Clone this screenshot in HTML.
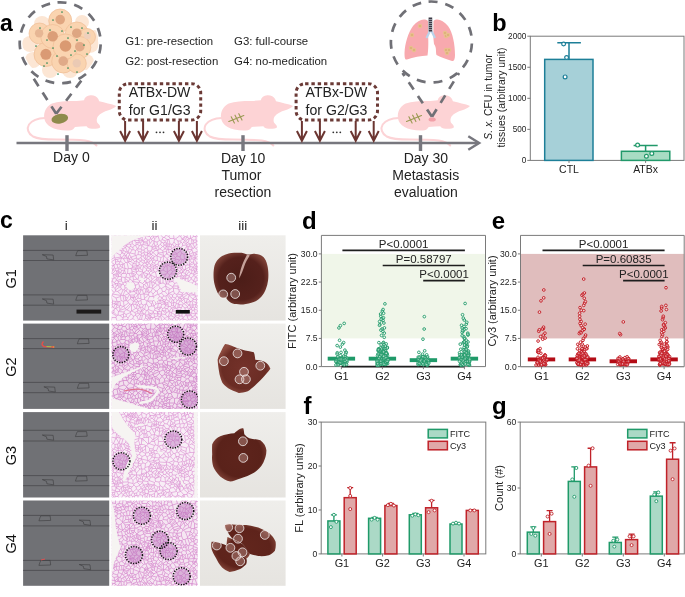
<!DOCTYPE html>
<html><head><meta charset="utf-8"><title>Figure</title>
<style>html,body{margin:0;padding:0;background:#fff;}svg{display:block;font-family:"Liberation Sans",sans-serif;opacity:0.999;}</style>
</head><body>
<svg width="685" height="597" viewBox="0 0 685 597">
<rect width="685" height="597" fill="#fff"/>
<defs><clipPath id="clipA1"><circle cx="60.3" cy="43" r="38"/></clipPath><clipPath id="clipH0"><rect x="111.5" y="235.3" width="86.19999999999999" height="85.30000000000001"/></clipPath><clipPath id="clipH1"><rect x="111.5" y="323.6" width="86.19999999999999" height="85.29999999999995"/></clipPath><clipPath id="clipH2"><rect x="111.5" y="412.1" width="86.19999999999999" height="85.39999999999998"/></clipPath><clipPath id="clipH3"><rect x="111.5" y="500.5" width="86.19999999999999" height="85.29999999999995"/></clipPath><radialGradient id="lg0" cx="0.5" cy="0.5" r="0.55"><stop offset="0" stop-color="#4c1d18"/><stop offset="0.75" stop-color="#55211c"/><stop offset="1" stop-color="#7c4036"/></radialGradient><radialGradient id="lg1" cx="0.5" cy="0.5" r="0.55"><stop offset="0" stop-color="#74322a"/><stop offset="0.75" stop-color="#6a2c24"/><stop offset="1" stop-color="#8e4c40"/></radialGradient><radialGradient id="lg2" cx="0.5" cy="0.5" r="0.55"><stop offset="0" stop-color="#5e241c"/><stop offset="0.75" stop-color="#5a221a"/><stop offset="1" stop-color="#7e4036"/></radialGradient><radialGradient id="lg3" cx="0.5" cy="0.5" r="0.55"><stop offset="0" stop-color="#62261d"/><stop offset="0.75" stop-color="#5e231b"/><stop offset="1" stop-color="#824438"/></radialGradient><linearGradient id="photoBg" x1="0" y1="0" x2="0" y2="1"><stop offset="0" stop-color="#efeeeb"/><stop offset="1" stop-color="#e6e4e0"/></linearGradient><filter id="blurH" x="0" y="0" width="100%" height="100%"><feGaussianBlur stdDeviation="0.3"/></filter></defs><text x="0" y="30.5" font-size="23" text-anchor="start" font-weight="bold" fill="#000" >a</text><g clip-path="url(#clipA1)"><circle cx="42" cy="24" r="8" fill="#fce6d4"/><circle cx="82" cy="22" r="7" fill="#fce6d4"/><circle cx="90" cy="44" r="9" fill="#fce6d4"/><circle cx="86" cy="62" r="8" fill="#fce6d4"/><circle cx="70" cy="70" r="8" fill="#fce6d4"/><circle cx="50" cy="70" r="8" fill="#fce6d4"/><circle cx="33" cy="60" r="8" fill="#fce6d4"/><circle cx="30" cy="44" r="8" fill="#fce6d4"/><circle cx="38" cy="34" r="8" fill="#fce6d4"/><circle cx="94" cy="36" r="6" fill="#fce6d4"/><circle cx="60.2" cy="20.5" r="11.5" fill="#fad4b0" stroke="#efbd95" stroke-width="0.7"/><circle cx="76.8" cy="33.5" r="11.5" fill="#fad4b0" stroke="#efbd95" stroke-width="0.7"/><circle cx="39.5" cy="33.5" r="10.5" fill="#fad4b0" stroke="#efbd95" stroke-width="0.7"/><circle cx="87" cy="37" r="8.5" fill="#fad4b0" stroke="#efbd95" stroke-width="0.7"/><circle cx="79.8" cy="47.5" r="11" fill="#fad4b0" stroke="#efbd95" stroke-width="0.7"/><circle cx="46" cy="54.5" r="12" fill="#fad4b0" stroke="#efbd95" stroke-width="0.7"/><circle cx="63.2" cy="61.5" r="11.5" fill="#fad4b0" stroke="#efbd95" stroke-width="0.7"/><circle cx="76.8" cy="63.5" r="9.5" fill="#fad4b0" stroke="#efbd95" stroke-width="0.7"/><circle cx="52.7" cy="36.5" r="12" fill="#fad4b0" stroke="#efbd95" stroke-width="0.7"/><circle cx="65.5" cy="46.5" r="12.5" fill="#fad4b0" stroke="#efbd95" stroke-width="0.7"/><circle cx="60.2" cy="19.6" r="4.8" fill="#e0a680"/><circle cx="76.8" cy="33.2" r="4.8" fill="#dea682"/><circle cx="52.7" cy="36.2" r="5.2" fill="#db9e78"/><circle cx="39.1" cy="33.2" r="4.2" fill="#e6b694"/><circle cx="65.5" cy="46" r="5.8" fill="#da9a72"/><circle cx="79.8" cy="46.7" r="4.8" fill="#e2aa88"/><circle cx="45.9" cy="54.3" r="5.5" fill="#da9a74"/><circle cx="63.2" cy="61.1" r="4.8" fill="#e0aa88"/><circle cx="76.8" cy="63.3" r="4.2" fill="#ebcab4"/><circle cx="87.4" cy="35.4" r="3.5" fill="#efd0bc"/><circle cx="62" cy="12" r="0.85" fill="#2f8a57"/><circle cx="53" cy="20" r="0.85" fill="#2f8a57"/><circle cx="50" cy="30" r="0.85" fill="#2f8a57"/><circle cx="40" cy="28" r="0.85" fill="#2f8a57"/><circle cx="47" cy="40" r="0.85" fill="#2f8a57"/><circle cx="36" cy="46" r="0.85" fill="#2f8a57"/><circle cx="53" cy="48" r="0.85" fill="#2f8a57"/><circle cx="57" cy="56" r="0.85" fill="#2f8a57"/><circle cx="47" cy="63" r="0.85" fill="#2f8a57"/><circle cx="71" cy="55" r="0.85" fill="#2f8a57"/><circle cx="68" cy="38" r="0.85" fill="#2f8a57"/><circle cx="71" cy="27" r="0.85" fill="#2f8a57"/><circle cx="77" cy="40" r="0.85" fill="#2f8a57"/><circle cx="84" cy="45" r="0.85" fill="#2f8a57"/><circle cx="88" cy="33" r="0.85" fill="#2f8a57"/><circle cx="75" cy="51" r="0.85" fill="#2f8a57"/><circle cx="68" cy="68" r="0.85" fill="#2f8a57"/><circle cx="58" cy="74" r="0.85" fill="#2f8a57"/><circle cx="77" cy="72" r="0.85" fill="#2f8a57"/><circle cx="87" cy="54" r="0.85" fill="#2f8a57"/><circle cx="62" cy="31" r="0.85" fill="#2f8a57"/><circle cx="82" cy="28" r="0.85" fill="#2f8a57"/><circle cx="44" cy="66" r="0.85" fill="#2f8a57"/></g><circle cx="60.2" cy="42.8" r="40.5" fill="none" stroke="#707076" stroke-width="2.7" stroke-dasharray="9 7.965" transform="rotate(-93.8 60.2 42.8)"/><path d="M428,21 C424,18 418,20 413,26 C408,33 405,43 404.5,53 C404.5,58 405,60 407,59.5 C413,57 421,56 427.5,55.5 C428.5,50 428.5,40 428,33 Z" fill="#f8a9ae"/><path d="M433.5,21 C437,18 443,20 448,26 C453,33 455,45 455,55 C455,59 454,61.5 452,61 C446,59 440,57 436.5,55 C435.5,52 437,48 434,44 C433,38 433.5,30 433.5,21 Z" fill="#f8a9ae"/><path d="M430,31 L426.5,38 M431.5,31 L435,38" stroke="#b9d3ea" stroke-width="2.2" fill="none"/><rect x="428.6" y="17.5" width="3.6" height="14" fill="#3a3a44"/><rect x="428.6" y="19" width="3.6" height="0.6" fill="#d0d0dc"/><rect x="428.6" y="21" width="3.6" height="0.6" fill="#d0d0dc"/><rect x="428.6" y="23" width="3.6" height="0.6" fill="#d0d0dc"/><rect x="428.6" y="25" width="3.6" height="0.6" fill="#d0d0dc"/><rect x="428.6" y="27" width="3.6" height="0.6" fill="#d0d0dc"/><rect x="428.6" y="29" width="3.6" height="0.6" fill="#d0d0dc"/><circle cx="420" cy="26" r="2.2" fill="#e9c08d"/><circle cx="420" cy="26" r="0.7" fill="#c9955d"/><circle cx="412" cy="35" r="2.2" fill="#e9c08d"/><circle cx="412" cy="35" r="0.7" fill="#c9955d"/><circle cx="411" cy="48" r="2.2" fill="#e9c08d"/><circle cx="411" cy="48" r="0.7" fill="#c9955d"/><circle cx="414" cy="50" r="2.2" fill="#e9c08d"/><circle cx="414" cy="50" r="0.7" fill="#c9955d"/><circle cx="445" cy="33" r="2.2" fill="#e9c08d"/><circle cx="445" cy="33" r="0.7" fill="#c9955d"/><circle cx="446" cy="36" r="2.2" fill="#e9c08d"/><circle cx="446" cy="36" r="0.7" fill="#c9955d"/><circle cx="448" cy="35" r="2.2" fill="#e9c08d"/><circle cx="448" cy="35" r="0.7" fill="#c9955d"/><circle cx="446" cy="50" r="2.2" fill="#e9c08d"/><circle cx="446" cy="50" r="0.7" fill="#c9955d"/><circle cx="449" cy="50" r="2.2" fill="#e9c08d"/><circle cx="449" cy="50" r="0.7" fill="#c9955d"/><circle cx="447" cy="53" r="2.2" fill="#e9c08d"/><circle cx="447" cy="53" r="0.7" fill="#c9955d"/><circle cx="431.4" cy="42" r="40.5" fill="none" stroke="#707076" stroke-width="2.7" stroke-dasharray="9 7.965" transform="rotate(-94 431.4 42)"/><text x="125.2" y="45.0" font-size="11.4" text-anchor="start" font-weight="normal" fill="#222" >G1: pre-resection</text><text x="125.2" y="65.3" font-size="11.4" text-anchor="start" font-weight="normal" fill="#222" >G2: post-resection</text><text x="234.1" y="45.0" font-size="11.4" text-anchor="start" font-weight="normal" fill="#222" >G3: full-course</text><text x="234.1" y="65.3" font-size="11.4" text-anchor="start" font-weight="normal" fill="#222" >G4: no-medication</text><g transform="translate(0,0)"><path d="M45,118 C38,118.3 32,120.5 29,124.5 C26.5,128.5 28,133.5 33,136.5 C38,139 46,139.6 56,139.6 C66,139.6 76,139.6 85,140.6 C90,141.3 94,142.8 96.5,145.5" fill="none" stroke="#fcd3d6" stroke-width="2" stroke-linecap="round"/><path d="M44.1,115.5 C44.5,110 47,106 52,103.5 C58,101.2 66,101 74,101 C78,100.8 81,100.6 84,100.2 C84.5,97.5 87,95.6 90.5,95.3 C94,95.1 97,96.5 98.3,99 C98.7,100 99,100.8 99.2,101.2 C102,101.8 105,102.6 108,103.6 C111,104.4 114,105 116.3,105.9 C114,108 111.5,109.3 108.5,110.3 C104,111.6 100.5,113.3 97.8,116.5 C96.6,118.5 96.5,120.7 97.2,122.5 C98.6,124.2 100.4,125.3 100.2,127.2 C99.5,128.6 96,128.9 92,128.8 C89,128.6 87.3,127.6 86.6,126.3 C83,126.6 79,126.7 75,127 C74,128.5 73,129.7 71,130.2 C67,130.8 62,130.4 57.5,129.4 C52.5,128.3 48.5,126.3 46.2,123 C44.6,120.7 44,118 44.1,115.5 Z" fill="#fdd3d5"/><ellipse cx="59.8" cy="118.7" rx="8.4" ry="4.8" transform="rotate(-10 59.8 118.7)" fill="#8e8a4b"/></g><g transform="translate(176.8,0)"><path d="M45,118 C38,118.3 32,120.5 29,124.5 C26.5,128.5 28,133.5 33,136.5 C38,139 46,139.6 56,139.6 C66,139.6 76,139.6 85,140.6 C90,141.3 94,142.8 96.5,145.5" fill="none" stroke="#fcd3d6" stroke-width="2" stroke-linecap="round"/><path d="M44.1,115.5 C44.5,110 47,106 52,103.5 C58,101.2 66,101 74,101 C78,100.8 81,100.6 84,100.2 C84.5,97.5 87,95.6 90.5,95.3 C94,95.1 97,96.5 98.3,99 C98.7,100 99,100.8 99.2,101.2 C102,101.8 105,102.6 108,103.6 C111,104.4 114,105 116.3,105.9 C114,108 111.5,109.3 108.5,110.3 C104,111.6 100.5,113.3 97.8,116.5 C96.6,118.5 96.5,120.7 97.2,122.5 C98.6,124.2 100.4,125.3 100.2,127.2 C99.5,128.6 96,128.9 92,128.8 C89,128.6 87.3,127.6 86.6,126.3 C83,126.6 79,126.7 75,127 C74,128.5 73,129.7 71,130.2 C67,130.8 62,130.4 57.5,129.4 C52.5,128.3 48.5,126.3 46.2,123 C44.6,120.7 44,118 44.1,115.5 Z" fill="#fdd3d5"/><g stroke="#9a9a52" stroke-width="1.1" fill="none" stroke-linecap="round"><path d="M52,121.5 L67,115.5"/><path d="M54.4,116.7 L57.6,123.10000000000001"/><path d="M58.199999999999996,115.17999999999999 L61.4,121.58"/><path d="M62.0,113.66 L65.2,120.06"/></g></g><g transform="translate(353.7,0)"><path d="M45,118 C38,118.3 32,120.5 29,124.5 C26.5,128.5 28,133.5 33,136.5 C38,139 46,139.6 56,139.6 C66,139.6 76,139.6 85,140.6 C90,141.3 94,142.8 96.5,145.5" fill="none" stroke="#fcd3d6" stroke-width="2" stroke-linecap="round"/><path d="M44.1,115.5 C44.5,110 47,106 52,103.5 C58,101.2 66,101 74,101 C78,100.8 81,100.6 84,100.2 C84.5,97.5 87,95.6 90.5,95.3 C94,95.1 97,96.5 98.3,99 C98.7,100 99,100.8 99.2,101.2 C102,101.8 105,102.6 108,103.6 C111,104.4 114,105 116.3,105.9 C114,108 111.5,109.3 108.5,110.3 C104,111.6 100.5,113.3 97.8,116.5 C96.6,118.5 96.5,120.7 97.2,122.5 C98.6,124.2 100.4,125.3 100.2,127.2 C99.5,128.6 96,128.9 92,128.8 C89,128.6 87.3,127.6 86.6,126.3 C83,126.6 79,126.7 75,127 C74,128.5 73,129.7 71,130.2 C67,130.8 62,130.4 57.5,129.4 C52.5,128.3 48.5,126.3 46.2,123 C44.6,120.7 44,118 44.1,115.5 Z" fill="#fdd3d5"/><g stroke="#9a9a52" stroke-width="1.1" fill="none" stroke-linecap="round"><path d="M52.8,121.5 L67.8,115.5"/><path d="M55.199999999999996,116.7 L58.4,123.10000000000001"/><path d="M58.99999999999999,115.17999999999999 L62.199999999999996,121.58"/><path d="M62.79999999999999,113.66 L65.99999999999999,120.06"/></g><ellipse cx="78.5" cy="119.5" rx="3.6" ry="2" fill="#f2a0a8"/></g><path d="M56.2,113.8 L33,77.5 M56.2,113.8 L82.5,79" fill="none" stroke="#707076" stroke-width="2.7" stroke-dasharray="8.8 7.6"/><path d="M432,116.8 L402.5,73 M432,116.8 L459,73" fill="none" stroke="#707076" stroke-width="2.7" stroke-dasharray="8.8 7.6"/><line x1="16.5" y1="143" x2="478" y2="143" stroke="#77777e" stroke-width="2.6"/><path d="M468.3,136.2 L479.2,143 L468.3,149.8" fill="none" stroke="#77777e" stroke-width="2.4"/><rect x="65.3" y="135.2" width="3.4" height="15.8" fill="#77777e"/><rect x="241.3" y="135.2" width="3.4" height="15.8" fill="#77777e"/><rect x="418.8" y="135.2" width="3.4" height="15.8" fill="#77777e"/><text x="71.4" y="162.4" font-size="14" text-anchor="middle" font-weight="normal" fill="#222" >Day 0</text><text x="243.1" y="162.6" font-size="14" text-anchor="middle" font-weight="normal" fill="#222" >Day 10</text><text x="241.5" y="179.7" font-size="14" text-anchor="middle" font-weight="normal" fill="#222" >Tumor</text><text x="243.0" y="196.9" font-size="14" text-anchor="middle" font-weight="normal" fill="#222" >resection</text><text x="425.9" y="162.6" font-size="14" text-anchor="middle" font-weight="normal" fill="#222" >Day 30</text><text x="425.7" y="179.7" font-size="14" text-anchor="middle" font-weight="normal" fill="#222" >Metastasis</text><text x="425.9" y="196.9" font-size="14" text-anchor="middle" font-weight="normal" fill="#222" >evaluation</text><g transform="translate(0,0)"><rect x="119.3" y="83.7" width="81.4" height="36.4" rx="9" fill="none" stroke="#6b3a36" stroke-width="3" stroke-dasharray="3.4 2.9"/><text x="159.6" y="97.1" font-size="14.1" text-anchor="middle" font-weight="normal" fill="#222" >ATBx-DW</text><text x="159.7" y="115.0" font-size="14.1" text-anchor="middle" font-weight="normal" fill="#222" >for G1/G3</text><path d="M125.1,121 L125.1,140.5 M120.1,131 L125.1,140.8 L130.1,131" fill="none" stroke="#6b3531" stroke-width="2"/><path d="M143.1,121 L143.1,140.5 M138.1,131 L143.1,140.8 L148.1,131" fill="none" stroke="#6b3531" stroke-width="2"/><path d="M178.9,121 L178.9,140.5 M173.9,131 L178.9,140.8 L183.9,131" fill="none" stroke="#6b3531" stroke-width="2"/><path d="M196.9,121 L196.9,140.5 M191.9,131 L196.9,140.8 L201.9,131" fill="none" stroke="#6b3531" stroke-width="2"/><circle cx="156.5" cy="132.3" r="0.9" fill="#333"/><circle cx="160" cy="132.3" r="0.9" fill="#333"/><circle cx="163.5" cy="132.3" r="0.9" fill="#333"/></g><g transform="translate(176.8,0)"><rect x="119.3" y="83.7" width="81.4" height="36.4" rx="9" fill="none" stroke="#6b3a36" stroke-width="3" stroke-dasharray="3.4 2.9"/><text x="159.6" y="97.1" font-size="14.1" text-anchor="middle" font-weight="normal" fill="#222" >ATBx-DW</text><text x="159.7" y="115.0" font-size="14.1" text-anchor="middle" font-weight="normal" fill="#222" >for G2/G3</text><path d="M125.1,121 L125.1,140.5 M120.1,131 L125.1,140.8 L130.1,131" fill="none" stroke="#6b3531" stroke-width="2"/><path d="M143.1,121 L143.1,140.5 M138.1,131 L143.1,140.8 L148.1,131" fill="none" stroke="#6b3531" stroke-width="2"/><path d="M178.9,121 L178.9,140.5 M173.9,131 L178.9,140.8 L183.9,131" fill="none" stroke="#6b3531" stroke-width="2"/><path d="M196.9,121 L196.9,140.5 M191.9,131 L196.9,140.8 L201.9,131" fill="none" stroke="#6b3531" stroke-width="2"/><circle cx="156.5" cy="132.3" r="0.9" fill="#333"/><circle cx="160" cy="132.3" r="0.9" fill="#333"/><circle cx="163.5" cy="132.3" r="0.9" fill="#333"/></g><text x="492.3" y="31" font-size="23.5" text-anchor="start" font-weight="bold" fill="#000" >b</text><rect x="530.3" y="36.2" width="153.70000000000005" height="124.2" fill="none" stroke="#7a7a7a" stroke-width="1"/><line x1="527.3" y1="160.40" x2="530.3" y2="160.40" stroke="#7a7a7a" stroke-width="1"/><text x="526.3" y="163.3" font-size="8.2" text-anchor="end" font-weight="normal" fill="#222" >0</text><line x1="527.3" y1="129.35" x2="530.3" y2="129.35" stroke="#7a7a7a" stroke-width="1"/><text x="526.3" y="132.25" font-size="8.2" text-anchor="end" font-weight="normal" fill="#222" >500</text><line x1="527.3" y1="98.30" x2="530.3" y2="98.30" stroke="#7a7a7a" stroke-width="1"/><text x="526.3" y="101.20000000000002" font-size="8.2" text-anchor="end" font-weight="normal" fill="#222" >1000</text><line x1="527.3" y1="67.25" x2="530.3" y2="67.25" stroke="#7a7a7a" stroke-width="1"/><text x="526.3" y="70.15" font-size="8.2" text-anchor="end" font-weight="normal" fill="#222" >1500</text><line x1="527.3" y1="36.20" x2="530.3" y2="36.20" stroke="#7a7a7a" stroke-width="1"/><text x="526.3" y="39.1" font-size="8.2" text-anchor="end" font-weight="normal" fill="#222" >2000</text><rect x="544.7" y="59.4" width="48.3" height="101.0" fill="#a6d0d8" stroke="#1d7f98" stroke-width="1.5"/><path d="M569,59.4 L569,42.8 M557.3,42.8 L580.9,42.8" stroke="#1d7f98" stroke-width="1.5" fill="none"/><circle cx="563.6" cy="44" r="1.9" fill="#fff" stroke="#1d7f98" stroke-width="1.2"/><circle cx="566.6" cy="57.5" r="1.9" fill="#fff" stroke="#1d7f98" stroke-width="1.2"/><circle cx="565.1" cy="76.9" r="1.9" fill="#fff" stroke="#1d7f98" stroke-width="1.2"/><rect x="621.4" y="151.3" width="48.4" height="9.099999999999994" fill="#a8dcc3" stroke="#21996a" stroke-width="1.5"/><path d="M645.6,151.3 L645.6,145.4 M633.6,145.4 L657.7,145.4" stroke="#21996a" stroke-width="1.5" fill="none"/><circle cx="637.6" cy="145.1" r="1.9" fill="#fff" stroke="#21996a" stroke-width="1.2"/><circle cx="651.8" cy="153.5" r="1.9" fill="#fff" stroke="#21996a" stroke-width="1.2"/><circle cx="646.4" cy="156.2" r="1.9" fill="#fff" stroke="#21996a" stroke-width="1.2"/><line x1="569" y1="160.4" x2="569" y2="162.9" stroke="#7a7a7a" stroke-width="1"/><line x1="645.6" y1="160.4" x2="645.6" y2="162.9" stroke="#7a7a7a" stroke-width="1"/><text x="569" y="172.6" font-size="10.5" text-anchor="middle" font-weight="normal" fill="#222" >CTL</text><text x="645.6" y="172.6" font-size="10.5" text-anchor="middle" font-weight="normal" fill="#222" >ATBx</text><text transform="translate(491.8,97) rotate(-90)" font-size="10.4" text-anchor="middle" fill="#222"><tspan font-style="italic">S. x.</tspan> CFU in tumor</text><text transform="translate(504.6,97.5) rotate(-90)" font-size="10.4" text-anchor="middle" fill="#222">tissues (arbitrary unit)</text><text x="0" y="228.2" font-size="23" text-anchor="start" font-weight="bold" fill="#000" >c</text><text x="66.15" y="229.8" font-size="13.5" text-anchor="middle" font-weight="normal" fill="#222" >i</text><text x="154.6" y="229.8" font-size="13.5" text-anchor="middle" font-weight="normal" fill="#222" >ii</text><text x="242.8" y="229.8" font-size="13.5" text-anchor="middle" font-weight="normal" fill="#222" >iii</text><rect x="23.1" y="235.3" width="86.1" height="85.30000000000001" fill="#707175"/><line x1="23.1" y1="250.4" x2="109.2" y2="250.4" stroke="#4e4e51" stroke-width="0.9"/><line x1="23.1" y1="260.5" x2="109.2" y2="260.5" stroke="#4e4e51" stroke-width="0.9"/><line x1="23.1" y1="294.9" x2="109.2" y2="294.9" stroke="#4e4e51" stroke-width="0.9"/><line x1="23.1" y1="305.2" x2="109.2" y2="305.2" stroke="#4e4e51" stroke-width="0.9"/><path d="M42.3,254.7 L53.099999999999994,255.0 L53.699999999999996,259.9 L46.9,258.9 L46.5,256.5 Z" fill="none" stroke="#3c3c3e" stroke-width="0.6"/><path d="M77.7,250.7 L86.9,250.7 L87.5,255.29999999999998 L75.7,255.7 L76.9,252.29999999999998 Z" fill="none" stroke="#3c3c3e" stroke-width="0.6"/><path d="M42.3,298.9 L53.099999999999994,299.2 L53.699999999999996,304.09999999999997 L46.9,303.09999999999997 L46.5,300.7 Z" fill="none" stroke="#3c3c3e" stroke-width="0.6"/><path d="M77.7,295.3 L86.9,295.3 L87.5,299.90000000000003 L75.7,300.3 L76.9,296.90000000000003 Z" fill="none" stroke="#3c3c3e" stroke-width="0.6"/><rect x="76.5" y="309.6" width="24.7" height="4" fill="#1c1a1a"/><g clip-path="url(#clipH0)"><g filter="url(#blurH)"><rect x="111.5" y="235.3" width="86.19999999999999" height="85.30000000000001" fill="#f8eef6"/><path transform="scale(0.5)" d="M222 645l1 0M223 645l3 1M218 641l4 4M218 641l5 -3M223 638l0 7M227 666l3 -21M230 645l-4 1M223 638l1 -3M215 635l6 -2M224 635l-3 -2M220 465l-14 11M221 633l-1 -6M197 624l23 3M230 645l4 -3M224 635l8 0M232 635l2 7M234 642l0 0M234 642l7 14M365 458l1 9M365 458l-8 10M357 468l2 4M365 469l1 -2M365 469l-4 3M361 472l-2 0M408 603l-9 -5M404 593l-5 1M399 598l0 -4M396 612l-2 3M396 612l-4 -3M394 615l-3 -1M391 614l1 -5M400 582l-1 -1M399 594l-3 -2M396 592l3 -11M250 557l0 -2M250 557l7 5M257 562l3 -4M259 556l1 2M259 556l-7 -2M252 554l-2 1M250 557l0 7M257 562l0 1M250 564l0 0M257 563l-7 1M239 574l-4 -3M239 574l2 0M235 570l0 1M235 570l8 0M243 570l-2 4M217 494l4 -6M221 488l0 -2M217 483l4 3M230 609l-1 -2M230 609l3 0M229 607l4 1M233 609l0 -1M225 608l-1 2M225 608l0 -3M225 605l-7 -1M224 610l-4 -2M220 608l-2 -3M218 610l2 -2M365 645l2 1M365 645l-5 5M383 617l-2 -3M383 617l1 3M384 620l-5 -2M379 618l2 -4M386 614l-3 3M386 614l-5 0M381 614l0 0M391 614l-2 2M392 609l0 0M392 609l-6 1M386 614l3 2M386 614l0 -4M386 610l0 0M391 649l2 -5M391 649l-3 -5M393 644l-4 -2M388 644l1 -2M396 643l-3 1M384 645l4 -1M284 547l-2 2M284 547l1 12M282 549l1 11M285 559l-2 1M234 642l12 -3M246 639l1 1M248 648l-1 -8M239 574l-8 6M235 571l-2 1M231 580l-1 -3M233 572l-3 5M235 583l7 6M235 583l8 -5M242 589l4 -9M243 578l3 2M231 582l0 -2M231 582l4 1M241 574l2 4M244 569l2 -1M244 569l-1 1M246 568l3 3M249 571l1 5M246 580l3 -1M249 579l1 -3M318 498l2 0M318 498l-1 -5M320 498l5 -5M325 493l-4 -4M317 493l0 -2M321 489l-4 2M210 547l13 0M219 536l3 1M222 537l4 1M226 538l-3 9M211 521l8 -5M219 516l2 1M221 517l1 2M222 519l-1 4M212 522l9 1M282 549l-4 2M283 560l-4 2M279 562l-3 -3M278 551l-2 8M238 528l2 2M238 528l2 -4M240 524l1 -2M247 528l-6 -6M247 528l-1 0M246 528l-6 2M219 516l0 -3M369 474l-2 5M369 474l-5 4M367 479l-3 0M364 478l0 1M365 469l5 4M370 473l-1 1M361 472l3 6M370 473l4 1M367 479l2 2M369 481l5 -7M367 485l6 2M367 485l2 -4M371 482l-2 -1M371 482l3 3M374 485l-1 2M365 487l2 -2M365 487l-3 -3M364 479l-3 3M369 481l0 0M362 484l-1 -2M365 491l7 -1M365 491l-3 5M369 499l5 -7M369 499l-7 0M372 490l1 1M362 496l0 3M374 492l-1 -1M365 487l0 4M373 487l-1 3M358 493l4 3M358 493l-1 -2M362 484l-5 7M376 485l2 2M376 485l-2 0M378 487l-5 4M407 502l-11 -1M407 502l-10 8M397 510l-4 -1M393 509l2 -7M396 501l-1 1M357 468l-6 -7M384 487l2 1M384 487l-1 -9M388 486l-2 2M388 486l-2 -6M383 478l3 2M388 486l4 -2M386 480l6 0M392 480l2 2M394 482l-2 2M399 598l-1 0M400 605l-2 0M398 598l0 7M397 612l5 3M397 612l1 -7M398 605l0 0M396 612l1 0M392 609l1 -3M398 605l-5 1M344 563l-5 -4M344 563l-5 1M339 564l0 0M339 559l0 5M346 563l0 -6M346 563l-2 0M346 557l-7 -5M339 559l-1 -6M339 552l-1 1M335 559l4 5M335 559l0 -3M338 553l-3 3M357 562l5 -6M357 562l0 1M362 563l-2 1M362 563l3 -6M357 563l3 1M365 557l-3 -1M381 511l0 1M381 511l-1 0M380 511l-1 8M381 512l3 6M384 518l-5 1M390 563l2 5M390 563l-2 -1M388 562l-3 4M385 572l0 -6M385 572l6 -3M391 569l1 -1M394 556l5 -1M394 556l1 5M399 555l4 5M395 561l6 1M390 563l5 -2M392 568l2 0M401 562l-7 6M399 581l-1 0M398 581l7 -8M385 572l-1 2M391 569l2 7M393 576l-6 0M384 574l3 2M389 585l-2 -2M389 585l8 -5M393 576l1 0M394 576l3 3M397 579l0 1M387 576l0 7M250 564l-4 2M246 566l-3 -4M243 554l7 1M243 554l0 4M243 562l0 -4M246 566l0 2M250 564l6 5M249 571l7 -2M256 569l0 0M257 563l2 3M256 569l3 -3M271 570l-7 1M271 570l-5 -7M266 563l-1 0M265 563l-3 4M264 571l-2 -4M260 558l5 4M265 562l0 1M262 567l-3 -1M210 547l10 8M226 558l-6 -3M226 558l2 -2M228 556l-1 -7M223 547l2 0M225 547l2 2M227 549l0 0M229 556l-1 0M229 556l5 -4M227 549l7 3M237 553l-4 6M237 553l0 0M233 559l-4 -3M237 553l-3 -1M236 466l2 7M238 463l3 7M238 473l3 -3M229 607l0 0M229 607l-4 1M230 609l-3 6M224 610l1 4M225 614l2 1M218 614l4 1M225 614l-3 1M213 619l7 3M222 615l-2 7M220 627l1 -2M220 622l1 3M232 635l1 -3M234 631l2 -1M234 631l-1 1M246 639l0 -3M236 630l4 1M246 636l-6 -5M233 609l1 2M227 615l3 2M230 617l1 0M231 617l3 -6M237 603l-2 0M237 603l-2 7M235 603l-2 5M235 610l-1 1M229 607l3 -4M225 605l0 -3M225 602l7 1M241 593l-9 3M241 593l1 8M237 603l3 0M235 603l-1 -1M242 601l-2 2M232 596l2 6M232 603l2 -1M220 555l3 8M219 563l3 0M222 563l1 0M226 558l-2 5M224 563l-1 0M223 563l0 0M222 563l-1 6M218 570l3 -1M225 602l-3 -10M216 592l6 0M232 596l-8 -5M222 592l2 -1M242 591l-17 -3M242 591l-1 2M224 591l1 -3M231 582l-3 3M242 590l0 -1M242 590l0 1M228 585l-3 3M384 645l-5 -5M379 640l2 -2M389 642l1 -1M381 638l9 3M360 650l-4 -6M356 644l-2 0M352 646l2 -2M382 586l3 -2M382 586l6 4M389 585l1 5M385 584l2 -1M388 590l2 0M396 592l-5 0M398 581l-1 -1M391 592l-1 -2M395 642l-4 -2M395 642l1 -1M396 641l-2 -7M391 640l-1 -2M394 634l-4 4M396 643l-1 -1M390 641l1 -1M381 638l3 -4M384 634l0 0M384 634l6 4M390 631l-6 3M390 631l4 3M394 634l0 0M405 639l-7 1M405 639l-7 -7M398 640l-3 -6M398 632l-3 2M396 641l2 -1M394 634l1 0M399 629l0 0M399 629l-1 3M400 629l-1 0M394 615l3 4M400 618l-3 1M399 629l-6 -2M399 629l-4 -7M393 627l2 -5M389 616l0 3M397 619l-2 1M389 619l6 1M395 620l0 2M379 640l-2 0M383 631l1 3M383 631l-9 1M377 640l-3 -8M374 661l1 -20M377 640l-2 1M367 646l8 -5M375 641l0 0M317 541l-1 0M317 541l-3 -7M316 541l-5 -5M314 534l-2 -2M311 536l1 -4M250 581l2 1M250 581l-4 10M252 582l6 5M258 587l-9 4M249 591l-3 0M242 590l4 1M250 581l-1 -2M246 591l0 0M247 603l-5 -2M247 603l1 -1M246 591l2 11M339 464l-5 3M332 466l2 1M319 462l9 5M328 467l4 -1M347 469l-7 -2M347 469l4 -8M320 498l5 3M325 493l2 0M327 493l3 5M325 501l5 -3M319 481l-5 3M319 481l-3 -9M310 477l-2 5M310 477l4 -4M314 484l-6 -1M314 473l2 -1M308 483l0 -1M321 489l2 -5M317 491l-2 -2M315 489l-1 -5M323 484l-2 -2M321 482l-2 -1M315 489l-5 3M308 485l2 7M308 485l0 -2M298 456l-6 16M292 472l7 1M299 473l2 -10M318 466l-1 2M317 468l-12 0M305 468l-4 -5M304 495l0 -1M304 495l9 3M304 494l6 -2M310 492l1 2M313 498l-2 -4M308 485l-5 8M303 493l1 1M310 492l0 0M317 493l-6 1M318 498l-2 2M316 500l-3 -2M229 515l1 1M229 515l-7 4M221 523l1 1M222 524l8 -5M230 516l0 3M229 529l-1 1M229 529l-7 -5M222 524l-3 5M228 530l0 0M228 530l-8 2M220 532l-1 -3M218 529l1 0M222 524l0 0M219 536l1 -4M222 537l6 -7M226 538l0 0M225 547l4 -4M226 538l3 5M228 530l1 6M226 538l3 -2M278 551l-5 -4M276 559l-2 -1M273 547l-2 2M271 549l-2 3M269 552l5 6M259 556l2 -2M265 562l2 -2M261 554l4 -1M267 560l-1 -7M265 553l1 0M269 552l-1 0M267 560l7 -2M266 553l2 -1M271 549l-6 -3M268 552l-3 -6M247 528l1 0M241 522l2 -6M247 518l0 -1M247 518l4 7M243 516l4 1M251 525l-3 3M222 509l1 0M222 509l-2 -5M221 502l-1 2M221 502l9 6M223 509l3 1M226 510l2 0M230 508l-2 2M219 513l4 -4M217 494l6 4M223 498l-2 4M221 517l5 -7M229 515l-1 -5M240 510l-8 -5M240 510l2 4M232 505l-2 3M230 516l12 -2M361 482l-5 0M357 491l0 -1M356 482l1 8M359 472l-8 6M356 482l-5 -4M347 469l1 8M348 477l1 1M351 478l-2 0M375 500l-1 -8M375 500l1 -1M374 492l4 1M378 493l-2 6M390 517l0 -1M390 517l8 2M390 516l7 -4M397 512l8 7M405 519l-7 0M397 510l0 2M384 500l2 5M384 500l-5 4M386 505l-7 4M379 509l0 -5M375 500l0 0M384 500l0 -1M376 499l8 0M379 504l-4 -4M374 492l0 0M369 499l4 2M375 500l-2 1M389 494l4 -4M389 494l0 1M389 495l3 2M392 497l11 -10M403 487l-10 3M386 488l3 6M392 484l1 6M396 501l-4 -4M409 485l-15 -3M386 506l4 -1M386 506l2 4M390 505l2 5M388 510l2 3M390 513l2 -3M381 511l7 -1M380 511l-1 -2M386 505l0 1M379 509l0 0M393 509l-1 1M395 502l-5 3M381 512l9 4M390 516l0 -3M390 516l0 0M387 473l5 0M387 473l-1 -5M386 467l0 1M386 467l6 -1M392 466l2 1M394 467l-1 5M393 472l-1 1M383 478l-1 -1M382 477l5 -4M392 480l0 -7M384 464l2 3M400 465l-6 2M402 475l-9 -3M316 555l4 -1M316 555l4 12M320 554l1 13M320 567l1 0M316 555l-2 0M314 555l-1 -1M317 541l2 0M320 554l1 0M321 554l1 -4M316 541l-5 3M322 550l-1 -8M311 544l2 10M319 541l2 1M319 532l-2 -1M319 532l1 3M317 531l-3 3M319 541l1 -6M342 548l3 -5M342 548l-3 2M339 550l-4 -4M342 539l3 4M342 539l-7 5M335 546l0 -1M335 544l0 1M348 548l-6 0M348 548l4 -4M352 544l0 -3M352 541l-2 0M350 541l-5 2M346 557l7 -3M353 554l-5 -6M339 552l0 -2M322 550l10 -2M332 548l3 -2M321 542l5 -2M326 540l9 5M350 541l-2 -3M342 539l1 -3M348 538l-5 -2M363 570l-1 1M363 570l4 0M367 570l-1 4M366 574l-3 1M363 575l-1 -4M369 563l-1 7M369 563l-7 0M360 564l3 6M368 570l-1 0M399 555l0 -5M399 550l2 -1M384 518l4 0M390 517l-1 1M389 518l-1 0M402 529l-4 1M398 519l-3 8M395 527l3 3M389 518l5 9M395 527l-1 0M396 572l0 -2M396 572l4 0M396 570l5 -2M394 568l2 2M394 576l2 -4M397 579l3 -7M380 575l0 0M380 575l-2 6M380 575l4 8M378 581l6 2M385 566l-4 0M384 574l-4 1M381 566l-4 7M377 573l3 2M385 584l-1 -1M233 560l1 1M233 560l-4 5M234 561l2 2M229 565l1 2M236 563l1 3M230 567l0 0M230 567l6 0M237 566l-1 1M237 553l5 0M233 559l0 1M243 554l-1 -1M243 558l-9 3M224 563l5 2M243 562l-7 1M244 569l-7 -3M235 570l1 -3M233 572l-3 -5M252 582l2 -3M250 576l5 -1M254 579l1 -4M260 585l-3 -9M260 585l0 -1M260 584l4 -8M257 576l0 -2M264 576l-1 -3M263 573l-6 1M257 574l0 0M258 587l0 0M258 587l2 -2M254 579l3 -3M255 575l2 -1M256 569l1 5M264 571l-1 2M234 546l-3 2M234 546l2 1M231 548l6 2M236 547l1 3M227 549l4 -1M237 553l0 -3M237 546l6 3M237 546l-1 1M242 553l1 -4M228 625l0 -5M228 625l-4 1M228 620l-7 5M224 626l-3 -1M234 631l-6 -6M236 630l1 -7M237 623l0 0M237 623l-5 -6M230 617l-2 3M231 617l1 0M233 632l-9 -6M221 625l0 0M247 634l0 -6M247 634l6 -1M252 629l1 4M252 629l-4 -3M248 626l-1 2M246 636l1 -2M240 631l7 -3M237 623l11 1M248 624l0 2M232 617l7 -4M235 610l6 1M239 613l2 -2M240 603l1 8M241 611l0 0M239 613l1 6M241 611l5 2M246 613l-6 6M237 623l2 -2M239 621l1 -2M220 576l-1 0M220 576l7 -2M219 576l4 -5M223 571l2 0M227 574l-1 -3M226 571l-1 0M228 585l-8 -9M230 577l-3 -3M221 569l2 2M223 563l2 8M230 567l-4 4M359 642l2 -3M359 642l6 2M361 639l5 -2M365 644l2 -6M367 638l-1 -1M356 644l3 -2M357 636l4 3M357 636l-3 7M354 643l0 1M365 645l0 -1M375 641l-8 -3M390 631l1 -3M393 627l-2 0M391 628l0 -1M389 619l-1 1M391 627l-3 -7M386 614l0 0M384 620l1 1M385 621l3 -1M383 631l-1 -2M374 632l-1 -2M373 630l9 -1M391 628l-9 -2M382 629l0 -3M385 621l-3 5M382 626l0 0M314 644l4 1M314 644l3 -5M318 645l6 -2M324 643l0 0M317 639l7 4M289 521l-1 5M289 521l-5 -1M284 520l-3 2M281 522l0 0M281 522l6 5M287 527l1 -1M286 545l-1 -1M286 545l-2 2M273 547l0 -2M273 544l0 1M273 544l4 -2M285 544l-8 -2M286 545l0 0M285 559l1 -1M286 558l5 -3M286 545l4 8M291 555l-1 -2M286 545l1 0M287 545l9 3M290 553l6 -5M284 520l-2 -5M281 522l-5 -4M276 518l6 -3M268 590l1 4M268 590l-8 0M269 594l-7 0M260 590l1 3M261 593l1 1M266 637l-8 4M266 637l1 -5M267 632l-5 -4M262 628l-6 8M256 636l0 3M256 639l2 2M271 642l-5 -5M271 642l-8 6M263 648l-4 -4M259 644l-1 -3M252 629l9 -4M253 633l3 3M261 625l1 3M247 640l9 -1M254 647l5 -3M296 602l9 0M296 602l7 6M303 608l2 -3M305 602l0 3M279 639l4 0M279 639l2 -9M283 639l2 -9M285 630l-4 0M255 596l-5 -3M255 596l-3 5M252 601l-2 -8M259 589l-4 7M259 589l-1 -2M249 591l1 2M255 602l-3 -1M255 602l6 -4M259 589l1 1M261 598l0 -5M252 601l0 0M248 602l4 -1M318 466l8 9M317 468l-1 4M321 482l3 -3M326 475l-2 4M327 493l1 -3M323 484l4 2M328 490l-1 -4M297 449l-10 21M287 470l-3 -3M292 472l-1 1M291 473l-3 -1M287 470l1 2M301 475l4 -4M301 475l0 3M301 478l1 1M302 479l5 -4M307 475l-1 -3M306 472l-1 -1M299 473l2 2M305 468l0 3M305 481l-3 -2M305 481l3 1M310 477l-3 -2M314 473l-8 -1M316 500l0 1M304 498l0 -3M304 498l7 3M316 501l-5 0M305 522l3 -2M305 522l-2 -2M303 520l0 -1M303 519l4 -3M308 520l-1 -4M307 516l0 0M304 498l-1 3M306 505l5 -4M306 505l-1 0M303 501l2 4M313 511l-7 -6M313 511l-4 2M305 511l4 2M305 511l-2 -2M305 505l-2 4M226 490l-3 8M226 490l5 0M231 490l-2 9M223 498l6 1M221 488l5 2M223 498l0 0M221 486l5 -4M226 482l7 5M233 487l-2 3M232 505l0 -2M232 503l-3 -4M231 519l3 0M231 519l0 5M234 519l3 4M231 524l6 -1M242 514l1 2M230 519l1 0M243 516l0 0M243 516l-9 3M231 528l-2 1M231 528l0 -4M240 524l-3 -1M243 516l0 0M238 528l-4 1M231 528l3 1M229 536l1 1M229 543l2 -2M230 537l1 4M234 529l2 7M230 537l6 -1M240 530l1 2M241 532l-4 4M236 536l1 0M273 544l-1 -4M273 545l-9 -3M272 540l0 0M272 540l-10 -3M264 542l-2 -5M265 546l-1 -1M264 542l0 3M264 535l-2 2M264 535l6 1M270 536l2 4M262 537l0 0M261 554l-3 -7M265 553l-2 -7M258 547l5 -1M264 545l-1 1M243 516l5 -6M247 517l5 -6M252 511l-4 -1M258 506l-2 0M258 506l2 0M259 496l-3 9M259 496l5 4M264 500l-4 6M256 505l0 1M264 535l1 -2M265 533l0 -1M254 525l3 12M254 525l2 -1M262 537l-5 0M256 524l9 8M247 518l6 -2M252 510l0 1M252 510l1 6M253 516l0 0M281 522l-3 4M276 518l-2 0M278 526l-5 -4M274 518l-1 4M246 528l-2 7M241 532l3 3M244 535l0 0M248 528l2 9M244 535l6 2M345 488l3 -4M345 488l4 6M348 484l4 5M349 494l3 -5M349 478l-1 6M357 490l-5 -1M358 493l-9 1M349 494l0 0M379 492l6 6M379 492l1 -4M380 488l0 0M380 488l6 9M386 497l-1 1M378 493l1 -1M384 499l1 -1M378 487l2 1M384 487l-4 1M389 495l-3 2M374 507l2 2M374 507l-6 2M376 509l-4 9M368 509l1 9M369 518l2 0M372 518l-1 0M379 509l-3 0M373 501l1 6M363 506l-2 -4M363 506l5 3M362 499l0 0M362 499l-1 3M379 519l0 0M378 519l1 0M378 519l-6 -1M363 506l-3 8M364 519l3 0M364 519l-2 -1M367 519l2 -1M362 518l-2 -4M367 519l2 11M375 530l-4 -12M375 530l-4 1M371 531l-2 -1M380 467l1 2M380 467l-4 -1M375 468l-1 6M375 468l1 -2M381 469l0 8M374 474l4 3M381 477l-2 0M379 477l-1 0M384 464l-4 3M386 468l-5 1M366 467l9 1M374 474l0 0M382 477l-1 0M371 482l7 -5M376 485l3 -8M398 598l-3 1M393 606l-1 0M392 606l1 -6M395 599l-2 1M375 587l3 -6M375 587l-1 -1M377 573l-1 0M374 586l-4 -3M370 583l6 -10M381 566l-4 -3M375 564l1 -1M375 564l0 8M377 563l-1 0M376 573l-1 -1M374 586l-10 5M365 586l4 -3M365 586l-1 4M370 583l-1 0M364 590l0 1M358 583l7 3M358 583l-3 5M364 590l-9 -2M356 578l-9 -2M356 578l2 2M347 576l0 6M358 580l0 3M349 587l-2 -5M349 587l5 2M354 589l1 -1M356 576l0 -1M356 576l6 -4M356 575l4 -4M362 572l-2 -1M356 578l0 -2M362 578l-4 2M362 578l1 -3M362 571l0 1M356 572l1 -2M356 572l-9 0M357 570l-2 -5M355 565l-6 2M349 567l-2 5M356 575l0 -3M360 571l-3 -1M357 563l-2 2M346 563l3 4M353 554l0 0M357 562l-4 -8M321 554l5 3M321 567l5 -1M326 566l0 -9M335 556l-5 1M332 548l-5 9M330 557l-3 0M335 559l-2 9M330 557l3 11M326 557l1 0M320 576l-3 -6M320 576l3 1M323 577l8 -5M320 567l-1 1M319 568l-2 2M326 566l6 3M331 572l1 -3M339 564l-3 4M333 568l0 0M336 568l-3 0M347 572l-1 2M336 568l10 6M333 568l-1 1M347 576l-1 -1M346 574l0 1M332 532l-3 2M332 532l-7 -9M329 534l-4 -2M325 532l-2 -4M323 528l0 -4M323 524l2 -1M334 532l-2 0M334 532l1 12M326 540l3 -6M320 535l5 -3M319 532l4 -4M318 523l-2 5M318 523l2 0M317 531l-1 -3M320 523l3 1M352 541l3 -2M353 531l-4 0M353 531l2 4M349 531l0 1M349 532l-1 6M355 539l0 -3M355 535l0 1M361 527l3 4M361 527l-7 1M353 531l1 -3M355 535l9 -4M364 519l-3 8M369 530l-4 2M364 531l1 1M378 543l3 4M378 543l-5 7M381 547l-3 5M373 550l5 2M371 547l2 -6M371 547l1 2M377 541l-4 0M377 541l1 2M372 550l0 -1M372 550l1 0M368 539l3 0M368 539l-3 4M371 539l-6 6M365 543l-1 3M365 545l-1 1M371 547l-6 -2M373 541l-2 -2M371 539l0 0M388 527l-1 -3M388 527l-9 4M387 524l-4 1M383 525l-4 5M379 531l0 -1M379 530l0 0M389 529l3 -1M389 529l-1 -2M388 518l-1 6M394 527l-2 1M379 519l4 6M378 519l1 11M375 530l4 0M389 529l0 2M392 528l1 4M389 531l3 2M393 532l-1 1M240 510l4 -4M232 503l5 -4M244 506l-2 -5M237 499l5 2M226 482l-4 -4M226 482l-7 -3M222 478l-3 1M226 482l0 0M226 482l0 0M220 466l7 3M227 469l3 -6M217 473l2 -1M222 478l0 -2M222 476l-3 -4M220 466l0 4M219 472l1 -2M244 468l5 3M249 471l3 -1M252 470l10 -7M241 470l3 -2M278 464l-11 3M267 467l-3 -1M325 646l10 -3M338 667l-1 -22M335 643l2 2M368 607l2 -2M368 607l-1 1M367 608l-4 -5M363 603l5 -5M370 605l-2 -7M386 610l-2 -8M392 606l-7 -5M384 602l1 -1M357 600l3 2M357 600l-3 1M360 602l-4 6M353 607l3 1M353 607l-1 -1M352 606l2 -5M366 637l0 -2M373 630l-1 0M372 630l-6 5M285 544l0 -3M277 542l0 -4M277 538l2 -2M279 536l1 1M285 541l-5 -4M279 536l-2 -6M279 529l-2 1M279 529l4 2M280 537l3 -6M287 527l-2 3M279 529l-1 -3M283 531l2 -1M285 541l2 -8M285 530l2 2M287 533l0 -1M287 545l6 -4M293 541l0 -3M287 533l6 5M293 541l3 1M296 542l5 -3M301 538l0 1M301 538l-6 -2M293 538l2 -2M274 531l-2 5M274 531l0 0M274 531l1 0M275 531l1 6M272 536l1 2M273 538l3 -1M265 533l9 -2M270 536l2 0M277 530l-2 1M272 528l1 -6M272 528l2 3M273 522l0 0M277 538l-1 -1M272 540l1 -2M291 562l-2 -1M291 562l4 -6M286 558l3 3M291 555l1 0M295 556l-3 -1M296 548l0 0M292 555l4 -7M299 545l-3 -3M299 545l0 3M299 548l-3 0M282 515l1 -3M283 512l-1 -2M282 510l-6 -1M273 516l1 2M273 516l-1 -5M272 511l4 -2M263 465l-2 9M252 470l3 7M261 474l-6 3M287 569l0 5M287 569l-2 -2M287 574l-5 0M285 567l-6 -3M282 574l-3 -2M279 572l-2 -5M277 567l1 -2M278 565l1 -1M288 577l-1 -3M288 577l-3 3M285 580l-3 0M282 580l0 -6M289 563l0 -2M289 563l-4 4M279 562l0 2M271 570l0 1M266 563l12 2M271 571l6 -4M314 555l0 2M319 568l-5 -9M314 557l0 2M264 577l4 6M264 577l5 0M269 577l-1 6M268 583l0 0M260 584l8 -1M264 576l0 1M271 571l0 5M271 576l-2 1M268 590l4 -3M268 583l1 0M272 587l-3 -4M307 540l-5 0M307 540l2 4M306 545l3 -1M306 545l-4 -3M302 542l0 -2M311 544l-2 0M311 536l-4 1M307 537l0 3M299 545l3 -3M301 539l1 1M305 525l4 1M305 525l-2 3M303 528l6 3M309 526l2 4M309 531l2 0M311 530l0 1M313 521l-4 5M313 521l-5 -1M305 522l0 3M298 527l0 -2M298 527l3 2M301 529l2 -1M303 520l-4 3M298 525l1 -2M315 521l3 2M315 521l-2 0M316 528l-5 2M312 532l-1 -1M307 537l-5 -2M307 537l1 -4M308 533l-7 -2M302 535l-1 -3M301 532l0 -1M307 537l0 0M301 538l1 -3M309 531l-1 2M301 529l0 2M295 535l0 1M295 535l6 -3M279 639l-2 1M277 640l-3 -7M281 630l-2 -1M279 629l-5 4M261 623l2 -1M261 623l-7 -3M254 620l9 -11M263 622l0 -13M263 609l0 0M248 624l4 -5M261 625l0 -2M252 619l2 1M251 617l-3 -4M251 617l0 0M251 617l9 -9M248 612l0 1M248 612l9 -6M257 606l3 2M246 613l2 0M239 621l12 -4M252 619l-1 -2M263 609l-3 -1M247 603l1 9M255 602l2 4M264 595l3 3M264 595l4 0M268 595l-1 3M269 594l0 0M262 594l2 1M269 594l-1 1M271 595l-2 -1M271 595l1 4M267 598l1 3M268 601l4 -2M261 598l6 5M268 601l-1 2M265 608l2 -5M265 608l-2 1M267 603l0 0M320 576l-6 6M323 577l2 6M325 583l-2 3M317 589l6 -3M317 589l-1 -1M316 588l-2 -6M297 590l2 3M297 590l-8 7M299 593l-4 9M289 599l0 -2M289 599l5 3M294 602l1 0M309 599l0 1M309 599l-2 -6M296 602l-1 0M309 600l-4 2M307 593l-1 0M306 593l-7 0M303 612l0 -4M303 612l-6 2M297 614l-4 -6M293 608l1 -6M288 588l1 9M288 588l0 0M297 590l0 -1M288 588l9 1M309 645l2 12M309 645l1 -1M313 644l1 3M313 644l-3 0M314 644l-1 0M311 637l-1 7M311 637l6 1M317 639l0 -1M274 642l2 -1M276 641l7 8M271 642l3 0M267 632l4 -1M277 640l-1 1M274 633l-3 -2M283 639l4 2M291 631l0 5M291 631l0 -1M291 630l-1 -2M290 628l-1 0M285 630l4 -2M291 636l-4 5M283 649l4 -8M287 641l0 0M300 639l2 -4M300 639l-2 -3M298 636l0 0M298 636l3 -1M301 635l1 0M297 635l-6 -4M297 635l1 1M295 638l-4 -2M295 638l3 -2M299 631l1 0M299 631l-2 4M300 631l1 4M304 645l5 0M304 645l-2 1M304 645l-2 -4M302 641l-2 -1M300 640l-2 1M298 641l1 6M324 643l1 3M299 631l-1 -1M291 630l5 0M298 630l-2 0M328 467l3 4M326 475l3 0M329 475l2 -4M334 467l-1 4M331 471l2 0M340 467l-2 6M333 471l5 2M348 477l-8 0M338 473l2 4M340 488l4 1M340 488l-2 -9M344 489l1 -1M340 477l-2 2M324 479l7 3M327 486l2 -1M329 485l2 -3M329 475l5 4M331 482l3 -3M338 479l-2 0M336 479l-2 0M315 521l-1 -9M320 523l2 -8M322 515l-8 -3M313 511l1 0M309 513l-2 3M314 512l0 -1M326 522l2 -10M326 522l3 1M329 523l6 -4M328 512l6 5M334 517l1 2M335 519l0 0M328 512l0 0M328 512l0 0M325 523l1 -1M328 512l-6 3M335 531l-1 -3M335 531l-1 1M334 528l-5 -5M334 528l1 -2M335 526l0 -7M335 526l4 -4M339 521l0 1M339 521l-4 -2M340 527l4 -3M340 527l-3 4M337 531l5 3M345 526l-1 -2M345 526l-2 7M342 534l1 -1M335 531l2 0M339 522l1 5M343 536l-1 -2M349 531l-4 -5M349 532l-6 1M351 519l2 8M351 519l-6 5M345 524l0 0M345 524l8 3M353 527l0 0M359 520l-8 -2M359 520l-6 7M351 518l0 1M342 520l3 4M342 520l-3 1M344 524l1 0M354 528l-1 -1M362 518l-3 2M362 499l-7 0M361 502l-7 5M355 499l-6 3M349 502l0 2M349 504l5 3M340 488l-1 0M344 489l-2 5M339 488l-1 4M342 494l-4 -2M294 484l1 -4M294 484l1 3M295 487l1 4M298 480l2 7M298 480l-3 0M300 487l-3 4M296 491l1 0M297 491l0 0M305 481l-5 6M301 478l-3 2M291 473l0 3M291 476l4 4M303 493l-6 -2M294 496l2 6M294 496l3 -5M296 502l5 0M303 501l-2 1M278 464l0 4M284 467l-5 1M278 468l1 0M267 467l8 3M278 468l-3 2M303 519l-2 -2M299 523l-2 -4M301 517l-4 2M307 516l-6 0M301 517l0 -1M305 511l-4 4M301 516l0 -1M293 525l3 -1M293 525l1 -4M294 521l2 3M289 521l2 -2M290 526l-2 0M290 526l3 -1M294 521l-2 -2M291 519l1 0M298 525l-2 -1M297 519l-4 -1M292 519l1 -1M301 515l-3 -2M298 513l-2 -1M293 518l3 -6M302 509l-6 -2M302 509l0 0M302 509l-2 -4M296 507l4 -2M295 507l1 0M295 507l0 3M298 513l4 -4M295 510l1 2M303 509l-1 0M301 502l-1 3M296 502l-1 3M295 505l0 2M237 536l1 2M244 535l-3 3M238 538l3 0M255 547l1 -9M255 547l-2 1M253 548l-2 -1M251 547l-2 -7M256 538l-5 -1M251 537l-2 3M249 540l0 0M258 547l-3 0M257 537l-1 1M252 554l1 -6M243 549l1 -2M246 547l5 0M246 547l-2 0M246 547l3 -7M251 525l3 0M250 537l1 0M241 538l2 3M243 541l6 -1M244 547l-2 -2M242 545l1 -4M249 507l4 -3M249 507l-5 -1M253 504l-6 -3M244 506l3 -5M252 510l4 -4M255 504l1 1M255 504l-2 0M248 510l1 -3M244 506l0 0M246 500l-4 1M246 500l1 1M256 524l0 0M253 516l1 1M256 524l-2 -7M258 506l1 3M253 516l4 -3M259 509l-2 4M254 517l3 0M257 513l0 4M262 523l4 4M262 523l3 -4M265 519l0 0M265 519l4 4M269 523l-2 4M267 527l-1 0M265 532l1 -5M256 524l2 -1M258 523l4 0M273 516l-8 3M273 522l-4 1M272 528l-5 -1M339 488l-2 0M336 479l-2 7M337 488l-3 -2M329 485l4 1M334 486l-1 0M391 592l-5 6M391 592l2 6M393 598l-2 1M391 599l-5 0M386 598l0 1M391 592l0 0M395 599l-2 -1M393 600l-2 -1M385 601l1 -2M366 580l3 2M366 580l1 -4M369 582l3 -10M367 576l4 -4M371 572l1 0M362 578l4 2M369 583l0 -1M366 574l1 2M375 572l-3 0M368 570l3 2M369 563l1 -1M370 562l5 2M357 600l1 -4M360 602l2 0M362 602l1 -4M358 596l5 2M351 596l0 1M351 596l3 -4M354 592l3 2M354 601l-3 -4M358 596l-1 -2M333 578l5 2M333 578l-2 -6M331 572l10 6M338 580l3 -2M325 583l5 0M330 583l3 -5M331 572l0 0M346 575l-5 3M347 582l-10 5M337 587l1 -7M330 583l5 6M335 589l-1 1M328 592l-5 -6M328 592l4 0M332 592l2 -2M337 587l-1 1M337 587l8 3M336 588l6 8M345 590l0 4M345 594l-3 2M337 587l0 0M335 589l1 -1M349 587l-4 3M351 596l-6 -2M354 592l0 -3M311 599l3 3M311 599l5 -2M314 602l6 -1M320 601l-4 -4M309 599l2 0M317 589l2 4M307 593l9 -5M316 597l3 -4M372 549l-5 3M367 552l-4 -2M364 546l-1 0M363 546l0 4M353 554l2 -1M362 556l-1 -4M355 553l6 -1M365 557l2 0M367 557l-5 -6M361 552l1 -1M359 536l6 -1M359 536l4 3M363 538l0 1M363 538l2 -1M365 537l0 -2M355 536l4 0M365 532l0 3M355 539l4 3M359 542l4 -3M368 539l-3 -2M365 543l-2 -5M371 531l0 8M371 539l0 0M371 558l-1 0M371 558l1 -7M372 551l-4 4M370 558l-2 -1M368 557l0 -2M370 562l0 -4M376 556l0 7M376 556l-5 2M376 556l3 -2M379 554l-1 -2M372 550l0 1M367 552l1 3M367 557l1 0M363 550l-1 1M391 554l0 0M391 554l-4 8M391 554l-3 -3M388 551l-6 5M387 562l-4 -4M383 558l-1 -2M394 556l-3 -2M399 550l-1 -1M398 549l-1 0M397 549l-6 5M388 562l-1 0M377 563l6 -5M379 554l3 2M387 548l1 2M387 548l2 -4M388 550l5 -3M393 547l-4 -3M389 544l0 0M383 547l-2 0M383 547l4 1M388 551l0 -1M395 547l2 2M395 547l-2 0M393 542l1 1M393 542l-4 2M394 543l1 4M393 532l3 1M392 533l0 1M392 534l4 -1M398 530l-1 3M399 538l0 0M399 538l-2 -4M397 534l0 -1M397 533l-1 0M245 492l-5 0M245 492l6 3M246 498l-6 -5M246 498l5 -3M240 492l0 1M251 495l0 0M253 492l-2 3M253 492l-6 -2M247 490l-1 0M246 490l-1 2M246 500l0 -2M237 499l3 -6M255 504l-4 -9M233 487l3 0M236 487l4 4M240 491l0 1M227 469l2 2M231 465l1 6M229 471l3 0M220 470l6 3M229 471l-3 2M238 473l-1 2M237 475l-1 0M236 475l-4 -4M371 605l1 0M371 605l7 5M372 605l9 -2M381 603l-2 7M378 610l1 0M379 610l0 0M375 613l3 -3M375 613l-7 -6M370 605l1 0M386 610l-7 0M381 603l3 -1M381 603l0 0M379 618l-2 1M375 613l0 1M381 614l-2 -4M375 614l2 5M375 598l-7 -2M375 598l1 0M376 598l2 -7M367 595l1 1M367 595l9 -7M377 589l-1 -1M377 589l1 1M378 590l0 1M368 598l0 -2M372 605l3 -7M381 603l-5 -5M386 598l-8 -7M375 587l1 1M382 586l-5 3M388 590l-10 0M343 625l7 5M343 625l0 0M343 625l-1 6M350 630l0 2M349 635l-7 -4M349 635l1 -2M350 633l0 -1M357 608l-2 8M357 608l2 1M359 609l-1 6M355 616l3 -1M367 608l-2 2M356 608l1 0M363 603l-1 -1M365 610l-6 -1M338 613l-3 4M338 613l3 0M338 623l0 0M338 623l5 -7M335 617l3 6M341 613l2 3M353 618l-1 -2M353 618l1 1M352 616l-7 3M354 619l-1 3M353 622l-8 0M345 622l0 -3M353 607l-3 6M355 616l-2 2M350 613l1 1M351 614l1 2M351 614l-8 2M343 616l2 3M343 625l2 -3M353 624l-3 6M353 624l0 -2M343 625l-3 -1M338 623l2 1M343 616l0 0M350 613l-3 -1M341 613l2 -2M347 612l-4 -1M358 615l5 0M354 619l7 1M361 620l2 -5M375 614l-5 2M365 610l0 2M370 616l-5 -4M365 612l-2 3M372 629l-5 -5M372 629l5 -5M376 621l-6 -1M376 621l1 3M370 620l-3 4M382 626l-5 -2M372 630l0 -1M377 619l-1 2M370 616l0 4M364 624l3 0M364 624l-3 -4M364 632l0 -7M364 632l-5 0M359 632l-1 -2M358 630l0 -4M358 626l6 -1M366 635l-2 -3M364 624l0 1M357 636l0 0M357 636l2 -4M350 633l7 3M350 632l8 -2M353 624l5 2M335 643l-5 -6M335 643l3 -7M330 637l4 -4M334 633l2 1M336 634l1 0M338 636l-1 -2M340 624l-4 10M342 631l-5 3M321 632l1 -2M321 632l3 10M322 630l8 7M324 642l6 -5M317 638l2 -5M324 643l0 -1M319 633l2 -1M335 643l0 0M330 637l0 0M323 628l-1 2M323 628l0 0M334 633l-3 -4M331 629l-8 -1M309 600l3 8M305 605l3 7M312 608l-4 4M314 602l3 5M317 607l0 0M312 608l5 -1M303 612l5 0M308 612l0 0M294 534l-3 -2M294 534l1 -5M291 532l3 -4M295 529l-1 -1M295 535l-1 -1M287 532l4 0M298 527l-3 2M290 526l4 2M301 550l-4 7M301 550l0 0M301 550l0 0M301 550l3 9M297 557l4 5M304 559l-2 4M302 563l-1 -1M295 556l2 1M299 548l2 2M306 545l-5 5M313 554l-3 0M310 554l-9 -4M310 554l-6 5M264 500l2 -1M260 506l10 2M270 508l1 -7M271 501l-5 -2M271 501l3 -2M271 491l4 7M271 491l-2 0M269 491l-3 4M266 495l0 4M275 498l-1 1M271 511l-1 -3M271 511l1 0M276 509l1 -6M274 499l3 4M282 510l1 -3M283 507l-1 -3M277 503l5 1M284 491l-2 7M284 491l6 6M290 497l-2 3M288 500l-4 0M282 498l2 2M294 496l-4 1M295 505l-6 -1M289 504l-1 -4M283 507l5 -2M289 504l-1 1M282 504l2 -4M275 498l7 0M275 498l0 0M264 487l-2 2M264 487l5 4M266 495l-5 -2M261 493l1 -4M259 496l-1 -1M261 493l-3 2M253 492l0 0M258 495l-5 -3M247 490l3 -3M253 492l0 -1M250 487l3 4M310 566l-5 -2M310 566l0 0M310 566l-5 7M305 573l-2 -9M303 564l2 0M314 557l-9 7M314 559l-4 7M317 570l-2 0M315 570l-5 -4M302 563l1 1M315 570l-9 7M314 582l-2 0M306 577l6 5M306 593l0 -5M312 582l-6 6M270 625l5 -3M270 625l1 4M271 629l5 -3M275 622l1 4M263 622l7 3M263 622l0 0M271 631l0 -2M279 628l0 1M279 628l-3 -2M277 603l-4 -4M277 603l5 -2M282 601l1 -2M276 596l6 2M276 596l-3 3M283 599l-1 -1M267 603l6 1M272 599l1 0M273 604l3 -1M276 603l1 0M288 588l-1 0M287 588l-6 1M281 589l1 9M289 599l-6 0M288 577l4 1M285 580l2 8M288 588l3 -4M292 578l-1 6M327 603l1 0M327 603l-6 4M321 607l2 2M328 603l0 5M323 609l5 -1M338 613l-1 0M335 617l-3 0M332 617l-3 -1M337 613l-6 -2M329 616l2 -5M336 608l1 5M336 608l-6 2M330 610l1 1M301 631l3 4M301 631l6 -5M307 626l1 1M308 627l1 7M304 635l3 0M307 635l2 0M309 635l0 -1M300 631l1 0M302 635l2 0M302 641l5 -6M300 640l0 -1M311 637l-2 -2M319 633l-4 -1M315 632l-6 2M317 628l-1 0M317 628l-2 -5M316 628l-1 0M315 628l0 -5M315 623l0 0M323 628l-6 0M315 632l1 -4M323 628l0 -4M319 623l4 1M319 623l-4 0M308 627l7 1M298 641l-2 0M295 638l1 2M296 641l0 -1M282 622l2 1M282 622l-1 1M281 623l-1 3M280 626l7 1M287 627l-3 -4M276 620l-1 2M276 620l5 3M279 628l1 -2M289 628l-2 -1M293 608l-1 0M283 608l4 2M283 608l-1 -7M292 608l-5 2M290 628l3 -7M293 621l-4 -2M284 623l5 -4M289 619l0 0M298 626l4 1M298 626l-3 -6M297 619l-2 1M297 619l10 4M302 627l5 -2M307 623l0 2M298 630l4 -3M296 630l2 -4M293 621l2 -1M297 614l0 5M292 608l-3 11M309 620l1 -3M309 620l-2 3M308 612l2 5M307 626l0 -1M309 620l6 3M326 505l1 6M326 505l-10 1M327 511l-11 -4M316 506l0 1M325 501l1 3M326 504l0 1M316 501l0 5M328 512l-1 -1M314 511l2 -4M333 503l0 5M333 503l1 -3M333 508l5 -4M338 504l-1 -5M334 500l1 -1M335 499l2 0M328 512l5 -4M326 504l7 -1M333 508l0 0M330 498l1 0M331 498l3 2M333 508l7 3M338 504l5 5M343 509l-3 2M334 517l6 -5M340 512l0 -1M342 520l1 -3M340 512l3 5M351 518l-1 -1M343 517l7 0M343 497l-1 2M343 497l5 -2M348 495l1 2M343 501l-1 -2M343 501l6 -2M349 497l0 2M342 494l1 3M337 499l5 0M337 499l1 -6M338 493l0 -1M349 494l-1 1M355 499l-6 -2M345 505l-2 4M345 505l-2 -4M337 499l0 0M343 509l0 0M349 502l0 -3M349 504l-4 1M295 487l-8 -2M296 491l-10 -2M287 485l-1 4M294 484l-7 -1M287 485l0 -2M291 476l-5 6M287 483l-1 -1M284 491l0 -1M286 489l-2 1M272 490l-1 1M272 490l0 -5M265 481l0 2M265 481l4 -1M272 485l-3 -4M264 487l1 -4M269 480l0 1M286 512l3 -2M286 512l4 6M290 518l2 -8M289 510l3 0M283 512l3 0M288 505l1 5M291 519l-1 -1M295 510l-3 0M236 487l2 -7M240 491l7 -6M238 480l9 5M246 490l1 -5M250 487l-2 -2M248 485l-1 0M247 485l0 0M237 540l1 4M237 540l-5 2M233 543l-1 -1M233 543l5 1M238 544l0 0M238 538l-1 2M242 545l-4 -1M231 541l1 1M234 546l-1 -3M237 546l1 -2M258 519l0 -1M258 519l6 -1M258 518l4 -4M264 518l-1 -4M263 514l-1 0M258 523l0 -4M257 517l1 1M265 519l-1 -1M259 509l3 5M271 511l-8 3M334 490l-2 0M334 490l0 2M334 493l-2 0M334 493l0 -1M332 493l-3 -3M329 490l3 0M337 488l-3 2M333 486l-1 4M338 493l-4 -1M331 498l1 -5M335 499l-1 -6M328 490l1 0M365 592l-5 2M365 592l2 3M360 594l3 4M367 595l-4 3M364 591l1 1M357 594l3 0M367 595l0 0M363 598l0 0M334 590l6 9M342 596l0 1M342 597l-2 2M332 592l1 7M333 599l4 3M340 599l-3 3M320 602l6 -1M320 602l0 0M320 602l4 -7M326 599l0 2M326 599l-2 -4M324 595l0 0M320 607l1 0M320 607l0 -5M327 603l-1 -2M317 607l3 0M320 601l0 1M319 593l5 2M328 592l-4 3M332 600l-6 -1M332 600l1 -1M360 543l2 3M360 543l-6 4M362 546l-7 3M354 547l1 2M359 542l1 1M363 546l-1 0M352 544l2 3M355 553l0 -4M402 542l-3 0M402 544l-3 0M399 544l0 -2M398 542l1 0M398 542l1 -4M399 538l0 0M398 549l1 -5M394 543l4 -1M388 536l-1 4M388 536l4 1M392 537l1 0M388 541l5 -2M388 541l-1 -1M393 537l0 2M393 539l0 0M389 531l-2 3M387 534l1 2M392 534l0 3M397 534l-4 3M393 542l0 -3M389 544l-1 -3M383 547l1 -6M384 541l3 -1M399 538l-6 1M386 534l-4 6M386 534l-6 -1M380 533l0 0M380 533l-1 6M379 539l3 1M387 534l-1 0M384 541l-2 -1M379 531l1 2M371 539l9 -6M377 541l2 -2M225 476l1 0M225 476l1 5M226 476l7 0M226 481l7 -5M222 476l3 0M226 473l0 3M226 482l0 -1M236 475l-3 1M354 643l-1 -1M349 635l0 0M353 642l-4 -7M333 625l-2 -3M333 625l-1 2M332 627l-7 -6M331 622l-6 -1M332 617l-1 5M338 623l-5 2M331 629l1 -2M324 621l-1 3M324 621l1 0M324 621l1 -4M329 616l-4 1M317 607l-2 8M310 617l3 -1M313 616l2 -1M258 488l-4 2M258 488l0 -3M254 490l0 -8M258 485l-2 -2M256 483l-2 -1M262 489l-4 -1M253 491l1 -1M265 483l-7 2M265 481l0 0M265 481l-9 2M261 474l4 7M255 477l-3 3M252 480l2 2M271 595l5 -6M272 587l1 0M273 587l3 2M276 596l0 -7M276 589l0 0M272 581l2 0M272 581l1 -3M273 578l2 0M275 578l0 2M274 581l1 -1M269 583l3 -2M273 587l1 -6M271 576l2 2M279 572l-1 5M278 577l-3 1M263 622l8 -5M276 620l-1 -2M275 618l-2 -1M271 617l2 0M265 608l0 0M271 617l-6 -9M273 604l-2 5M271 609l-6 -1M279 609l1 5M279 609l-2 -2M280 614l-6 -4M277 607l-3 3M274 610l0 0M283 608l-4 1M276 603l1 4M280 615l0 -1M280 615l-5 3M273 617l1 -7M271 609l3 1M289 563l4 3M287 569l2 0M289 569l4 -3M291 562l3 4M293 566l1 0M300 563l-6 3M300 563l1 -1M294 566l0 0M306 577l-1 0M306 588l-4 -5M302 583l3 -6M305 573l-1 3M304 576l1 1M300 563l-1 12M304 576l-5 -1M294 566l3 9M299 575l-2 0M289 569l6 7M297 575l-2 1M332 606l-2 2M332 606l-2 -3M330 608l-1 -5M330 603l-1 0M336 605l0 3M336 605l-4 1M330 609l0 1M330 609l0 -1M336 605l2 -2M332 600l-2 3M338 603l-1 -1M328 603l1 0M328 608l2 1M287 641l1 1M293 653l-5 -11M281 615l4 -1M281 615l2 7M285 614l1 3M283 622l3 -5M280 615l1 0M287 610l-2 4M282 622l1 0M289 619l-3 -2M351 515l-7 -6M351 515l3 -3M344 509l10 -1M354 512l0 -4M343 509l1 0M350 517l1 -2M360 514l-6 -2M354 507l0 1M279 491l3 -1M279 491l-4 -2M282 490l-2 -4M275 489l2 -4M280 486l-2 -2M277 485l1 -1M275 498l4 -7M284 490l-2 0M272 490l3 -1M286 482l0 0M286 482l-6 4M272 485l5 0M274 471l2 3M274 471l-2 5M272 476l0 0M272 476l4 0M276 474l0 2M279 468l1 3M275 470l-1 1M280 471l-4 3M264 466l8 10M269 480l3 -4M269 481l9 0M276 476l2 2M278 478l0 3M286 482l-1 -1M278 484l0 -2M278 482l7 -1M278 482l0 -1M238 477l0 1M238 477l11 -3M238 478l13 2M249 474l3 6M252 480l-1 0M237 475l1 2M238 480l0 -2M249 471l0 3M248 485l3 -5M252 480l0 0M347 600l1 5M347 600l-2 -1M345 599l-3 7M348 605l-1 0M347 605l-4 2M343 607l-1 -1M352 606l-4 -1M351 597l-4 3M342 597l3 2M338 603l4 3M347 612l0 -7M343 611l0 -4M353 642l-7 0M346 647l0 -5M318 619l5 -4M318 619l-1 0M317 619l4 -5M323 615l-1 -1M322 614l-1 0M319 623l-1 -4M325 617l-2 -2M313 616l4 3M315 615l6 -1M323 609l-1 5M277 582l1 6M277 582l3 -3M282 580l-3 8M282 580l-2 -1M279 588l-1 0M276 589l2 -1M275 580l2 2M278 577l2 2M282 580l0 0M281 589l-2 -1M298 585l-3 -1M298 585l1 0M299 585l-4 -9M295 584l-2 -7M293 577l2 -1M297 589l1 -4M291 584l4 0M302 583l-3 2M295 576l0 0M292 578l1 -1M296 643l-5 -2M296 643l0 2M296 645l-8 -3M291 641l-3 1M296 641l0 2M296 640l-5 1M297 647l-1 -2M288 642l0 0M285 481l-5 -4M285 481l-1 -7M280 477l2 -3M284 474l-2 0M278 478l2 -1M285 481l0 0M288 472l-4 2M280 471l2 3M345 638l0 1M345 638l-4 0M345 639l-3 5M341 638l-2 5M339 643l3 1M349 635l-4 3M346 642l-1 -3M338 636l3 2M346 647l-4 -3M337 645l2 -2" stroke="#da8ed0" stroke-width="1.24" fill="none"/><circle cx="179.2" cy="256.8" r="7.6000000000000005" fill="#b46cb8" opacity="0.42"/><circle cx="168" cy="270.7" r="7.8" fill="#b46cb8" opacity="0.42"/><path d="M111.5,235.3 L156,235.3 C148,236 142,237 137.9,238.3 C132,240.5 127,243 123.7,246 C119,250 115,254 111.2,258 Z" fill="#f6f4f2"/><path d="M174,276.9 C180,279 185,281 189.9,282.4 C193,283.5 195.5,285 197.7,286.3 L197.7,292.6 C193,292.5 186,292.3 182,291.8 C179,287 177,283 175.7,279.3 Z" fill="#f6f4f2"/><path d="M127,283 C131,281 135,283 134.5,287 C134,290 131,291 128,289 C126,287.5 126,285 127,283 Z" fill="#f6f4f2"/><path d="M140,278 C143,277 145,279 144,281 C143,283 140,282 140,278 Z" fill="#f6f4f2"/><path d="M154,298 C157,297 159,299 157.5,301 C156,303 153.5,301 154,298 Z" fill="#f6f4f2"/></g><circle cx="179.2" cy="256.8" r="8.4" fill="none" stroke="#111" stroke-width="1.5" stroke-dasharray="1.3 1.3"/><circle cx="168" cy="270.7" r="8.6" fill="none" stroke="#111" stroke-width="1.5" stroke-dasharray="1.3 1.3"/><rect x="175.8" y="310" width="14" height="3.6" fill="#111"/></g><rect x="200.0" y="235.3" width="85.60000000000002" height="85.30000000000001" fill="url(#photoBg)"/><path d="M213.8,269.7 C214.2,266.7 214.7,264.4 216.1,262.1 C217.5,259.8 219.6,257.6 222.1,256.1 C224.6,254.6 227.9,253.7 231.2,253.1 C234.5,252.5 238.9,252.6 241.7,252.8 C244.5,253.1 245.8,254.4 247.8,254.6 C249.8,254.8 251.6,253.7 253.8,253.8 C256.1,253.9 259.3,254.3 261.3,255.4 C263.3,256.5 264.7,258.2 265.8,260.6 C266.9,263.0 267.7,266.4 268.1,269.7 C268.5,273.0 268.5,276.9 268.1,280.2 C267.7,283.5 266.9,286.5 265.8,289.3 C264.7,292.1 263.3,294.7 261.3,296.8 C259.3,298.9 256.8,300.8 253.8,302.1 C250.8,303.4 246.7,304.1 243.2,304.4 C239.7,304.6 235.3,304.4 232.7,303.6 C230.1,302.8 228.5,300.8 227.4,299.8 C226.3,298.8 226.8,298.0 225.9,297.6 C225.0,297.2 223.2,298.0 222.1,297.6 C221.0,297.2 220.1,296.7 219.1,295.3 C218.1,293.9 217.0,291.8 216.1,289.3 C215.2,286.8 214.2,283.5 213.8,280.2 C213.4,276.9 213.4,272.7 213.8,269.7 Z" fill="url(#lg0)"/><path d="M247,254.8 C248.2,254.6 249.2,254.9 249.8,255.5 C247.5,259 245.5,262.5 244.2,266.5 C243,270 241.5,274 239.2,278.5 C239.2,274.5 240.5,270 242,265.5 C243.5,261.5 245.3,258 247,254.8 Z" fill="#d9b8b0" opacity="0.85"/><circle cx="231.2" cy="277.7" r="4.4" fill="#e8c8c0" fill-opacity="0.3" stroke="#f2eeee" stroke-width="0.8"/><circle cx="223.2" cy="294.4" r="4.4" fill="#e8c8c0" fill-opacity="0.3" stroke="#f2eeee" stroke-width="0.8"/><circle cx="235.2" cy="294" r="4.4" fill="#e8c8c0" fill-opacity="0.3" stroke="#f2eeee" stroke-width="0.8"/><text transform="translate(16.4,278.8) rotate(-90)" font-size="14.5" text-anchor="middle" fill="#111">G1</text><rect x="23.1" y="323.6" width="86.1" height="85.29999999999995" fill="#707175"/><line x1="23.1" y1="338.6" x2="109.2" y2="338.6" stroke="#4e4e51" stroke-width="0.9"/><line x1="23.1" y1="348.6" x2="109.2" y2="348.6" stroke="#4e4e51" stroke-width="0.9"/><line x1="23.1" y1="382.4" x2="109.2" y2="382.4" stroke="#4e4e51" stroke-width="0.9"/><line x1="23.1" y1="392.7" x2="109.2" y2="392.7" stroke="#4e4e51" stroke-width="0.9"/><path d="M79.3,338.8 L88.5,338.8 L89.1,343.40000000000003 L77.3,343.8 L78.5,340.40000000000003 Z" fill="none" stroke="#3c3c3e" stroke-width="0.6"/><path d="M43.9,386.8 L54.7,387.1 L55.3,392.0 L48.5,391.0 L48.1,388.6 Z" fill="none" stroke="#3c3c3e" stroke-width="0.6"/><path d="M79.3,383.3 L88.5,383.3 L89.1,387.90000000000003 L77.3,388.3 L78.5,384.90000000000003 Z" fill="none" stroke="#3c3c3e" stroke-width="0.6"/><path d="M43.5,341.5 C41.5,343.5 41.5,345.5 44.0,346.5 L53.5,346.9" fill="none" stroke="#e0504a" stroke-width="1.5"/><path d="M46.5,346.5 L51.5,346.7" stroke="#9ac24a" stroke-width="1"/><circle cx="53.5" cy="346.9" r="1" fill="#e88040"/><g clip-path="url(#clipH1)"><g filter="url(#blurH)"><rect x="111.5" y="323.6" width="86.19999999999999" height="85.29999999999995" fill="#f2e0ee"/><path transform="scale(0.5)" d="M399 811l8 7M399 811l-3 3M396 814l4 7M399 811l0 -3M398 647l1 -3M398 647l-2 0M396 647l-2 -3M399 644l-2 -3M397 641l-3 3M400 651l-2 -4M400 644l-1 0M216 713l3 1M219 714l5 10M217 719l4 4M221 723l3 1M218 724l3 -1M227 726l-3 1M227 726l-3 -2M216 727l8 0M296 789l-8 -3M296 789l0 4M296 793l-8 1M288 786l-2 7M286 793l2 1M371 821l1 -4M371 821l-9 -4M372 817l-8 -3M362 817l0 -1M362 816l0 0M364 814l-2 2M384 823l-5 -6M382 826l-4 -5M378 821l0 -4M378 817l1 0M371 825l7 -4M371 825l0 -4M373 816l-1 1M373 816l5 1M373 816l0 -2M381 814l-2 3M381 814l0 -1M373 814l3 -4M381 813l-5 -3M399 808l0 -1M402 800l-4 2M399 807l-1 -5M396 795l-3 7M396 795l2 7M393 802l5 0M396 814l0 0M400 821l-1 1M396 814l-4 6M392 821l7 1M392 821l0 0M392 821l0 -1M392 821l-1 3M362 816l-10 0M362 816l-8 -4M354 812l-2 4M273 821l1 -2M283 834l-9 -15M200 654l24 7M217 670l8 -7M224 661l1 2M224 642l1 3M225 645l6 -4M200 654l24 -5M225 645l-1 4M390 645l1 -3M390 645l3 0M391 642l3 2M393 645l1 -1M394 644l0 0M390 636l-4 10M383 642l3 4M390 645l-3 2M387 647l-1 -1M396 647l-4 6M393 645l-2 7M391 652l1 1M400 651l-7 4M392 653l1 2M215 733l5 0M216 730l4 2M220 733l0 -1M224 727l-4 5M255 710l4 -5M255 710l1 1M259 705l-3 5M256 711l0 -1M243 723l6 1M243 723l2 7M249 724l1 0M250 724l-2 5M245 730l3 -1M251 718l5 0M251 718l-2 6M250 724l4 2M254 726l2 -8M273 821l-2 1M264 828l7 -6M281 826l-7 -7M274 819l0 0M274 819l0 0M299 733l6 -4M299 733l3 3M302 736l6 -3M308 733l-3 -4M299 733l-3 0M303 738l-1 -2M303 738l-7 3M296 741l-2 -4M296 733l-2 4M288 786l6 -3M288 786l-2 -3M286 783l8 0M297 784l1 3M297 784l-2 -1M298 787l-2 2M295 783l-1 0M288 786l0 0M284 793l-1 -2M284 793l2 0M286 783l-3 8M286 783l0 0M401 721l-6 -7M395 714l0 0M395 714l12 2M229 677l5 5M229 677l-4 3M225 686l0 -6M225 686l9 -3M234 683l0 -1M224 687l-3 -7M224 687l1 -1M222 679l-1 1M222 679l3 1M311 726l-4 0M311 726l5 -1M306 718l1 8M306 718l0 0M306 718l6 -1M317 721l-1 4M317 721l-4 -4M313 717l-1 0M361 834l-1 -12M360 822l-9 -4M350 823l0 -2M350 821l1 -3M351 818l0 0M362 817l-2 5M352 816l-1 2M340 823l2 -3M342 820l8 1M346 814l5 4M346 814l-3 5M343 819l-1 1M349 806l-4 6M349 806l4 3M354 812l0 -3M353 809l1 0M346 814l-1 -2M397 807l-4 -2M397 807l-6 4M393 805l-3 5M390 810l0 1M391 811l-1 0M399 807l-2 0M393 802l-1 1M392 803l1 2M398 802l0 0M396 814l-5 -3M384 803l0 2M384 803l5 -1M384 805l6 5M389 802l3 1M387 815l2 2M387 815l-3 0M389 817l-3 4M384 815l1 7M385 822l1 -1M392 820l-3 -3M390 811l-3 4M381 814l3 1M384 805l-3 8M392 821l-6 0M384 823l1 -1M317 812l1 1M317 812l-6 -1M308 817l0 -3M308 817l5 2M311 811l-2 1M318 813l-2 5M308 814l1 -2M313 819l3 -1M318 813l6 1M324 814l0 0M324 814l2 3M326 817l-1 7M316 818l9 6M334 823l0 -6M326 817l6 -2M332 815l2 2M222 674l-2 -2M222 674l6 1M220 672l8 -6M228 673l0 1M228 673l0 -7M228 666l0 0M228 675l0 -1M222 679l0 -5M229 677l-1 -2M217 670l3 2M220 672l0 0M225 663l3 3M220 672l-3 6M221 680l-3 0M224 687l-8 -1M224 687l0 0M224 687l1 4M225 691l1 1M234 689l0 -6M234 689l-3 4M226 692l5 1M225 691l-2 2M217 697l6 -4M387 647l0 1M391 652l-3 -1M387 648l1 3M387 648l-5 0M388 651l-2 1M386 652l-5 -1M382 648l-1 3M408 652l-11 7M393 655l0 2M393 657l4 2M397 659l1 2M402 669l-4 -7M399 672l-3 -6M396 666l0 -1M396 665l2 -3M398 661l0 1M228 700l2 2M228 700l7 -2M230 702l6 -2M235 698l1 1M236 699l0 1M229 703l3 3M229 703l1 -1M236 700l0 3M236 703l-4 3M240 697l-4 2M240 697l8 8M236 703l4 6M248 705l-8 4M248 729l1 3M254 726l2 2M249 732l7 -4M249 732l-2 4M257 730l-8 8M257 730l-1 -2M249 738l-1 0M256 728l0 0M248 738l-1 -2M245 730l-1 2M247 736l-3 -4M220 752l8 4M220 752l-8 8M228 756l1 1M229 757l-8 9M221 766l-9 -6M220 752l0 -2M220 750l-24 -10M231 750l-3 6M231 750l10 0M241 750l0 3M241 753l-6 4M229 757l1 1M230 758l5 -1M281 826l0 -7M274 819l4 -1M281 819l-3 -1M303 738l2 1M308 733l0 1M308 734l-1 4M305 739l2 -1M306 749l0 0M306 749l12 -6M306 749l0 -2M306 747l5 -6M311 741l5 0M318 743l-2 -2M303 743l3 4M303 743l2 -4M307 738l4 3M308 753l-2 2M308 753l1 0M312 768l-2 -12M312 768l-7 -11M309 753l1 3M306 755l-1 2M302 768l-2 1M302 768l-4 -6M294 770l6 -1M294 770l0 -5M294 765l4 -3M289 740l4 6M289 740l-1 1M288 741l0 0M288 741l2 5M290 746l3 0M293 737l-7 -3M293 737l-4 3M286 734l-2 1M284 735l4 6M296 741l0 0M294 737l-1 0M293 746l2 0M295 746l1 -5M303 743l-2 0M301 743l-5 -2M294 727l-6 -1M294 727l1 3M295 730l-8 2M288 726l-1 6M296 724l10 4M296 724l-2 3M305 729l1 -1M296 733l-1 -3M286 734l1 -2M255 740l3 0M255 740l-6 -2M257 730l4 5M258 740l3 -5M267 730l-8 -4M267 730l0 1M267 731l-2 3M259 726l-3 2M261 735l4 -1M266 750l0 0M266 750l-3 -3M266 750l2 -5M268 745l-4 0M264 745l0 0M263 747l1 -2M258 740l1 2M264 745l4 -7M265 734l3 4M264 745l-5 -3M266 750l0 3M271 752l-2 1M271 752l1 -3M266 750l6 -1M266 753l3 0M276 758l-5 -6M276 758l-1 1M275 759l0 0M272 759l3 0M272 759l-3 -4M269 755l0 -2M241 753l4 3M235 757l4 7M239 764l7 -3M245 756l1 5M238 773l-1 -3M238 773l10 -3M239 764l-2 6M248 770l-2 -9M246 761l0 0M260 766l4 -7M260 766l8 4M268 770l1 -1M269 769l-1 -9M268 760l-3 -1M265 759l-1 0M272 759l-4 1M275 759l-3 8M272 767l-3 2M269 755l-4 4M299 779l12 -9M299 779l5 1M304 780l0 0M304 780l7 -10M311 770l0 0M299 779l0 0M299 779l0 0M302 768l0 0M302 768l9 2M299 779l1 -10M306 787l0 -2M306 787l-8 0M297 784l2 -5M306 785l-2 -5M307 780l-1 5M307 780l-3 0M313 770l-1 -2M313 770l-2 0M302 768l2 -11M304 757l1 0M313 802l1 -9M313 802l-1 0M314 793l-2 -1M312 802l-4 -1M312 792l-4 8M308 801l0 -1M296 793l1 2M288 794l0 7M293 803l-5 -2M293 803l3 -1M297 795l-1 7M320 795l4 5M320 795l-4 7M316 802l3 3M324 803l0 -3M324 803l-5 2M319 805l0 0M313 802l3 0M319 791l1 1M319 791l-5 2M320 792l0 3M317 812l2 -7M312 802l-1 9M329 796l-5 4M329 796l1 6M330 802l-4 2M326 804l-2 -1M325 810l-1 4M325 810l-6 -5M286 783l-1 -2M283 791l-6 -6M277 785l7 -5M284 780l1 1M295 783l-3 -3M285 781l7 -1M299 779l-5 -4M292 780l2 -5M300 817l-3 -1M300 817l5 3M297 816l2 8M305 820l-1 4M305 820l0 0M290 822l7 -6M297 816l0 0M298 807l-1 3M298 807l5 2M297 810l4 2M303 809l1 3M304 812l-3 0M308 817l-3 3M308 814l-4 -2M300 817l1 -5M246 673l-2 1M246 673l-3 -2M244 674l-1 -3M243 671l0 0M242 677l2 -3M242 677l-1 -5M241 672l2 -1M349 806l0 0M345 812l-5 0M338 806l2 6M338 806l0 0M349 806l-11 0M320 792l8 0M329 796l0 -2M328 792l1 2M396 795l0 0M403 797l-5 -3M396 795l0 -1M396 794l2 0M400 790l-1 2M399 792l-1 2M353 693l4 4M353 693l-3 -2M357 697l-3 6M354 703l-1 0M350 691l-4 2M353 703l-8 -6M346 693l-1 4M343 702l10 2M343 702l1 -5M353 703l0 1M345 697l-1 0M324 720l3 2M324 720l-7 1M316 725l1 2M327 722l0 2M317 727l2 1M319 728l6 0M325 728l2 -4M338 706l-1 2M338 706l1 0M337 708l2 6M339 706l6 4M345 710l-6 4M324 720l0 -4M313 717l1 -1M324 716l-4 -4M314 716l6 -4M373 814l-4 -5M376 810l-1 -3M375 807l-2 1M369 809l4 -1M364 814l0 -2M354 809l6 -2M360 807l2 3M364 812l-2 -2M369 809l-1 0M364 812l4 -3M338 817l3 0M338 817l0 -1M338 816l1 -3M341 817l-1 -4M340 813l-1 0M339 822l-1 -5M343 819l-2 -2M334 817l4 -1M333 813l6 0M333 813l-1 2M340 812l0 1M338 806l-3 0M333 813l0 -2M335 806l-1 1M333 811l1 -4M324 814l6 -3M333 811l-3 0M305 820l5 3M313 819l1 4M237 668l-4 1M237 668l1 3M238 671l-2 4M233 669l0 4M233 669l0 0M236 675l-3 -2M230 665l4 -4M230 665l3 4M234 661l4 6M238 667l-1 1M237 680l1 1M237 680l-1 -5M242 677l0 2M241 672l-3 -1M242 679l-4 2M228 673l5 -4M228 674l5 -1M228 666l2 -1M237 680l-3 2M235 658l-6 -3M235 658l2 -6M237 652l-5 -3M229 655l-2 -4M227 651l5 -2M224 661l5 -6M235 659l-1 2M235 659l0 -1M224 649l3 2M233 642l2 2M235 644l-3 5M252 637l-10 8M252 637l2 6M244 651l10 -8M244 651l0 0M242 645l2 6M235 659l4 0M239 659l4 -1M243 658l2 -5M245 653l-1 -2M237 652l1 -1M244 651l-6 0M227 698l1 1M227 698l-2 1M225 699l-5 4M228 700l-4 3M228 700l0 -1M224 703l-2 0M222 703l-2 0M226 692l1 6M231 693l2 2M233 695l-5 4M223 693l2 6M214 702l6 1M228 704l1 -1M228 704l-4 -1M228 700l0 0M233 695l2 3M381 642l-3 3M382 648l-5 -1M378 645l-1 2M378 645l-9 -21M389 661l2 6M389 661l-1 0M388 661l-2 0M391 668l-9 -2M391 668l0 -1M382 666l4 -5M393 657l-4 4M396 665l-5 2M386 652l-4 3M382 655l6 6M381 651l0 2M377 647l-1 0M381 653l-5 -6M361 633l-5 13M356 646l-5 -3M235 713l-5 -2M235 713l-1 6M229 723l5 -4M229 723l-4 -10M225 713l3 -2M230 711l-2 0M228 711l0 0M227 726l1 0M219 714l6 -1M228 726l1 -3M222 703l6 8M228 704l0 7M232 706l-2 5M255 710l-6 -4M256 711l0 3M249 715l7 -1M249 715l0 0M249 706l0 5M249 715l0 -4M240 709l-1 1M235 713l3 -2M238 711l1 -1M248 705l1 0M249 705l0 1M249 711l-7 3M239 710l3 4M237 777l3 6M237 777l11 3M240 783l8 2M248 780l0 5M254 774l-1 -1M254 774l-6 6M238 773l-1 3M237 776l0 1M248 770l5 3M254 774l2 2M256 776l-6 11M248 787l2 0M248 787l0 -2M256 777l2 4M256 777l11 -2M258 781l10 1M267 775l1 7M258 782l0 -1M258 782l-2 5M256 776l0 1M256 787l-6 0M268 771l-1 4M268 771l0 -1M258 767l-5 6M258 767l2 -1M269 782l-1 0M269 782l-3 5M266 787l-2 1M264 788l-6 -6M272 782l0 0M272 782l-3 0M268 771l7 4M275 775l-3 7M261 790l1 6M261 790l-5 -2M256 788l-1 9M262 796l-7 1M264 788l-3 2M256 787l0 1M226 783l2 -4M226 783l2 8M228 779l6 -1M234 778l2 10M236 788l-8 3M223 827l-4 -5M274 727l-1 -4M274 727l4 2M273 723l4 0M278 729l-1 -6M272 749l1 -2M268 745l3 0M271 745l2 2M267 730l1 -2M267 731l6 2M268 728l6 -1M279 729l-1 0M279 729l0 4M279 733l-6 0M268 738l2 1M273 733l-3 6M259 726l1 -2M268 728l-2 -8M260 724l6 -4M273 723l-4 -5M269 718l-3 2M266 720l0 0M220 750l2 -5M231 750l-1 -3M230 747l-8 -2M241 750l0 -3M241 747l-4 -3M230 747l2 -2M232 745l0 0M232 745l5 -1M245 741l-7 -5M245 741l-1 3M238 736l-2 7M244 744l-3 3M237 744l-1 -1M220 733l1 1M214 739l6 -5M221 734l-1 0M224 775l-2 -5M224 775l-12 5M222 770l-4 2M226 783l-7 1M228 779l-4 -4M218 785l2 7M218 793l2 -1M228 791l0 1M228 792l-8 0M229 795l-1 -3M229 795l-3 3M217 796l5 4M226 798l-4 2M231 765l4 4M231 765l-9 4M235 769l-13 1M222 769l0 1M230 758l1 7M237 770l-2 -1M221 766l1 3M234 778l3 -2M222 770l0 0M290 822l-1 -1M281 819l6 1M289 821l-2 -1M284 793l-4 3M284 801l-3 -3M284 801l3 0M287 801l1 0M280 796l1 2M284 801l-1 4M283 805l-2 -1M281 798l0 6M261 805l4 -7M261 805l0 0M255 797l6 8M255 797l0 0M262 796l1 0M265 798l-2 -2M266 787l1 3M263 796l4 -6M266 805l2 -4M266 805l5 4M268 801l5 5M271 809l2 -3M261 805l5 0M268 798l-3 0M268 798l0 3M261 805l-2 4M271 812l-12 -3M271 812l0 -3M258 810l-7 -9M258 810l-4 1M252 810l-2 -9M252 810l2 1M250 801l1 0M255 797l-2 1M253 798l-2 3M259 809l0 0M259 809l-1 1M271 812l1 2M259 809l1 6M272 815l0 -1M272 815l-7 2M265 817l-5 -2M271 822l-8 -1M274 819l-2 -4M265 817l-2 4M261 822l2 -1M254 819l-5 5M254 819l4 2M258 821l0 0M258 821l-6 11M247 822l0 -5M252 816l2 3M252 816l-5 1M252 816l2 -5M260 815l-2 6M261 822l-3 -1M309 734l4 -4M309 734l6 2M315 736l0 -6M315 730l-2 0M313 730l0 0M308 734l1 0M306 728l0 -1M306 727l7 3M316 737l-1 -1M316 737l0 4M317 727l-2 3M319 728l1 6M320 734l-4 3M311 726l2 4M307 726l-1 1M290 753l-2 -4M290 753l1 -1M291 752l0 -3M288 749l3 0M287 748l1 1M287 748l3 -2M295 746l0 2M295 748l-4 1M298 751l-1 -2M298 751l0 2M294 752l2 -3M294 752l-2 7M297 749l-1 0M298 753l0 5M298 758l-1 1M297 759l-5 0M306 749l-8 2M301 743l-4 6M308 753l-2 -4M306 755l-8 -2M295 748l1 1M291 752l3 0M288 757l2 -4M288 757l0 1M288 758l4 1M292 759l0 0M304 757l-6 1M298 762l-1 -3M294 765l-2 -3M292 762l0 -3M275 759l5 4M272 767l4 1M280 763l-4 5M276 758l6 -7M288 757l-6 -6M288 758l-3 4M285 762l-4 1M280 763l1 0M255 740l-2 9M259 742l-2 8M257 750l-4 -1M245 756l4 -2M244 744l8 5M249 754l3 -5M248 738l-3 3M252 749l1 0M306 795l-1 2M306 795l0 -5M305 797l-6 -2M306 790l-7 5M312 792l-1 0M311 792l-5 3M308 800l-3 -3M308 787l0 0M308 787l3 5M308 787l-2 3M308 801l-1 1M297 795l2 0M296 802l2 2M307 802l-9 2M306 787l2 0M235 689l1 0M235 689l5 8M236 689l6 2M242 691l-1 5M240 697l1 -1M234 689l1 0M238 681l5 6M243 687l-7 2M240 697l0 0M244 689l-2 2M244 689l0 -1M244 688l-1 -1M243 696l3 -4M243 696l-2 0M246 692l-2 -3M349 797l-3 -2M349 797l0 9M338 806l2 -7M346 795l-6 4M335 806l-2 -3M333 803l4 -4M340 799l-3 0M333 803l-1 -1M332 802l2 -5M337 799l-3 -2M342 702l1 0M342 702l-3 4M353 704l-3 6M345 710l2 1M350 710l-3 1M307 711l4 -3M307 711l-2 -5M305 706l4 -1M309 705l2 3M312 717l0 -9M314 716l3 -9M312 708l5 -1M306 718l1 -7M312 708l-1 0M325 728l1 4M327 724l4 5M326 732l5 -3M320 734l6 0M326 732l0 2M359 720l0 1M359 720l-7 -7M359 721l-4 2M352 713l-4 7M355 723l-7 -3M332 713l5 -5M332 713l-2 -1M338 706l-5 -3M333 703l0 0M330 712l1 -8M333 703l-2 1M353 809l6 -10M360 807l0 -6M359 799l1 2M349 797l5 -1M354 796l3 1M359 799l-2 -2M312 785l3 -9M312 785l7 5M315 776l7 8M319 790l3 -6M308 787l4 -2M307 780l8 -5M315 775l0 1M319 791l0 -1M330 789l-2 3M330 789l-6 -5M324 784l0 0M324 784l-2 0M326 808l3 2M326 808l1 -2M329 810l1 -3M327 806l3 1M325 810l1 -2M330 811l-1 -1M326 804l1 2M334 807l-4 0M330 802l2 0M239 667l5 2M239 667l2 -3M241 664l4 1M245 665l-1 3M244 669l0 -1M238 667l1 0M243 671l1 -2M239 659l2 5M243 658l4 4M247 662l-2 3M245 653l6 0M254 643l1 3M251 653l4 -7M236 644l2 -12M236 644l1 0M237 644l2 0M239 644l0 -1M235 644l1 0M238 651l-1 -7M242 645l-3 -1M382 655l-1 0M386 661l-6 -2M381 655l-1 4M381 653l0 2M381 655l0 0M382 666l-2 1M382 666l0 0M380 667l-5 -5M380 659l-5 3M380 667l0 0M380 667l-6 5M371 669l2 -7M371 669l2 3M374 672l-1 0M375 662l-2 0M339 630l-4 13M327 642l3 7M330 649l1 0M331 649l4 -6M398 673l-3 0M398 673l5 9M403 682l-10 -1M395 673l-2 8M245 716l-2 -2M245 716l-2 7M243 714l-2 4M241 718l-2 4M243 723l-2 0M239 722l2 1M241 723l0 0M249 715l-4 1M242 714l1 0M249 715l2 3M243 723l0 0M238 711l3 7M234 719l5 3M244 732l-5 -1M239 731l2 -8M228 726l2 5M230 731l11 -8M240 783l0 5M236 788l2 1M240 788l-2 1M229 795l3 2M238 789l0 5M238 794l-5 3M232 797l1 0M287 748l-5 1M288 741l-3 2M285 743l-3 6M282 751l-1 -2M273 747l5 0M278 747l3 2M282 749l-1 0M271 740l7 0M271 740l-1 -1M270 739l10 -5M278 740l2 -4M280 736l0 -1M280 735l0 -1M271 745l0 -5M278 747l0 -7M270 739l0 0M279 733l1 1M285 743l-5 -7M284 735l-4 0M286 725l-6 4M286 725l2 1M279 729l1 0M261 714l3 4M261 714l-5 0M264 718l-8 0M256 714l0 4M256 718l0 0M260 724l-4 -6M266 720l-2 -2M256 714l0 0M256 718l0 0M220 734l1 4M219 741l2 -3M222 745l0 0M219 741l3 4M232 745l-6 -3M222 745l4 -3M297 816l-1 -4M289 821l3 -7M292 814l4 -2M297 810l-1 1M296 812l0 -1M283 805l0 0M287 801l-1 5M283 805l3 1M277 796l-2 1M277 796l-1 -10M275 797l-3 0M272 797l-2 -5M276 786l-6 6M280 796l-3 0M281 804l-5 1M276 805l-1 -1M275 804l0 -7M276 785l1 0M276 785l0 1M275 804l-2 2M268 798l4 -1M267 790l3 2M272 782l4 3M340 732l5 -5M340 732l0 1M346 728l-1 -1M346 728l-1 6M340 733l5 1M275 775l6 -2M272 782l9 -8M281 774l0 -1M284 780l0 -4M281 774l3 2M276 768l5 5M281 773l0 0M294 775l-2 -3M284 776l8 -4M294 770l-2 1M292 772l0 -1M292 762l-1 7M292 771l-1 -2M285 762l1 2M286 764l4 4M291 769l-1 -1M266 753l-2 0M264 759l-1 -2M264 753l-1 4M263 747l-2 3M264 753l-3 -3M257 750l0 1M261 750l-4 1M306 807l-2 1M306 807l0 -2M306 805l-4 1M304 808l-2 -2M309 812l-3 -5M303 809l1 -1M307 802l-1 3M298 805l0 -1M298 805l4 1M298 807l0 -2M242 679l8 0M244 688l6 -3M250 685l1 -5M250 679l1 1M249 705l3 -3M243 696l5 0M252 702l-4 -6M302 699l-3 5M302 699l1 -1M299 704l8 -4M303 698l2 0M307 700l-2 -2M307 645l0 0M307 645l7 -2M307 645l-3 1M299 638l5 8M247 662l3 0M244 668l5 3M250 662l-1 9M246 673l5 1M249 671l2 3M250 679l1 -5M251 674l0 0M338 787l4 0M338 787l-4 9M334 796l0 0M334 796l11 -3M345 793l-3 -6M330 789l5 -3M329 794l5 2M335 786l3 1M334 797l0 -1M346 795l-1 -2M360 724l-1 -3M360 724l-3 8M349 728l6 -5M349 728l3 8M357 732l-5 4M396 794l-4 -8M399 792l-6 -7M392 786l1 -1M401 787l-3 -4M398 783l-5 1M393 784l0 1M398 783l1 -6M399 777l1 -2M388 718l-3 -7M388 718l3 -9M385 711l3 -2M391 709l-3 0M372 717l0 1M372 717l5 -4M372 718l1 1M373 719l6 -4M377 713l2 2M375 721l5 -5M375 721l-2 -2M379 715l1 1M359 708l-5 -5M359 708l1 10M359 720l1 0M350 710l2 3M360 720l0 -2M359 708l6 0M360 718l5 -10M350 758l0 -4M350 758l-3 3M350 754l-4 0M347 761l-7 0M346 754l-6 7M353 693l1 -8M350 691l-2 -4M354 685l-3 -1M348 687l3 -3M356 646l1 2M369 624l-1 19M368 643l-10 6M358 649l-1 -1M346 641l-2 7M344 648l6 4M357 648l-7 4M371 669l-4 0M372 660l1 2M372 660l-7 8M365 668l2 1M346 693l-4 -2M344 697l-2 0M342 691l-1 2M342 697l-1 -4M318 683l-5 10M318 683l2 0M313 693l9 -2M322 691l-2 -8M318 682l-1 -11M318 682l0 0M318 682l0 1M323 677l-5 -6M323 677l0 4M320 683l3 -2M317 671l1 0M325 668l2 5M325 668l-1 -1M323 677l4 -4M318 671l6 -4M310 692l-5 6M310 692l1 0M307 700l1 1M308 701l3 -9M326 734l0 0M326 734l2 0M331 729l4 1M328 734l7 -4M347 711l-2 4M348 720l-2 0M345 715l1 5M329 694l-2 0M329 694l1 6M330 700l-3 -1M327 699l0 -5M362 810l5 -8M360 801l7 0M367 802l0 -1M259 658l0 0M259 658l5 -6M259 658l-1 -10M264 652l-1 -4M263 648l-5 0M251 653l3 6M254 659l5 -1M255 646l3 2M267 643l-2 4M265 647l-2 1M366 657l6 3M366 657l5 -11M372 660l3 -6M375 654l-1 -6M371 646l3 2M364 657l-4 7M364 657l2 0M360 664l4 4M372 660l0 0M365 668l-1 0M368 643l3 3M364 657l-4 -4M360 653l-2 -4M381 655l-6 -1M376 647l-2 1M341 651l-4 -5M341 651l-3 1M337 646l-2 4M338 652l-3 -2M344 648l-2 2M342 650l-1 1M335 643l2 3M331 649l4 1M329 650l1 -1M329 650l0 5M329 655l5 1M337 655l-3 1M337 655l1 -3M377 690l-2 -8M377 690l-2 2M375 692l-7 -5M375 682l-3 0M372 682l-3 0M368 687l1 -5M395 714l-2 -4M393 710l5 -3M400 707l-2 0M399 672l-1 1M396 666l-4 5M395 673l-2 0M392 671l1 2M391 668l0 2M392 671l-1 -1M382 666l6 5M391 670l-3 1M238 794l3 1M233 797l7 3M240 800l3 -3M241 795l2 2M248 802l-2 1M248 802l-5 -5M240 800l0 4M246 803l-6 1M243 797l0 0M253 798l-5 -5M248 802l2 -1M243 797l5 -4M232 799l1 2M232 799l-4 7M233 801l1 6M234 807l-5 0M228 806l1 1M232 797l0 2M240 805l0 -1M240 805l-7 -4M226 798l0 7M226 805l2 1M239 806l1 -1M239 806l-3 3M236 809l-2 -2M246 804l-2 6M246 804l3 6M244 810l3 1M249 810l-2 1M246 803l0 1M243 810l1 0M243 810l-4 -4M252 810l-3 0M246 817l1 -6M246 817l1 0M228 817l-2 1M228 817l1 -2M229 815l-1 -3M225 818l-10 -10M225 818l1 0M228 812l-10 -4M219 822l6 -4M226 825l0 -7M226 805l-8 3M229 807l-1 5M222 800l-5 7M230 825l0 -6M234 824l-2 -4M230 819l2 1M228 817l2 2M237 825l-1 -6M236 819l-4 1M236 811l-3 3M236 811l5 4M233 814l3 4M236 818l5 0M241 815l1 2M241 818l1 -1M236 809l0 2M229 815l4 -1M243 810l-2 5M236 819l0 -1M240 826l1 -8M246 817l-4 0M284 720l0 -6M284 720l-4 1M280 721l-2 0M284 714l-3 -1M281 713l-5 5M278 721l-2 -3M286 725l0 -2M280 729l0 -8M286 723l-2 -3M277 723l1 -2M269 717l0 -1M269 717l7 1M269 716l8 -7M277 709l4 4M269 718l0 -1M256 710l6 -2M261 714l2 -5M262 708l1 1M259 705l1 -2M262 708l-2 -5M232 745l-1 -4M226 742l1 -2M231 741l-4 -1M221 738l5 -2M227 740l-1 -4M221 734l6 1M227 735l-1 1M293 803l-1 1M286 806l1 2M287 808l5 -4M282 812l0 0M282 812l-3 -2M282 812l0 -5M282 807l-3 2M279 809l0 1M278 818l4 -6M287 820l-1 -9M286 811l-4 1M272 814l7 -4M276 805l3 4M283 805l-1 2M340 733l1 5M345 734l1 1M346 735l-5 3M282 769l-1 3M282 769l3 -2M281 772l5 -4M285 767l1 1M281 763l1 6M281 773l0 -1M286 764l-1 3M290 768l-4 0M258 756l-1 -2M258 756l-3 6M257 754l-5 1M252 755l2 6M255 762l-1 -1M263 757l-5 -1M257 751l0 3M258 767l-3 -5M249 754l3 1M246 761l8 0M295 693l1 9M295 693l-5 1M296 702l-6 -5M290 697l0 -3M300 689l-5 4M300 689l3 2M302 693l1 -2M302 693l-4 1M298 694l-3 -1M295 693l0 0M310 692l-1 -1M309 691l-6 0M303 698l-1 -5M302 699l-4 -5M299 704l0 1M295 693l0 0M296 702l1 2M299 705l-2 -1M252 702l3 -2M260 703l-1 -1M259 702l-1 -1M258 701l-3 -1M275 670l1 6M275 670l-3 4M272 674l4 2M276 676l-1 1M276 676l3 1M279 679l0 -2M279 679l-4 1M275 680l0 -3M269 675l3 -1M269 675l-1 3M268 678l7 -1M276 676l0 0M283 664l4 -6M283 664l0 2M287 658l5 -2M283 666l11 -8M292 656l2 2M283 673l5 11M283 673l-4 4M287 685l-2 0M287 685l1 -1M279 679l1 2M280 681l5 4M320 641l-2 3M318 644l-1 -1M314 643l3 0M254 659l-2 2M260 659l0 7M260 659l-1 -1M260 666l-1 2M252 661l7 7M250 662l2 0M252 661l0 1M251 674l4 -2M252 662l3 10M395 714l-2 4M393 718l-5 1M393 710l0 -1M393 709l-2 0M388 718l0 0M388 719l0 -1M385 711l-1 1M384 712l-3 4M381 716l1 2M388 718l-6 0M375 721l1 2M381 716l-1 0M376 723l2 1M378 724l3 -2M382 718l-1 4M380 792l2 5M380 792l5 -3M382 797l5 -2M385 789l2 6M379 788l2 -6M379 788l0 3M380 792l-1 -1M385 789l2 -2M387 787l-4 -5M383 782l-2 0M399 775l-5 -1M399 775l0 -4M394 774l-3 -5M391 769l1 -2M392 767l7 4M399 775l1 0M368 720l-8 0M368 720l4 -2M372 717l-2 -4M360 720l8 -8M370 713l-2 -1M360 720l0 0M365 708l1 0M368 712l-2 -4M344 663l9 1M344 663l2 6M354 664l-1 0M354 664l-6 6M348 670l-2 -1M354 675l-4 -1M354 675l0 0M354 675l-1 -3M350 674l0 -2M353 672l-3 0M348 671l-1 4M348 671l2 1M347 675l3 -1M355 665l-2 7M355 665l0 0M355 665l-1 -1M348 670l0 1M357 697l2 -1M354 685l2 -1M359 696l3 -3M362 693l-6 -9M356 684l0 0M373 672l-5 5M367 669l0 1M367 670l1 7M361 675l1 1M361 675l-2 -1M360 679l-3 -1M360 679l3 -2M363 677l-1 -1M359 674l-5 1M354 675l3 3M364 668l-3 7M367 670l-5 6M360 664l-3 1M357 665l2 9M355 681l2 -3M355 681l1 3M357 683l3 -4M357 683l-1 1M368 677l-1 2M366 679l1 0M366 679l-3 -2M355 665l2 0M354 675l0 0M351 678l3 -3M351 678l4 3M342 702l-1 -2M342 697l0 0M341 700l1 -3M331 689l-5 -1M331 689l-1 -5M326 688l0 -4M330 684l-4 0M329 694l2 -1M324 692l2 -4M324 692l0 1M331 693l0 -4M331 689l0 0M324 693l3 1M322 691l2 1M323 681l1 0M324 681l2 3M333 693l2 -1M333 693l2 7M335 692l3 2M338 694l0 3M338 697l-1 2M335 700l2 -1M331 693l2 0M338 685l-3 7M338 685l-7 4M333 703l2 -3M333 703l-3 -3M341 693l-3 1M342 697l-4 0M341 700l-4 -1M324 643l1 5M324 643l-6 1M325 648l-6 -2M318 644l1 2M327 642l-3 1M329 650l-3 -1M326 649l-1 -1M318 644l0 0M326 649l-4 2M318 648l4 3M318 648l1 -2M325 668l2 -1M328 656l1 6M328 656l-6 9M322 665l2 2M327 667l2 -5M327 673l0 0M324 681l3 -2M327 679l1 -4M327 673l1 2M318 682l-7 -10M311 672l0 0M317 671l-1 0M311 672l5 -1M332 739l-1 -4M332 739l3 -4M331 735l4 -1M335 735l0 -1M328 734l3 1M336 730l-1 0M336 730l-1 4M335 730l0 0M340 732l-4 -2M340 740l1 -2M340 740l-5 -5M343 724l1 -2M343 724l-8 -1M344 722l-3 -5M335 723l-2 -3M338 716l-4 2M338 716l3 1M333 720l1 -2M349 728l-3 0M345 727l-2 -3M346 720l-2 2M335 730l0 -7M345 715l-4 2M327 722l6 -2M332 713l2 5M339 714l-1 2M324 716l3 -4M330 712l-3 0M359 796l7 -4M359 796l4 -7M363 789l1 -1M364 788l1 1M365 789l1 3M367 802l0 0M367 802l3 1M367 802l10 -1M370 803l7 0M377 803l1 -1M378 802l-1 -1M368 809l-1 -7M367 802l0 0M373 808l-3 -5M375 807l2 -4M384 803l-3 -2M381 801l-3 1M359 796l-1 0M358 796l11 0M366 792l1 1M369 796l-2 -3M357 797l1 -1M367 801l2 -5M369 796l0 0M377 801l-5 -5M369 796l3 0M379 791l-5 2M382 797l-1 4M372 796l2 -3M275 670l9 -1M275 670l-2 -3M283 664l-4 -3M284 668l-1 -2M284 668l0 1M284 669l0 0M279 661l-6 6M264 660l5 6M264 660l3 -3M267 657l1 0M268 657l4 4M272 661l-3 6M269 666l0 1M269 667l0 0M260 659l4 1M260 666l9 0M264 652l3 2M267 654l0 3M279 661l-2 -3M277 658l-5 3M273 667l-4 0M267 670l2 -3M267 670l2 5M275 670l0 0M384 700l4 -1M384 700l1 2M385 702l2 5M389 701l-1 -2M389 701l-2 6M387 707l0 0M381 706l0 -1M381 706l6 1M381 705l4 -3M359 684l3 -1M359 684l3 5M362 689l0 -6M357 683l2 1M366 679l-4 4M362 693l1 -1M363 692l-1 -3M368 687l-4 4M369 682l-2 -3M363 692l1 -1M374 702l2 1M374 702l0 -7M376 703l4 -4M375 694l-1 1M375 694l5 4M380 698l0 1M380 699l0 0M375 692l0 2M372 695l-8 -4M372 695l2 0M377 690l2 -1M379 689l6 2M385 691l-5 7M381 705l-1 -6M384 700l-4 -1M376 704l5 2M376 704l-1 5M376 710l3 -1M376 710l-1 -1M379 709l2 -3M375 709l0 0M381 706l0 0M376 703l0 1M372 702l-2 4M372 702l2 0M370 706l5 3M384 712l-5 -3M377 713l-1 -3M370 713l5 -4M388 709l-1 -2M370 706l-3 0M366 708l1 -2M393 709l-1 -6M389 701l2 1M392 703l-1 -1M393 681l-2 2M393 673l-4 4M389 677l-2 5M391 683l-4 -1M404 683l-5 2M399 685l-7 -1M391 683l1 1M399 685l-6 6M392 684l1 7M379 689l3 -8M385 691l0 0M382 681l4 2M386 683l-1 8M379 680l-5 -6M379 680l2 0M381 680l0 -5M381 675l-7 -3M374 672l0 2M375 682l4 -2M372 682l2 -8M382 681l-1 -1M374 672l0 0M387 671l-1 4M387 671l-5 2M386 675l-5 0M382 673l-1 2M389 677l-3 -2M388 671l-1 0M380 667l2 6M386 683l1 -1M381 675l0 0M242 789l0 3M242 789l6 -2M242 792l6 1M248 787l0 6M240 788l2 1M241 795l1 -3M248 787l0 0M248 793l0 0M286 723l6 -6M284 714l4 -2M292 717l-4 -5M296 724l0 -5M292 717l4 2M288 709l0 3M288 709l-8 -6M277 709l0 -4M280 703l-3 2M288 712l0 0M269 716l0 -2M277 705l-2 0M275 705l-6 9M263 709l3 0M269 714l-3 -5M234 740l-2 -1M234 740l3 -6M232 739l-2 -8M237 734l-1 -1M236 733l-6 -2M230 731l0 0M236 743l-2 -3M231 741l1 -2M238 736l-1 -2M227 735l3 -4M239 731l-3 2M230 731l0 0M287 810l0 0M287 810l1 0M287 810l5 -3M288 810l5 0M293 810l-1 -3M286 811l1 -1M287 808l0 2M292 814l-4 -4M292 804l0 3M296 811l-3 -1M352 736l0 0M352 736l0 0M346 735l5 2M352 736l-1 1M354 738l-2 -2M354 738l3 5M357 743l-4 2M352 736l1 9M260 677l4 3M260 677l-2 -5M262 672l-4 -1M262 672l3 7M265 679l-1 1M258 671l0 1M264 680l0 0M251 680l5 2M256 682l4 -5M255 672l3 0M267 670l-5 2M259 668l-1 3M268 678l0 0M268 678l-3 1M256 682l1 1M264 680l-1 1M257 683l6 -2M290 697l-3 4M290 697l2 8M287 701l3 5M292 705l-2 1M297 704l-5 1M290 697l0 0M288 709l2 -3M280 703l2 -3M282 700l5 1M290 694l-7 3M290 694l0 0M282 700l0 -1M282 699l0 -1M282 698l1 -1M287 689l-3 3M287 689l3 5M283 697l1 -5M302 665l-2 -7M302 665l-5 3M300 658l-4 1M296 659l1 9M284 668l10 -6M294 658l1 1M295 659l-1 3M284 669l9 -2M294 662l-1 5M289 649l1 1M289 649l0 -4M290 650l9 -4M289 645l5 -6M294 639l4 6M298 645l1 1M282 638l-2 6M282 638l7 7M280 644l5 6M285 650l4 -1M292 656l-2 -6M301 658l-1 0M301 658l1 -11M302 647l-3 -1M296 659l-1 0M299 638l-1 7M304 646l-2 1M283 673l1 -1M284 669l0 1M284 672l0 -2M287 689l0 -4M288 684l2 -1M295 693l-1 -6M290 683l4 4M300 689l0 -3M300 686l-1 0M294 687l5 -1M268 678l2 3M264 680l2 6M270 681l-4 5M368 720l2 4M376 723l-4 1M370 724l2 0M388 721l-6 2M388 721l2 6M382 723l5 4M390 727l-3 0M388 719l0 2M381 722l1 1M404 737l-5 -10M393 718l4 9M390 727l5 1M395 728l2 -1M401 721l-3 6M399 727l-1 0M397 727l1 0M391 786l-3 1M391 786l2 9M388 787l3 7M391 794l1 1M392 795l1 0M396 795l-3 0M392 786l-1 0M387 787l1 0M387 795l4 -1M389 802l3 -7M380 781l-3 -4M380 781l-7 3M377 777l-7 4M370 781l3 3M370 698l-10 0M370 698l0 3M370 701l-4 2M360 698l6 5M372 695l-2 3M359 696l1 2M372 702l-2 -1M367 706l-1 -3M326 734l0 6M332 739l-4 2M332 739l0 0M326 740l2 1M318 743l1 0M326 740l-7 3M332 739l3 2M335 741l-3 3M332 744l-2 1M328 741l2 4M332 750l3 -4M332 750l-3 -1M332 744l3 2M329 749l1 -4M335 741l5 0M335 746l3 -1M338 745l2 -4M351 737l-6 6M353 745l-2 3M351 748l-5 -3M346 745l-1 -1M345 744l0 -1M340 740l0 1M345 743l-5 -2M340 741l0 0M315 775l0 -2M324 784l2 -7M326 777l-11 -4M313 770l1 0M310 756l9 5M319 761l-1 6M318 767l-4 3M314 770l1 3M343 785l0 0M343 785l4 -1M343 785l2 -9M347 784l3 -5M350 779l2 -3M350 773l2 3M350 773l-1 0M349 773l-4 3M347 761l2 3M349 764l-5 4M340 761l-1 1M339 762l0 0M339 762l5 6M339 760l-6 -5M339 760l1 -8M338 750l2 1M338 750l-5 2M333 752l0 3M340 752l0 -1M346 754l-2 -1M344 753l-4 -1M339 762l0 -2M338 745l0 5M345 744l-5 7M332 750l1 2M344 753l2 -8M326 777l3 -1M329 776l-3 -8M318 767l6 -1M324 766l2 2M356 656l-4 0M356 656l-1 4M355 660l-3 -4M360 653l-4 3M350 652l0 3M350 655l2 1M355 665l0 -5M349 655l4 9M349 655l1 0M341 675l1 -4M341 675l-7 -5M342 671l-3 -5M334 670l0 -1M334 669l2 -3M336 666l2 0M339 666l-1 0M344 663l0 0M346 669l-4 2M344 663l-5 3M327 667l7 2M327 673l6 0M333 673l1 -3M347 675l-1 0M341 675l0 0M341 675l5 0M351 678l-2 1M346 675l3 4M351 684l-2 -4M349 680l0 -1M331 662l4 2M331 662l1 0M332 662l2 -1M335 664l-1 -3M329 662l2 0M336 666l-1 -2M329 655l-1 1M328 656l0 0M334 656l0 2M334 658l-2 4M335 660l-1 -2M335 660l-1 1M335 660l2 1M337 661l1 5M343 661l-3 -2M343 661l3 -5M344 653l-4 5M344 653l2 3M340 658l0 1M344 663l-1 -2M337 661l3 -2M349 655l-3 1M342 650l2 3M337 655l3 3M328 675l3 2M333 673l0 3M331 677l2 -1M327 679l2 0M331 677l-2 2M341 675l-2 5M339 680l-5 -3M334 677l-1 -1M309 705l0 -2M317 707l2 -1M309 703l0 0M319 706l0 -2M309 703l10 1M328 705l-4 0M328 705l-2 5M324 705l-4 2M326 710l-6 -2M320 708l0 -1M327 712l-1 -2M331 704l-2 0M329 704l-1 1M320 712l0 -4M319 706l1 1M327 702l-2 0M327 702l-1 -2M325 702l-2 -2M326 700l-3 0M329 704l-2 -2M324 705l1 -3M327 699l-1 1M360 780l-2 6M360 780l-1 -1M359 779l-3 -1M356 778l-2 5M354 783l0 3M358 786l-2 1M356 787l-2 -1M365 780l-1 8M365 780l-5 0M363 789l-5 -3M350 779l4 4M352 776l4 2M347 784l7 2M354 796l2 -9M343 785l-1 2M265 647l3 3M267 654l1 -1M268 650l0 3M268 657l6 -2M268 653l6 0M274 655l0 -2M277 658l0 -1M274 655l3 2M287 658l-6 -3M277 657l4 -2M285 650l-4 2M281 655l0 -3M280 644l0 1M280 645l0 6M280 651l1 1M392 703l3 -3M391 702l2 -3M395 700l-2 -1M398 707l0 -6M395 700l3 1M408 701l-9 -1M398 701l1 -1M388 699l2 -5M393 699l-3 -5M385 691l5 2M390 694l0 -1M301 716l-2 1M301 716l-1 -10M299 717l-5 -6M294 711l6 -6M300 706l0 -1M306 718l-5 -2M296 719l3 -2M305 706l-5 0M288 712l6 -1M299 705l1 0M308 701l1 2M266 702l2 4M266 702l7 -3M268 706l6 -2M273 699l1 5M263 700l3 2M263 700l-4 2M266 709l2 -3M265 698l-2 2M265 698l2 -1M273 699l-6 -2M273 699l0 0M275 705l-1 -1M273 699l1 -3M274 696l8 3M257 683l1 3M263 681l-1 4M262 685l-4 1M266 689l0 -3M266 689l0 0M262 685l4 4M250 693l3 -5M250 693l-2 0M248 693l0 0M248 693l2 -6M250 687l3 1M248 696l0 -3M255 700l1 -5M256 695l-6 -2M246 692l2 1M250 685l0 2M294 670l0 -1M294 670l2 5M294 669l3 0M297 669l2 3M299 672l-3 3M293 667l1 2M297 668l0 1M302 665l2 2M304 667l2 7M306 674l-7 -2M292 672l-1 0M292 672l3 7M291 672l-1 4M290 676l4 3M294 679l0 0M294 679l1 0M295 679l0 0M284 670l7 2M294 670l-2 2M296 675l-1 4M284 672l6 4M290 683l4 -4M299 686l-5 -7M306 677l-8 2M306 677l1 5M298 679l3 7M301 686l6 -3M307 682l0 1M307 674l-1 0M307 674l-1 3M295 679l3 0M318 682l-11 0M311 672l-1 0M310 672l-3 2M300 686l1 0M309 691l-2 -8M313 693l0 0M313 693l-2 -1M275 680l-1 3M270 681l3 3M274 683l-1 1M280 681l-1 0M274 683l5 -2M360 724l7 6M357 732l3 2M367 730l-7 4M411 748l-14 -2M397 746l3 7M396 745l1 1M396 745l0 -5M396 740l8 -3M378 724l-1 4M372 724l1 4M377 728l-4 0M370 724l-2 5M373 728l-5 1M367 730l0 0M368 729l-1 1M392 782l-3 -1M392 782l1 -3M389 781l2 -4M393 779l-2 -2M393 784l-1 -2M383 782l1 -1M384 781l5 0M399 777l-6 2M386 775l-1 5M386 775l4 -1M385 780l6 -3M390 774l0 1M390 775l1 2M380 781l1 1M383 771l0 0M383 771l3 4M377 777l0 -2M384 781l1 -1M383 771l-6 4M383 771l7 -1M390 770l0 4M391 777l0 0M394 774l-4 1M391 769l-1 1M383 771l0 -3M383 768l-3 -3M376 773l1 2M376 773l2 -8M378 765l1 -1M379 764l1 1M350 758l5 3M350 754l1 -1M354 755l-3 -2M354 755l3 6M357 761l-2 0M362 755l-8 0M362 755l-1 6M357 761l4 0M362 755l1 -3M373 758l-3 -3M373 758l-4 5M366 764l3 -1M366 764l-4 -1M363 752l7 3M361 761l1 2M367 769l5 3M367 769l-3 3M372 772l-5 4M367 776l-3 -4M364 772l0 0M366 764l1 5M361 765l1 -2M361 765l3 7M366 780l1 -4M366 780l-1 0M360 773l4 -1M360 773l-1 6M360 773l-3 -3M357 770l4 -5M374 766l-3 -2M374 766l0 6M371 764l1 8M374 772l-2 0M377 757l-4 1M377 757l2 5M378 765l-4 1M369 763l2 1M379 764l0 -2M376 773l-2 -1M372 772l0 0M366 780l1 0M370 781l-3 -1M370 789l2 0M370 789l-2 -2M368 787l1 -2M369 785l4 1M372 789l1 -2M373 787l0 -1M367 793l3 -4M374 793l-2 -4M365 789l3 -2M367 780l2 5M373 784l0 2M379 788l-6 -1M400 758l-1 -4M400 758l-3 0M399 754l-2 0M397 758l0 -4M398 760l-2 2M398 760l3 0M398 764l-2 -2M398 764l7 -2M397 758l1 2M397 758l0 0M400 753l-1 1M401 769l-3 -5M392 767l-1 -2M396 762l-4 1M391 765l1 -2M383 768l7 -4M391 765l-1 -1M380 765l9 -2M390 764l-1 -1M379 762l9 0M389 763l-1 -1M324 753l-5 6M324 753l0 -1M324 752l-5 -5M319 747l-7 6M312 753l7 6M329 758l4 -3M329 758l-5 -5M329 749l-5 3M319 743l0 4M309 753l3 0M319 761l0 -2M338 773l-2 -1M338 773l1 2M339 777l0 -2M339 777l-6 4M331 777l5 -5M331 777l0 2M336 772l0 0M333 781l-2 -2M349 773l-4 -3M345 776l-6 -1M345 770l-7 3M343 785l-4 -8M335 786l-2 -5M329 776l2 1M326 768l10 4M324 784l7 -5M329 762l10 0M329 762l-1 2M328 764l8 5M339 762l-3 7M329 758l0 4M339 762l0 0M324 766l4 -2M336 772l0 -3M344 768l1 2M346 686l2 -5M346 686l-5 0M348 681l-9 0M341 686l-2 -2M339 684l0 0M339 684l0 -3M348 687l-2 -1M349 680l-1 1M342 691l-1 -5M339 680l0 1M338 685l1 -1M331 683l8 1M331 683l-1 1M331 683l3 -5M331 683l0 -3M331 680l3 -2M331 683l0 0M334 677l0 1M329 679l2 1M311 672l2 -8M316 671l0 -6M316 665l-3 -1M307 645l5 8M318 649l0 -1M318 649l-6 4M312 653l0 0M310 664l-1 -1M310 664l3 0M309 663l-2 -5M313 664l0 -1M313 663l0 -3M313 660l-4 -3M307 658l2 -1M304 667l5 -4M310 672l0 -8M313 664l0 0M301 658l6 0M312 653l-3 4M319 704l-4 -3M319 704l2 -5M315 701l-2 -6M321 699l0 0M321 699l-7 -5M314 694l-1 1M309 703l3 -2M312 701l3 0M319 704l0 0M323 700l-2 -1M312 701l1 -6M324 693l-3 6M313 693l1 1M272 649l2 4M272 649l0 -3M274 653l3 -4M277 649l-1 -3M276 646l-2 -1M272 646l2 -1M268 650l4 -1M274 653l0 0M267 643l5 3M280 651l-3 -2M280 645l-4 1M278 623l-4 22M393 692l0 0M393 692l11 -1M393 692l6 5M404 691l-5 6M393 691l0 1M390 693l3 -1M399 700l0 -3M256 694l1 -4M256 694l6 1M263 691l-6 -1M263 691l0 3M257 690l0 0M263 694l-1 1M256 695l0 -1M253 688l4 2M258 701l4 -6M266 689l-3 2M258 686l-1 4M265 698l-2 -4M267 697l1 -7M268 690l-2 -1M273 690l1 -2M273 690l1 2M274 688l3 -1M274 692l5 1M280 692l-1 1M280 692l0 -5M280 687l-3 0M268 690l5 0M273 684l1 4M274 696l0 -4M279 681l-2 6M282 698l-3 -5M284 692l-4 0M285 685l-5 2M362 744l1 -2M362 744l-4 -6M363 742l1 -4M364 738l-3 -2M358 738l3 -2M354 738l4 0M357 743l5 1M362 744l0 0M360 734l1 2M362 746l2 3M362 746l-10 3M364 749l-1 3M363 752l-11 -1M352 751l0 -2M351 748l1 1M362 744l0 2M351 753l1 -2M363 752l0 0M370 755l2 -5M364 749l4 -2M368 747l4 3M377 757l3 -4M380 753l-5 -3M375 750l-3 0M387 727l-3 4M377 728l2 5M379 733l5 -2M369 738l8 -3M369 738l-2 -3M377 735l-9 -3M367 735l1 -3M367 730l1 2M379 735l0 -2M379 735l-2 0M364 738l3 -3M351 772l5 -2M351 772l-1 -7M356 770l-2 -7M350 765l4 -2M350 773l1 -1M357 770l-1 0M349 764l1 1M355 761l-1 2M381 746l1 6M381 746l-4 -5M375 742l2 -1M375 742l5 11M380 753l2 -1M380 753l0 0M375 750l-1 -7M374 743l1 -1M382 752l0 0M382 752l5 2M388 762l-1 -8M388 746l-3 -5M388 746l-4 3M384 749l0 -7M385 741l-1 1M382 752l2 -3M381 746l3 -4M379 737l6 3M379 737l-2 4M385 740l0 1M397 758l-3 0M392 763l1 -3M394 758l-1 2M397 754l-4 -1M394 758l-1 -5M316 665l2 -2M313 663l4 -1M317 662l1 1M313 660l3 -1M317 662l-1 -3M312 653l5 3M316 659l1 -3M372 743l-1 1M372 743l-2 -4M371 744l-6 -3M370 739l-5 2M368 747l3 -3M374 743l-2 0M379 737l0 -2M369 738l1 1M363 742l2 -1M390 739l-3 0M390 739l3 -2M387 739l-1 -6M393 737l0 -1M393 736l-7 -3M390 746l-2 0M390 746l0 -7M385 740l2 -1M396 745l-3 3M393 748l-3 -2M396 740l-3 -3M384 731l2 2M395 728l-2 8M389 754l3 5M389 754l3 -2M392 759l1 -7M392 752l1 0M387 754l2 0M393 760l-1 -1M393 748l-1 4M393 753l0 -1M322 664l-3 -1M322 664l0 -8M319 663l1 -7M322 656l-1 0M321 656l-1 0M320 656l0 0M322 665l0 -1M318 663l1 0M328 656l-6 0M317 656l3 0M322 651l-1 5M318 649l2 7" stroke="#cf82c8" stroke-width="1.44" fill="none"/><circle cx="120.9" cy="354.6" r="7.2" fill="#b46cb8" opacity="0.42"/><circle cx="175.7" cy="334.2" r="7.2" fill="#b46cb8" opacity="0.42"/><circle cx="188" cy="346.5" r="7.7" fill="#b46cb8" opacity="0.42"/><circle cx="189.9" cy="399.5" r="7.7" fill="#b46cb8" opacity="0.42"/><path d="M111.5,377.4 C114,376.5 117,375.5 119.6,374.6 C123,373.5 126,372.3 129.1,371.2 C132.5,370 135.5,368.5 138.7,367.4 C141.5,366.5 144,365.6 146.3,365 C144,366.5 141.5,368 138.7,369.3 C135.5,370.8 132.5,372.5 129.1,374.1 C126.5,375.6 124,377.2 121.5,378.9 C119.5,380.4 117.5,382 115.7,383.7 C114.5,385.5 113.6,387.4 112.9,389.4 C112.4,391.3 112.1,393.2 111.9,395.1 L111.5,395.1 Z" fill="#f6f4f2"/><path d="M111.5,397.4 C114,398.6 118,400 124,401.5 C128,402.5 131,403.4 132.6,404.2 C138,405.6 143.5,407 149.2,408.9 L111.5,408.9 Z" fill="#f6f4f2"/><path d="M130,345 C132,343 136,342.5 139,343.5 C139.5,346.5 138,350 135,352 C132.5,352.5 130,351 129.6,348.5 Z" fill="#f6f4f2"/><path d="M168,358.5 C174,357.4 180,357 187.5,357.2 C182,358.6 175,359.4 168,358.5 Z" fill="#f6f4f2"/><path d="M138.7,386.3 C144,386.8 150,387.4 155.8,388.4 C157.3,389.2 158,390.2 157.8,391.3 C157,393 156,394.6 154.9,396.1 C153.5,397.8 152,399.4 150.1,400.8 C147,401.8 143.8,402.5 140.6,402.8" stroke="#f6f4f2" stroke-width="2.6" fill="none" stroke-linecap="round"/><path d="M124,391 C130,389.5 136,388.5 142,389.5 C146,390.3 149,392 152,393.5" stroke="#e0708c" stroke-width="1.1" fill="none"/></g><circle cx="120.9" cy="354.6" r="8" fill="none" stroke="#111" stroke-width="1.5" stroke-dasharray="1.3 1.3"/><circle cx="175.7" cy="334.2" r="8" fill="none" stroke="#111" stroke-width="1.5" stroke-dasharray="1.3 1.3"/><circle cx="188" cy="346.5" r="8.5" fill="none" stroke="#111" stroke-width="1.5" stroke-dasharray="1.3 1.3"/><circle cx="189.9" cy="399.5" r="8.5" fill="none" stroke="#111" stroke-width="1.5" stroke-dasharray="1.3 1.3"/></g><rect x="200.0" y="323.6" width="85.60000000000002" height="85.29999999999995" fill="url(#photoBg)"/><path d="M225.1,343.9 C229,344.5 233,346 237,348 C242,350 248,351 253.8,352.2 C255,355 255,358 255.3,359.7 C258,360 261,360.4 264,361.5 C267,363 269,365 270.4,368.7 C268,372 265,375 262.8,377.8 C260,381 257,383.5 255.3,385.3 C252,388 250,390 247.8,391.3 C244,392.5 241,393 238.7,392.9 C235,391.5 231,390 228.2,388.3 C225,386 223,384 222.1,382.3 C220.5,378 219.5,375 219.1,371.8 C218.3,367 217.8,363 217.6,359.7 C218.5,356 219.5,354 220.6,352.2 C222,349 223.5,346 225.1,343.9 Z" fill="url(#lg1)"/><circle cx="237.5" cy="353.4" r="4.4" fill="#e8c8c0" fill-opacity="0.3" stroke="#f2eeee" stroke-width="0.8"/><circle cx="223.9" cy="361.2" r="4.4" fill="#e8c8c0" fill-opacity="0.3" stroke="#f2eeee" stroke-width="0.8"/><circle cx="260.3" cy="365.7" r="4.4" fill="#e8c8c0" fill-opacity="0.3" stroke="#f2eeee" stroke-width="0.8"/><circle cx="244" cy="371.8" r="4.4" fill="#e8c8c0" fill-opacity="0.3" stroke="#f2eeee" stroke-width="0.8"/><circle cx="239.5" cy="379.3" r="4.4" fill="#e8c8c0" fill-opacity="0.3" stroke="#f2eeee" stroke-width="0.8"/><circle cx="245.9" cy="379.3" r="4.4" fill="#e8c8c0" fill-opacity="0.3" stroke="#f2eeee" stroke-width="0.8"/><text transform="translate(16.4,367.1) rotate(-90)" font-size="14.5" text-anchor="middle" fill="#111">G2</text><rect x="23.1" y="412.1" width="86.1" height="85.39999999999998" fill="#707175"/><line x1="23.1" y1="430.3" x2="109.2" y2="430.3" stroke="#4e4e51" stroke-width="0.9"/><line x1="23.1" y1="441.0" x2="109.2" y2="441.0" stroke="#4e4e51" stroke-width="0.9"/><line x1="23.1" y1="475.6" x2="109.2" y2="475.6" stroke="#4e4e51" stroke-width="0.9"/><line x1="23.1" y1="485.7" x2="109.2" y2="485.7" stroke="#4e4e51" stroke-width="0.9"/><path d="M42.3,435 L53.099999999999994,435.3 L53.699999999999996,440.2 L46.9,439.2 L46.5,436.8 Z" fill="none" stroke="#3c3c3e" stroke-width="0.6"/><path d="M77.4,431.6 L86.60000000000001,431.6 L87.2,436.20000000000005 L75.4,436.6 L76.60000000000001,433.20000000000005 Z" fill="none" stroke="#3c3c3e" stroke-width="0.6"/><path d="M42.3,479.6 L53.099999999999994,479.90000000000003 L53.699999999999996,484.8 L46.9,483.8 L46.5,481.40000000000003 Z" fill="none" stroke="#3c3c3e" stroke-width="0.6"/><path d="M77.4,476.1 L86.60000000000001,476.1 L87.2,480.70000000000005 L75.4,481.1 L76.60000000000001,477.70000000000005 Z" fill="none" stroke="#3c3c3e" stroke-width="0.6"/><g clip-path="url(#clipH2)"><g filter="url(#blurH)"><rect x="111.5" y="412.1" width="86.19999999999999" height="85.39999999999998" fill="#f8eef6"/><path transform="scale(0.5)" d="M223 924l-13 11M223 924l-1 -3M222 921l-7 1M231 912l3 1M231 912l2 -4M233 908l3 -1M236 907l0 0M236 907l2 5M238 912l-4 1M229 914l2 4M229 914l-7 4M222 919l0 -1M222 919l8 0M230 919l1 -1M229 913l0 1M229 913l2 -1M234 913l3 6M231 918l6 1M225 947l-9 -4M225 947l-1 4M219 953l5 -2M398 887l3 4M398 887l3 -8M219 821l-5 6M228 827l-3 -3M228 827l-5 6M225 824l-7 5M223 833l-4 -2M218 829l1 2M224 821l1 3M224 821l-5 0M215 914l5 -4M216 916l5 1M221 917l2 -7M220 910l3 0M222 921l0 -2M222 918l-1 -1M222 861l-2 7M222 861l-5 -2M220 868l-2 -2M221 870l6 -4M221 870l-1 -2M227 866l-2 -7M225 859l-1 -1M224 858l-2 3M223 851l-11 5M223 851l1 3M224 854l0 2M224 856l-8 2M224 858l0 -2M216 840l4 4M239 876l-4 -1M239 876l3 -8M242 868l0 0M235 875l2 -4M242 868l-5 3M221 873l1 1M221 873l-8 4M222 874l2 11M224 885l-4 0M213 877l7 8M218 904l5 -2M218 904l2 6M223 910l1 0M223 902l1 8M229 913l-2 -2M227 911l-3 -1M237 901l6 1M237 901l-1 6M236 907l10 1M243 902l2 0M246 908l-1 -6M240 896l3 6M240 896l2 -5M242 891l5 10M245 902l2 -1M237 924l6 3M237 924l0 0M243 927l-3 1M237 924l3 4M287 997l-2 -1M287 997l0 6M283 1002l1 -5M284 997l1 -1M297 1003l-7 -6M290 997l0 0M290 997l-3 0M280 989l0 -4M280 989l5 2M285 991l3 -2M288 989l-5 -5M280 985l3 -1M280 989l-4 3M285 991l0 5M284 997l-8 1M276 992l0 6M243 998l7 -1M243 998l-1 0M246 990l-4 8M246 990l7 3M253 993l-3 4M262 977l2 -3M262 977l2 5M273 978l-7 6M273 978l-1 -4M272 974l-4 -4M264 974l4 -4M264 982l2 2M259 977l-1 -5M259 977l-2 1M257 978l-2 -4M255 974l1 -3M256 971l2 1M262 977l-3 0M264 974l-6 -2M279 971l1 -1M279 971l-7 3M268 970l-1 -2M267 968l7 -4M280 970l-6 -6M272 955l3 8M272 955l1 -2M273 953l5 4M278 957l-2 6M276 963l-1 0M267 968l-1 -1M272 955l-6 6M274 964l1 -1M266 961l0 6M273 950l0 3M273 950l-3 0M270 950l-7 6M263 956l0 1M266 961l-3 -4M298 961l3 -7M298 961l0 0M298 961l-4 -7M294 954l5 -2M301 954l-2 -2M308 969l8 5M308 969l0 1M316 974l-4 9M312 983l-3 -8M309 975l-1 -5M316 974l3 -1M312 983l0 0M319 973l0 7M319 980l-6 3M312 983l1 0M328 990l2 1M328 990l-1 -2M327 988l4 -5M331 983l3 2M330 991l4 -6M225 947l2 -2M224 951l1 1M231 945l-4 0M231 945l-3 8M228 953l-3 -1M395 904l14 0M395 904l4 -8M399 896l2 0M392 867l0 -3M392 867l-5 3M392 864l-4 -2M388 862l-2 4M386 866l1 4M387 870l0 0M395 876l-6 -4M395 876l2 -1M397 875l-5 -8M389 872l-2 -2M387 861l2 -5M387 861l1 1M389 856l5 0M394 864l-2 0M394 864l1 -7M394 856l1 1M389 872l-2 1M387 873l-1 -2M386 871l1 -1M402 832l-3 4M399 836l0 1M421 844l-22 -7M219 831l-3 3M233 850l1 -2M233 850l-10 1M234 848l-4 -7M230 841l-5 1M225 842l-2 2M223 844l-1 4M223 851l-1 -3M232 855l-8 -1M232 855l1 -5M223 851l0 0M220 844l3 0M206 854l16 -6M262 894l-4 -1M262 894l2 -4M263 889l1 1M263 889l-6 -1M258 893l-2 -1M256 892l1 -4M252 881l5 5M252 881l4 -1M257 886l3 -3M256 880l4 3M263 889l-3 -6M257 888l-1 -1M256 887l1 -1M260 883l0 0M236 823l1 2M237 825l0 0M226 816l10 7M226 816l-2 5M228 827l0 0M228 827l9 -2M243 813l-1 9M242 822l-4 3M238 825l-1 0M273 950l0 0M273 950l6 0M278 957l4 1M279 950l3 8M280 970l5 -5M276 963l9 1M285 965l0 -1M283 938l-1 -7M283 938l-3 0M282 931l-6 1M276 932l-1 2M275 934l5 4M232 855l3 4M225 859l7 3M235 859l-3 3M227 866l4 -1M232 862l-1 3M221 873l0 -3M222 874l10 2M232 876l1 -7M233 869l0 -1M231 865l2 3M227 887l3 2M227 887l5 -11M230 889l5 -1M232 876l0 0M232 876l6 10M235 888l3 -1M238 886l0 1M232 876l0 0M224 885l2 2M226 887l1 0M235 875l-3 1M233 869l4 2M239 876l2 1M241 877l-3 9M241 888l-3 -1M241 888l-5 9M236 897l-1 -9M236 897l0 0M230 889l0 5M230 894l6 3M240 896l-4 2M237 901l0 0M237 901l-1 -3M241 888l1 0M242 888l0 3M236 898l0 -1M223 902l2 -1M225 901l-8 -6M223 890l0 5M223 890l-5 2M223 895l-5 -1M220 885l-4 2M226 887l-3 3M237 924l-4 3M240 928l-1 3M239 931l-2 1M236 932l1 0M236 932l-3 -3M233 927l0 2M230 919l-1 5M237 919l2 1M237 924l2 -4M233 927l-4 -3M231 938l1 -8M231 938l2 2M233 940l3 -8M233 929l-1 1M223 924l1 0M224 924l5 0M258 927l0 0M258 927l7 0M258 927l-2 6M265 927l-7 9M256 933l2 3M242 936l4 -1M242 936l-3 -2M239 931l5 -1M239 934l-2 -2M246 935l-2 -5M333 996l9 -1M333 996l1 1M334 997l4 3M342 995l2 3M344 998l-2 2M344 998l1 0M345 998l8 10M333 999l1 -2M333 999l3 21M324 1005l9 -6M341 938l-1 -4M341 938l5 1M346 939l0 -2M346 937l-1 -8M340 934l4 -5M344 929l1 0M352 994l0 0M352 994l2 7M352 994l2 -3M354 991l6 7M354 1001l6 -2M360 998l0 1M342 994l0 1M342 994l3 -3M345 998l7 -4M345 991l7 3M362 1001l-2 -2M373 1000l2 -2M385 1005l-10 -7M402 909l-7 2M401 919l-6 -8M395 911l0 0M390 905l5 6M390 905l5 -1M243 998l5 3M252 1001l-2 -4M280 985l-3 -3M277 982l-4 4M276 992l-2 -1M273 986l1 5M276 998l-6 13M257 978l-2 2M255 974l-5 1M250 975l3 5M255 980l-2 0M246 990l0 -1M253 993l2 -1M255 992l-3 -6M246 989l5 -3M252 986l-1 0M260 983l-2 4M260 983l-4 -1M258 987l-3 -3M256 982l-1 2M264 982l-4 1M255 980l1 2M252 986l3 -2M252 980l1 0M252 980l-2 4M251 986l-1 -2M318 925l-3 1M318 925l1 -1M319 924l-1 -5M318 919l-9 3M315 926l-6 -4M299 923l8 -2M299 923l2 4M301 927l7 -3M307 921l1 0M308 921l0 3M250 975l-4 -2M252 980l-4 0M248 980l-2 -7M250 984l-3 -2M248 980l-1 2M297 922l2 1M297 922l0 0M290 935l1 -8M290 935l7 -2M301 928l0 -1M301 928l0 0M301 928l-2 4M291 927l6 -5M297 933l2 -1M329 972l-3 3M329 972l7 6M326 975l0 5M336 978l-7 2M329 980l-3 0M319 973l1 -2M320 971l6 4M319 980l7 0M326 980l0 0M326 981l0 -1M326 981l1 7M331 983l-2 -3M322 986l-6 2M322 986l5 4M316 988l5 4M327 990l-6 2M316 987l-3 -4M316 987l0 1M326 981l-4 5M328 990l-1 0M309 1015l-1 -16M308 999l2 -1M315 1003l-5 -5M333 996l0 -1M342 994l-2 -2M333 995l5 -3M340 992l-2 0M345 991l-2 -6M340 992l3 -7M330 991l2 3M332 994l1 1M334 985l4 -1M338 992l0 -8M346 937l3 -5M345 929l1 -1M349 932l-3 -4M344 929l-6 -4M338 925l10 -4M348 921l1 1M346 928l3 -6M242 936l-1 2M239 934l-1 5M238 939l3 -1M216 935l11 1M216 935l10 -4M227 936l1 -4M226 931l2 1M224 924l2 7M232 930l-4 2M229 937l-2 -1M229 937l-3 6M227 936l-3 5M226 943l-2 -2M231 938l-2 -1M227 936l0 0M211 936l13 5M227 945l-1 -2M217 955l3 4M225 958l0 -6M225 958l0 0M220 959l5 -1M255 939l1 -1M255 939l-1 2M256 938l6 4M262 942l-5 4M254 941l3 5M247 936l-1 -1M247 936l2 4M242 940l-1 -2M242 940l6 2M248 942l1 -2M262 942l2 0M264 942l0 1M264 943l-7 4M257 946l0 1M243 976l1 -2M243 976l1 7M246 973l0 0M244 983l3 -1M246 973l-2 1M246 989l-3 -3M244 983l-1 2M243 985l0 1M229 970l1 2M229 970l5 -2M234 968l-1 7M233 975l-1 1M232 976l-2 -4M214 970l7 12M216 970l7 3M223 973l1 7M221 982l3 -2M259 899l-3 -1M259 899l-2 -3M257 896l-1 1M256 898l0 -1M264 899l0 1M264 899l-2 -5M258 893l-1 3M264 900l-3 1M261 901l-2 -2M251 897l0 -1M251 897l5 0M251 896l4 -4M255 892l1 0M255 902l-6 -3M255 902l1 -4M249 899l2 -2M394 917l0 -5M394 917l-5 -1M394 912l-5 3M389 916l0 -1M395 923l-6 -3M395 923l-1 -6M389 920l0 -4M389 856l-1 -2M394 856l1 -5M388 854l1 -7M395 851l-3 -4M392 847l-3 0M388 854l-6 -1M382 853l1 -4M389 847l-1 -1M388 846l-2 1M383 849l3 -2M382 854l3 6M382 854l-2 0M380 854l3 6M385 860l-2 0M387 861l-2 -1M382 853l0 1M401 869l-5 -5M396 864l3 -4M400 857l-1 0M399 857l0 3M401 879l-4 -4M397 875l4 -6M397 875l0 0M394 864l2 0M395 857l4 0M399 836l-4 -5M395 831l1 -3M401 829l-5 -1M395 851l5 0M392 847l2 -1M394 846l3 0M400 851l-3 -5M315 822l2 -3M315 822l-1 0M314 822l-13 -5M224 841l-5 -3M224 841l-1 -8M224 841l1 1M251 885l-3 3M251 885l1 -4M252 881l-3 -4M243 888l4 0M243 888l3 -10M249 877l-1 0M247 888l1 0M246 878l2 -1M255 892l-7 -4M256 887l-5 -2M252 881l0 0M259 872l0 0M259 872l-10 5M259 872l-3 8M242 888l1 0M249 899l-2 2M251 896l-4 -8M241 877l5 1M242 868l5 1M247 869l1 8M258 862l-4 -1M258 862l1 9M254 861l-3 5M259 871l-8 -5M247 869l3 -3M250 866l1 0M259 871l0 1M259 871l0 0M264 899l3 -2M264 890l4 -1M268 889l-1 8M260 883l3 -6M260 883l8 1M267 880l1 4M267 880l-1 -2M266 878l-3 -1M259 872l4 5M260 883l0 0M268 889l1 -1M269 888l1 -2M270 886l-2 -2M259 871l3 -1M272 872l-1 -1M272 872l-6 6M262 870l9 1M282 958l3 2M285 964l1 -2M285 960l1 2M298 961l-2 2M294 954l-1 0M296 963l-9 -1M287 962l6 -8M308 969l1 -4M309 965l-11 -4M308 970l-1 0M307 970l-10 -2M296 963l0 3M297 968l-1 -2M286 926l-3 -8M286 926l-4 2M282 928l-5 -2M283 918l0 0M283 918l-6 7M277 926l0 0M277 925l0 1M291 927l-5 -1M297 922l-1 -1M296 921l-13 -3M284 938l5 0M284 938l-1 0M290 935l-1 3M282 931l0 -3M276 932l1 -6M267 930l0 -3M267 930l6 4M267 927l2 -1M275 934l-2 0M269 926l8 0M263 937l3 -3M263 937l2 4M266 934l4 7M265 941l5 1M270 942l0 -1M267 930l-1 4M267 927l-1 0M265 927l1 0M258 936l0 0M258 936l5 1M258 936l-2 2M264 942l1 -1M273 934l-3 7M273 950l0 -4M270 950l-6 -1M264 949l0 -6M273 946l-3 -4M280 938l-7 8M242 868l-2 -2M233 868l7 -2M240 866l0 0M235 859l0 0M240 866l-5 -7M239 849l-1 7M239 849l-5 -1M238 856l-3 2M235 859l0 -1M225 901l1 -2M225 901l2 3M227 904l4 1M228 898l6 3M228 898l-2 1M231 905l3 -4M225 901l0 0M223 895l3 4M227 911l0 -7M233 908l-2 -3M230 894l-2 4M237 901l-3 0M246 908l2 2M246 908l-6 4M248 910l-8 10M240 912l0 8M240 920l0 0M238 912l2 0M246 908l0 0M239 920l1 0M283 917l-5 0M283 917l0 1M277 925l-1 -3M278 917l-2 5M252 934l3 -2M252 934l-3 0M249 934l2 -5M255 932l-4 -3M256 933l-1 -1M255 939l-3 -5M247 936l2 -2M254 941l-5 -1M258 927l-6 0M251 929l0 0M252 927l-1 2M258 927l-1 -4M257 923l-6 1M252 927l-1 -3M244 930l1 -2M251 929l-6 -1M243 927l2 1M240 920l5 2M245 928l0 -6M245 928l0 0M356 939l3 -1M356 939l-2 -5M359 938l-4 -7M354 934l0 -2M355 931l-1 1M357 928l-2 3M357 928l0 -3M357 925l-2 -1M355 924l-6 -2M349 932l5 0M350 937l-4 3M350 937l6 3M346 940l9 5M356 940l-1 5M346 940l0 0M346 940l0 -1M354 934l-4 3M356 939l0 1M347 975l-6 1M347 975l5 6M352 981l1 2M353 983l-10 2M339 983l4 2M339 983l0 -4M339 979l2 -3M353 974l-4 -2M353 974l1 3M349 972l-2 3M354 977l-2 4M355 990l0 -5M355 990l-1 1M355 985l-2 -2M343 985l0 0M338 984l1 -1M336 978l3 1M350 968l-1 4M350 968l-1 0M341 976l-1 -4M349 968l-7 1M340 972l2 -3M329 972l3 -6M340 972l-5 -4M332 966l3 2M375 998l2 -2M368 989l3 11M368 989l6 0M377 996l-3 -7M363 935l-6 -7M363 935l2 -8M357 925l7 -2M365 927l-1 -4M386 931l-6 2M386 931l0 0M383 927l3 4M383 927l-2 1M381 928l-1 5M394 953l8 -8M394 953l-2 -7M393 942l-1 0M393 942l7 1M392 946l0 -4M393 937l0 5M393 937l-7 -4M386 933l-4 8M382 941l3 2M392 942l-7 1M242 998l-2 1M223 999l2 -1M225 998l5 2M274 991l-4 0M268 1006l1 -14M269 992l1 -1M273 986l-5 1M270 991l-2 -4M273 978l3 3M277 982l-1 -1M266 984l0 1M266 985l2 2M254 1000l4 -5M257 1001l1 -6M290 997l0 -1M288 989l2 -1M290 996l0 -8M284 983l1 -3M284 983l7 4M289 982l2 5M289 982l-2 -2M285 980l2 0M291 987l0 0M284 983l-1 1M291 987l-1 1M314 926l-4 1M314 926l-3 9M310 927l-4 3M311 935l-4 -4M306 930l1 1M315 926l-1 0M309 922l-1 -1M308 924l2 3M301 928l5 2M318 925l0 1M312 937l-1 -2M312 937l1 1M318 926l-4 12M313 938l1 0M320 971l-2 -7M331 964l1 2M331 964l-10 -2M321 962l-3 2M309 965l2 -2M318 964l-7 -1M306 954l-5 0M306 954l3 1M309 955l1 2M311 963l-1 -6M301 928l2 8M299 932l1 5M300 937l3 -1M312 937l-7 0M307 931l-3 5M305 937l-1 -1M303 936l1 0M299 950l5 -1M299 950l-4 -6M295 944l3 -1M298 943l1 -1M299 942l3 1M302 943l3 1M305 944l-1 5M306 954l-2 -5M299 952l0 -2M293 945l1 -1M293 945l0 0M294 944l1 0M293 945l0 9M293 954l0 0M289 938l5 6M297 933l1 10M300 937l-1 5M305 937l-3 6M309 994l-5 -1M309 994l0 -7M309 987l-7 3M302 990l2 3M308 999l-5 0M309 994l1 2M310 998l0 -2M304 993l-1 6M309 975l-6 4M312 983l-1 0M311 983l-4 -1M307 982l-4 -3M307 970l-3 2M304 972l-3 6M301 978l2 1M314 994l-1 1M314 994l7 1M313 995l6 4M321 995l1 4M321 999l1 0M316 987l-2 7M309 987l2 -4M310 996l3 -1M321 992l0 3M332 994l-10 5M356 920l-1 4M356 920l-4 -7M348 921l-1 -2M352 913l0 0M347 919l5 -6M225 958l4 1M228 953l3 2M231 955l-2 4M231 945l1 0M232 945l3 9M231 955l4 -1M228 967l-2 -4M228 967l-10 1M218 968l2 -4M220 964l6 -1M226 963l0 0M229 970l0 -2M229 968l-1 -1M230 972l-7 1M220 959l0 5M225 958l1 5M229 959l0 1M229 960l-3 3M234 941l3 -1M234 941l-1 3M233 944l10 3M237 940l2 1M239 941l4 6M233 940l1 1M238 939l-1 1M232 945l1 -1M242 940l-3 1M248 942l-3 5M243 947l1 1M245 947l-1 1M266 967l-9 -2M263 957l-7 2M256 959l0 5M257 965l-1 -1M256 971l0 -2M257 965l-1 4M246 973l0 -1M256 969l-10 3M221 982l-1 2M216 988l4 -4M220 1000l-1 -9M218 990l1 1M232 976l0 0M224 980l7 1M231 981l1 -5M233 975l3 -2M243 976l-4 3M236 973l8 1M232 976l7 3M243 985l-4 -2M239 979l0 4M389 891l3 -2M389 891l0 7M395 895l-1 -7M395 895l-6 3M392 889l1 -1M394 888l-1 0M398 887l-4 1M399 896l-4 -1M390 905l-2 -1M388 904l0 -5M388 899l1 -1M359 889l-8 1M359 889l2 2M351 890l-3 3M348 893l6 9M361 891l-7 11M370 884l-7 -7M370 884l-8 3M362 887l1 -10M378 869l2 0M378 869l-4 -7M380 869l1 -1M374 862l1 0M375 862l6 6M386 866l-4 1M383 860l-3 1M380 861l2 6M409 847l-10 -5M407 848l-9 -3M399 842l-1 3M399 837l0 0M398 839l1 -2M398 839l1 3M397 846l1 -1M394 846l1 -5M398 839l-3 2M374 821l-1 0M374 821l1 -4M373 821l-6 -6M369 824l-3 -4M369 824l3 -2M372 822l1 -1M366 820l1 -5M360 822l1 -9M360 822l6 -2M393 832l2 -1M393 832l-7 -3M395 822l1 0M395 822l-5 0M386 829l0 -1M396 822l0 6M386 828l4 -6M381 815l0 6M381 821l7 -1M390 822l-2 -2M358 824l2 -2M358 824l-1 0M357 824l-1 0M356 824l-2 -5M359 889l1 0M360 889l-3 -8M351 890l-3 -8M348 882l9 -1M360 889l2 -2M359 875l3 -2M359 875l-2 5M362 873l1 4M357 880l0 1M348 882l-1 -1M357 880l-7 -2M350 878l-3 3M297 922l7 -8M307 921l3 -6M304 914l6 1M318 916l0 3M318 916l-8 -1M310 915l0 0M288 950l-1 2M288 950l-5 -2M287 952l-2 2M285 954l-3 -4M282 950l1 -2M283 948l0 0M293 945l-5 5M293 954l-6 -2M293 945l-10 3M285 960l0 -6M286 962l1 0M279 950l3 0M284 938l-1 10M304 972l-5 0M297 968l0 0M299 972l-2 -4M241 863l0 -3M241 863l4 -3M241 860l2 -1M245 860l-1 -1M244 859l-1 0M240 866l1 -3M235 858l6 2M250 866l-4 -5M246 861l-1 -1M238 856l2 0M240 856l3 3M244 855l-4 1M244 855l0 4M248 910l0 0M248 910l1 2M245 922l2 -1M249 912l-2 9M283 917l1 -4M275 910l-1 3M275 910l4 -1M278 917l-4 -2M279 909l5 4M274 915l0 -2M275 910l-7 -5M266 909l2 -4M266 909l5 4M268 905l0 0M271 913l3 0M357 947l3 -7M357 947l3 -1M360 946l0 -6M360 940l0 0M359 938l0 0M359 938l1 2M355 945l1 2M356 947l0 0M356 947l1 0M353 974l1 -1M350 968l1 0M354 973l-1 -4M351 968l2 1M342 969l0 -3M335 968l7 -3M342 966l0 -1M355 990l8 4M360 998l3 -3M363 995l0 -1M394 953l0 0M414 950l-20 3M402 984l-4 -3M398 981l-1 -2M404 971l-7 8M400 959l-5 -1M394 953l0 1M394 954l1 4M397 928l-3 7M397 928l-1 -2M396 926l-6 4M390 930l4 5M394 935l0 0M402 935l-8 0M404 933l-7 -5M401 921l-5 3M396 924l0 2M393 937l1 -2M365 927l2 4M368 923l-3 -1M368 923l2 7M364 923l1 -1M367 931l3 0M370 930l0 1M387 930l9 -6M387 930l0 0M387 930l1 -4M388 926l8 -2M396 924l0 0M396 924l0 0M390 930l-3 0M386 933l0 -2M386 931l1 -1M383 927l1 -6M384 921l0 0M384 921l4 5M395 923l1 1M389 920l-5 1M395 911l-1 1M377 996l6 -2M374 989l1 -4M375 985l10 5M385 990l-2 4M398 981l-1 7M397 988l3 2M397 988l-4 1M400 990l-7 -1M390 981l3 -2M390 981l-2 1M388 982l0 5M397 979l-4 0M388 987l3 3M393 989l-2 1M392 946l-5 6M385 943l-1 5M384 948l3 4M392 961l3 -3M392 961l-4 1M388 962l-2 -6M394 954l-6 0M386 956l2 -2M387 952l1 2M264 999l-6 -5M264 999l1 -6M265 993l-3 -3M257 992l2 -1M257 992l1 2M259 991l3 -1M258 995l0 -1M269 992l-4 1M266 985l-4 5M255 992l2 0M258 987l1 4M296 987l3 2M296 987l0 0M296 987l-2 6M299 989l0 11M294 993l1 2M295 995l3 7M302 990l-3 -1M297 984l10 -2M297 984l-1 3M290 996l4 -3M291 987l5 0M303 999l-4 1M290 997l5 -2M305 944l8 -4M305 944l5 5M310 949l4 -8M313 940l1 1M313 938l0 2M305 944l0 0M309 955l2 -4M311 951l-1 -2M346 940l-2 5M341 938l-2 1M344 945l-5 0M339 939l-2 4M339 945l-2 -2M339 939l-3 -1M333 945l4 -2M333 945l-3 -5M336 938l-6 2M311 951l2 -1M313 950l4 -5M317 944l-3 -3M317 944l0 1M317 945l0 0M317 944l1 0M325 951l2 -2M325 951l-1 1M327 949l-1 -4M324 952l-7 -7M326 945l-8 -1M317 953l-7 4M317 953l1 0M310 957l9 -3M318 953l1 1M313 950l4 3M310 957l0 0M317 945l1 8M321 962l1 -7M322 955l-3 -1M324 952l-2 3M333 924l0 0M333 924l5 1M347 919l-6 -5M333 924l4 -9M337 915l1 -1M338 914l3 0M225 995l3 -1M225 995l-4 -4M228 994l-3 -4M221 991l2 -1M225 990l-2 0M225 998l0 -3M230 1000l0 -6M230 994l-2 0M219 991l2 0M220 984l6 1M226 985l-3 5M233 983l-2 -1M233 983l4 7M231 982l-1 2M230 984l-1 5M229 989l2 4M231 993l5 0M236 993l1 -3M231 981l0 1M239 983l-6 0M243 986l-6 4M226 985l4 -1M225 990l4 -1M230 994l1 -1M240 999l-4 -6M367 869l-1 0M367 869l2 2M366 869l-4 4M370 884l1 -3M370 884l0 0M371 881l-2 -10M378 869l-4 3M367 869l6 -6M373 863l1 -1M374 872l-5 -1M372 903l-10 -4M372 903l0 4M372 907l-1 1M362 899l-1 3M361 902l10 6M371 908l0 0M373 896l-1 7M373 896l-11 -3M362 893l0 6M361 891l1 2M354 902l0 2M354 904l3 1M357 905l4 -3M365 918l3 -8M365 918l-7 -4M368 910l-9 -1M359 909l-1 4M358 914l0 -1M356 920l2 -6M365 922l0 -4M357 905l2 4M371 908l-3 2M352 913l6 0M352 913l-2 -6M350 907l4 -3M370 930l4 -4M371 932l-1 -1M371 932l4 -5M374 926l1 1M368 923l4 -1M374 926l-2 -4M385 913l-3 2M385 913l3 -8M382 915l-8 -8M388 905l-8 0M380 905l-6 2M389 915l-4 -2M384 921l-3 -2M381 919l1 -4M388 904l0 1M388 899l-10 -6M378 893l2 12M377 892l1 1M377 892l-4 4M372 907l2 0M399 837l-6 0M395 841l0 0M395 841l-2 -4M388 846l-1 -4M387 842l2 -2M395 841l-6 -1M386 847l-9 -4M387 842l-4 -3M383 839l-6 4M377 860l-2 1M377 860l1 -5M375 861l-2 -7M378 855l-3 -4M375 851l-2 3M375 862l0 -1M380 861l-3 -1M382 867l-1 1M380 854l-2 1M373 863l-5 -7M368 856l5 -2M383 849l-8 -1M375 848l0 3M403 827l-5 -5M398 822l2 -1M396 822l2 0M386 828l-6 -2M381 821l-1 2M380 826l0 -3M372 822l3 4M374 821l1 0M375 826l0 -5M375 821l5 2M253 858l3 -7M253 858l1 1M254 859l3 -2M257 857l1 -2M258 855l-2 -4M256 851l0 0M239 849l3 -1M244 855l1 -1M245 854l-3 -6M246 861l3 -6M245 854l4 1M253 858l-4 -3M254 859l0 2M249 855l0 0M228 827l5 11M238 825l1 2M239 827l-1 1M238 828l-5 10M230 841l3 -3M233 838l0 0M248 841l-6 3M248 841l-3 -5M245 836l-3 1M242 837l-3 2M242 844l-3 -5M239 827l3 2M242 829l3 7M245 836l0 0M238 828l4 9M233 838l6 1M242 848l0 0M242 848l0 -4M347 830l1 6M347 830l2 0M349 830l5 4M348 836l6 -2M356 834l-2 0M356 834l0 -8M356 826l-7 4M352 817l-6 6M346 818l0 4M346 822l0 1M356 824l-9 0M346 823l1 1M357 824l-1 2M346 830l1 0M346 830l0 -2M346 828l1 -4M315 822l4 4M319 826l3 -2M321 819l1 5M268 905l3 -2M280 906l-1 3M280 906l-4 -4M271 903l5 -1M269 888l2 2M267 897l3 -1M271 890l0 5M270 896l1 -1M264 900l4 5M271 903l1 -4M270 896l2 3M271 890l6 1M277 891l0 5M271 895l6 1M276 902l1 -4M272 899l5 -1M258 862l2 -1M262 870l1 -1M263 869l-3 -8M257 857l4 3M260 861l1 -1M258 855l1 0M259 855l5 4M261 860l3 -1M291 892l0 6M291 892l-7 4M284 896l1 6M291 898l-6 4M295 973l2 1M295 973l-1 0M294 973l-4 2M297 974l1 5M292 978l5 3M292 978l0 -1M298 979l-1 2M292 977l-2 -2M299 972l-2 2M297 968l-2 5M296 966l-2 3M294 969l0 4M301 978l-3 1M289 982l3 -4M297 984l0 -3M287 980l5 -3M289 974l-1 -4M289 974l-5 4M284 978l-2 -1M287 970l1 0M287 970l-5 5M282 975l0 2M294 969l-6 1M290 975l-1 -1M285 980l-1 -2M276 981l6 -4M285 965l2 5M279 971l3 4M249 922l0 0M249 922l4 -2M249 922l4 -4M253 918l0 2M253 920l0 0M251 924l-2 -2M247 921l2 1M257 923l0 -2M257 921l-4 -1M249 912l4 1M253 913l0 0M253 913l0 5M257 916l-4 -3M257 916l-4 4M257 921l0 -5M257 921l7 0M257 916l6 -2M264 921l0 -6M264 915l-1 -1M257 921l0 0M257 916l0 0M266 927l-2 -6M260 908l-3 1M260 908l-1 -5M257 909l-2 -4M259 903l-3 0M256 903l-1 2M264 911l-4 -3M264 911l-1 3M253 913l4 -4M261 901l-2 2M266 909l-2 2M248 910l7 -5M255 902l1 1M272 918l0 -1M272 918l-1 1M272 917l-3 -3M271 919l-7 -4M264 915l5 -1M276 922l-4 -4M274 915l-2 2M269 926l2 -7M271 913l-2 1M264 915l0 0M360 946l1 0M360 940l4 1M361 946l3 -5M371 932l2 2M375 927l2 1M377 928l0 4M373 934l4 -2M382 941l-2 0M380 933l-1 1M380 941l-1 -7M381 928l-3 -1M378 927l-1 1M379 934l-2 -2M357 956l-5 -1M357 956l0 6M355 963l2 -1M355 963l-5 -4M352 955l-2 4M356 947l2 4M356 947l-5 3M358 951l1 3M359 954l-2 2M352 955l-1 -5M344 945l1 5M351 950l-6 0M354 973l2 0M353 969l2 1M355 970l1 3M351 968l3 -3M354 965l4 4M355 970l3 0M358 969l0 1M355 963l-1 2M357 962l2 0M359 962l0 6M358 969l1 -1M331 964l0 0M325 951l5 5M330 956l1 8M342 965l0 -2M342 963l-8 -1M331 964l3 -2M363 995l4 -1M363 995l5 4M367 994l3 6M366 990l1 4M366 990l-3 4M363 995l0 0M368 989l-1 0M367 989l-1 1M375 985l0 0M375 985l2 -2M388 982l-4 -1M388 987l-3 3M377 983l7 -2M393 979l-1 -8M392 971l8 -3M355 985l6 -2M367 989l-5 -6M362 983l-1 0M375 985l-8 -7M362 983l5 -5M374 976l-1 -7M374 976l-7 1M373 969l-6 7M367 976l0 1M354 977l2 -2M356 975l4 6M361 983l-1 -2M374 976l1 0M377 983l-2 -7M367 978l0 -1M383 994l1 2M385 1003l-1 -7M391 990l7 8M391 990l-2 7M392 999l-3 -2M397 999l1 -1M403 995l-5 3M391 990l0 0M384 996l5 1M384 948l-5 5M386 956l-6 0M380 956l-1 -3M380 967l1 0M380 967l-3 -5M388 962l-2 2M381 967l5 -3M380 956l-3 6M331 949l3 4M331 949l2 -3M333 946l5 3M338 949l2 4M334 953l5 2M340 953l-1 2M327 949l4 0M330 956l4 -3M333 945l0 1M339 945l-1 4M345 950l-2 2M343 952l-3 1M338 956l1 -1M338 956l-4 6M326 945l0 -1M318 944l4 -3M322 941l4 3M333 924l-8 -8M337 915l-5 -2M332 913l-7 3M319 924l14 1M333 925l0 -1M318 916l1 -1M319 915l6 1M347 907l-5 4M347 907l-5 -8M342 911l-2 -7M342 899l-2 5M350 907l-3 0M341 914l1 -3M348 893l-3 1M342 898l3 -4M342 898l0 1M338 914l-3 -8M335 906l5 -2M229 968l0 -1M229 960l3 2M232 962l-3 5M234 968l2 -1M236 973l1 -5M237 968l-1 -1M229 967l6 -1M236 967l-1 -1M232 962l2 0M234 962l1 2M235 966l0 -2M235 954l1 0M234 962l2 -2M236 954l0 6M244 948l0 1M244 949l-5 4M239 953l-2 1M236 954l1 0M237 968l7 -2M235 964l7 1M242 965l2 1M236 960l4 2M242 965l-2 -3M256 964l-10 0M246 972l-1 -6M246 964l-1 2M237 954l3 6M240 962l0 -2M239 953l3 5M240 960l2 -2M245 966l-1 0M247 955l1 0M247 955l-4 3M248 955l1 3M249 958l-3 6M243 958l3 6M244 949l3 6M242 958l1 0M256 959l0 -1M256 958l-7 0M246 964l0 0M256 958l-3 -5M256 958l4 -7M253 953l0 -3M253 950l4 -3M257 947l3 3M260 951l0 -1M256 958l0 0M248 955l5 -2M263 956l-3 -5M245 947l8 3M257 947l0 0M264 949l-4 1M393 885l-5 -1M393 885l-1 -5M392 880l-4 4M395 876l-2 1M393 888l0 -3M393 877l-1 3M387 873l-2 3M393 877l-5 1M385 876l3 2M386 885l0 0M386 885l-3 3M386 885l-1 -2M385 883l-4 -4M381 879l-4 10M383 888l-6 3M377 891l0 -2M392 889l-6 -4M388 884l-2 1M389 891l-6 -3M388 878l-3 5M377 892l0 -1M370 884l7 5M381 919l-9 -6M381 919l-1 0M380 919l-8 2M372 913l0 8M381 919l0 0M371 908l1 5M378 927l2 -8M372 922l0 -1M389 840l1 -1M393 837l0 0M393 837l-3 2M393 832l-1 0M393 837l-1 -5M375 848l-1 -3M377 843l-3 1M374 845l0 -1M367 855l1 1M367 855l2 -8M374 845l-5 2M358 824l5 4M369 824l0 2M369 826l-6 2M372 839l6 -5M372 839l-1 -6M371 833l2 -4M378 834l-1 -5M377 829l-2 0M373 829l2 0M383 839l0 -3M383 836l-5 -2M374 844l-2 -4M372 840l0 -1M386 829l-1 5M385 834l-2 2M380 826l-3 3M375 826l0 3M369 826l0 1M369 827l4 2M263 820l2 -3M263 820l-3 1M260 821l-2 -1M259 843l0 0M259 843l5 9M259 843l-2 6M257 849l5 3M264 852l-2 0M260 854l2 -2M260 854l-1 1M256 851l1 -2M251 843l0 0M251 843l-3 -2M242 848l2 0M251 843l-7 5M366 869l-5 -6M367 855l-5 1M361 863l1 -7M356 873l0 -9M356 873l-5 0M351 873l3 -10M356 864l-2 -1M359 875l-3 -2M361 863l-5 1M350 878l1 -5M351 873l0 0M297 888l0 -13M297 888l1 -1M298 887l5 -4M300 873l5 6M300 873l-3 2M297 875l0 0M303 883l2 -4M345 894l-4 -5M341 889l1 -5M347 881l-2 0M342 884l3 -3M341 889l-3 0M338 889l-5 -6M342 884l-8 -3M334 881l-1 2M338 889l-3 2M335 891l-6 -7M333 883l-4 1M304 914l0 -2M310 915l0 -7M310 908l-1 -1M304 912l1 -3M305 909l4 -2M305 909l-2 -3M308 904l1 3M308 904l-5 2M303 906l0 0M303 883l6 0M305 879l2 0M309 882l0 1M309 882l-2 -3M307 879l0 0M279 865l4 -3M279 865l-1 8M278 873l7 -6M283 862l2 5M272 872l6 2M271 871l0 -7M275 861l4 4M275 861l-1 0M274 861l-3 3M278 874l0 -1M270 886l7 -5M267 880l11 -3M278 877l-1 4M278 874l1 2M278 877l1 -1M279 889l-2 2M279 889l1 0M277 881l3 8M288 875l0 -7M288 875l5 0M293 875l-2 -8M291 867l-3 1M288 868l0 0M297 875l-4 -9M297 875l-4 0M293 866l-2 1M283 896l-2 2M283 896l-2 -2M281 894l-4 2M281 898l-4 0M277 898l0 -2M284 896l-1 0M282 904l2 -1M282 904l-1 -6M285 902l-1 1M279 889l2 5M277 896l0 0M280 906l2 -2M277 898l0 0M267 862l5 -5M267 862l-1 0M266 862l-1 -3M265 859l1 -4M266 855l1 -1M267 854l1 0M268 854l4 2M272 856l0 1M274 861l-2 -4M271 864l-4 -2M263 869l3 -7M264 859l1 0M260 854l6 1M264 852l3 2M275 861l3 -2M278 859l-2 -5M276 854l-4 2M358 951l6 1M361 946l2 1M363 947l1 5M361 955l-2 -1M361 955l3 -2M364 953l0 -1M363 935l0 0M367 931l-2 3M365 934l-2 1M359 938l4 -2M363 936l0 -1M350 959l0 0M343 952l3 4M350 959l-4 -3M367 966l-2 7M367 966l0 -4M367 962l-3 0M364 962l-2 0M362 962l-1 5M365 973l0 0M365 973l-4 -5M361 968l0 -1M373 969l0 0M373 969l-6 -3M367 976l-2 -3M380 967l-7 2M377 962l-8 -2M369 960l-2 2M361 955l3 7M359 962l3 0M359 968l2 -1M358 970l0 0M358 970l3 -2M380 970l-4 6M380 970l3 10M383 980l-7 -4M375 976l1 0M381 968l0 -1M381 968l-1 2M390 981l-6 -11M384 981l-1 -1M381 968l3 2M360 972l-2 2M360 972l0 0M360 972l0 9M360 981l-3 -7M357 974l1 0M356 973l2 1M358 970l2 2M365 973l-5 -1M360 981l0 0M356 975l1 -1M391 970l3 -5M391 970l0 0M391 970l-1 -3M390 967l2 -5M392 962l2 3M392 971l-1 -1M400 968l-6 -3M384 970l7 0M386 964l4 3M392 961l0 1M379 953l-1 -1M369 960l0 -5M378 952l-9 3M363 947l5 0M368 947l1 4M364 953l5 2M369 951l0 4M369 955l0 0M336 938l-3 -5M330 940l0 0M333 933l-3 7M340 934l-7 -5M333 933l0 -4M326 944l3 -4M330 940l-1 0M333 925l0 4M333 929l0 0M383 876l-2 2M383 876l0 -4M383 872l-2 -2M381 870l-4 5M381 878l-3 -1M377 875l1 2M385 876l-2 0M381 879l0 -1M386 871l-3 1M380 869l1 1M374 872l3 3M371 881l7 -4M388 835l2 4M388 835l2 0M390 835l0 4M385 834l3 1M390 839l0 0M392 832l-2 3M359 839l0 1M359 839l4 -1M363 838l4 9M359 840l0 7M367 847l-7 1M360 848l-1 -1M350 842l9 -2M350 842l-3 -4M347 838l1 -2M356 834l3 5M363 837l0 1M363 837l1 -3M363 828l1 6M372 840l-9 -3M369 847l-2 0M362 856l-2 -2M360 854l0 -6M371 832l-2 -3M371 832l-4 0M367 832l2 -3M369 827l0 2M371 833l0 -1M364 834l3 -2M264 835l2 0M264 835l0 -3M266 835l-1 -3M265 832l-1 0M264 832l0 0M242 829l7 -1M245 836l6 -4M249 828l2 4M251 846l-3 3M251 846l2 5M248 849l2 3M253 851l-3 1M251 843l0 3M244 848l4 1M259 843l-6 -1M259 843l0 0M256 851l-3 0M253 842l-2 1M249 855l1 -3M360 854l-5 1M354 863l-1 0M353 863l2 -8M329 834l1 -3M329 834l4 1M333 835l5 -2M330 831l8 2M346 822l-9 0M333 818l4 4M346 828l-9 -5M337 823l0 -1M329 834l-3 6M333 839l0 -4M333 839l-7 3M326 840l0 2M273 816l0 6M263 820l6 3M269 823l3 0M273 822l-1 1M273 822l11 2M301 817l-1 6M300 823l-2 3M284 824l0 1M284 825l9 4M298 826l-5 3M276 854l1 -2M277 852l-2 -4M275 848l-3 0M268 854l2 -6M270 848l2 0M259 843l10 4M270 848l-1 -1M332 913l-4 -6M319 915l1 -1M328 907l-8 7M335 906l-3 -3M332 903l-4 4M328 907l0 0M316 877l1 6M316 877l-7 5M317 883l-1 8M309 883l2 7M316 891l-5 -1M298 887l11 4M309 891l2 -1M299 897l0 4M299 897l7 1M302 902l-3 -1M302 902l5 -2M306 898l1 2M308 904l0 -3M302 902l1 4M308 901l-1 -1M342 898l-8 0M332 903l0 0M334 898l-2 5M334 867l-1 1M334 867l4 -1M338 870l0 -4M338 870l-4 1M333 868l1 3M300 910l-1 -3M300 910l-6 4M299 907l-2 -2M297 905l-5 1M294 914l-3 -4M291 910l0 -3M292 906l-1 1M304 912l-4 -2M303 906l-4 1M296 921l-2 -7M299 901l-2 4M284 913l7 -3M284 903l7 4M291 898l1 8M300 873l3 -3M293 866l1 -3M294 863l5 0M303 870l-4 -7M278 859l2 0M283 862l0 0M280 859l3 3M279 876l4 1M280 889l3 0M283 877l0 12M373 934l-2 3M380 941l-3 1M377 942l-6 -5M365 934l5 3M371 937l-1 0M344 961l6 -2M344 961l-1 0M343 961l0 1M343 962l4 3M350 959l-3 6M347 965l0 0M350 959l0 0M346 956l-2 5M338 956l5 5M342 963l1 -1M342 966l5 -1M349 968l-2 -3M322 941l1 -2M329 940l-2 -3M327 937l-4 2M323 939l0 0M314 938l2 -1M323 939l-7 -2M318 926l2 2M320 928l-2 8M316 937l2 -1M321 930l1 3M321 930l9 1M322 933l5 2M330 931l-3 4M320 928l1 2M333 929l-3 2M327 937l0 -2M264 827l4 1M264 827l-2 -1M262 826l2 5M268 828l-4 3M269 823l-5 4M272 824l0 -1M272 824l-1 1M271 825l-3 3M268 828l0 0M260 821l1 5M261 826l1 0M265 832l4 0M264 832l0 -1M268 828l1 4M244 822l5 5M244 822l7 -3M249 827l4 -4M251 820l2 1M253 821l0 2M242 822l2 0M249 828l0 -1M258 820l-5 1M329 826l0 2M329 826l-5 0M329 828l-8 6M324 826l-4 3M320 829l1 5M322 824l2 2M333 818l-4 8M330 831l-1 -3M321 835l5 5M321 835l0 -1M319 826l0 3M319 829l1 0M338 832l0 1M338 832l5 -1M338 833l1 6M343 831l1 8M344 839l-3 1M341 840l-2 -1M339 839l0 0M338 833l0 0M337 823l1 9M346 830l-3 1M333 839l6 0M347 838l-3 1M334 848l5 -9M334 848l-5 -1M329 847l-3 -5M326 842l0 0M334 848l5 4M339 852l-1 5M329 847l-2 3M338 857l-6 0M327 850l5 7M327 850l0 1M326 858l-1 -2M326 858l3 1M332 857l-3 2M325 856l2 -5M339 852l1 0M341 840l1 2M340 852l2 -10M341 852l7 2M341 852l7 10M348 854l1 8M348 862l1 0M353 863l-4 -1M355 855l-5 -3M350 852l-2 2M351 849l0 3M351 849l-2 -3M351 852l-7 -4M349 846l-2 0M347 846l-3 2M359 847l-8 2M350 852l1 0M350 842l-1 4M340 852l4 -4M340 852l1 0M342 842l5 4M340 852l0 0M312 842l4 -6M312 842l5 2M321 835l-5 1M326 842l-3 2M317 844l6 0M327 851l-8 0M323 844l-4 7M305 837l3 3M305 837l4 -6M308 840l4 -9M309 831l1 -2M310 829l1 0M311 829l0 1M311 830l1 1M314 822l-3 7M300 823l10 6M319 829l-8 1M316 836l-4 -5M283 828l-7 5M283 828l2 8M285 836l-2 1M283 837l-7 -2M276 835l0 -2M284 825l-1 3M272 824l4 9M305 837l-2 0M309 831l-9 0M303 837l-3 -6M298 826l2 5M300 831l0 0M293 829l-1 5M300 831l-4 7M292 834l4 4M261 840l0 0M261 840l6 -1M261 840l1 -2M262 838l2 -3M266 835l4 1M267 839l3 -3M259 843l2 -3M269 847l1 -4M267 839l3 4M271 825l1 10M269 832l2 3M272 835l-1 0M276 835l-1 1M272 835l3 1M270 836l1 -1M272 848l1 -4M270 843l4 -4M273 844l1 -5M275 836l0 1M275 837l-1 2M275 848l2 -1M277 847l-1 -7M273 844l3 -5M276 840l0 -1M275 837l0 1M275 838l1 1M310 908l6 -2M308 901l5 0M316 906l-3 -5M320 914l-3 -8M316 906l1 0M328 907l-6 -5M317 906l5 -4M316 891l1 1M309 891l-3 7M313 901l4 -9M335 891l-2 4M329 884l0 0M329 884l-3 5M333 895l-7 -6M334 898l-1 -2M333 895l0 1M351 873l-3 -1M348 872l-4 2M345 881l0 -1M344 874l1 6M347 870l-5 0M347 870l-1 -7M342 870l-2 -6M346 863l-5 0M341 863l-1 1M348 872l-1 -2M341 873l3 1M341 873l1 -3M348 862l-2 1M338 870l1 3M338 866l2 -2M341 873l-2 0M338 858l0 -1M338 858l3 5M334 872l-2 2M334 872l5 2M332 874l4 4M336 878l2 -1M339 874l-1 3M334 871l0 1M339 873l0 1M334 881l2 -3M345 880l-7 -3M328 883l1 1M328 883l-4 -9M332 874l-1 -1M324 874l7 -1M333 868l-3 0M331 873l-1 -5M336 860l-5 1M336 860l-4 4M331 861l0 3M332 864l-1 0M338 858l-2 2M329 859l2 2M334 867l-2 -3M277 852l5 2M280 859l1 -2M282 854l-1 3M283 862l5 -2M281 857l7 3M288 868l1 -9M294 863l-3 -5M291 858l-2 1M285 867l3 1M289 859l-1 1M288 889l-3 -12M288 889l4 3M292 892l2 -1M285 877l0 0M285 877l11 11M296 888l-2 3M283 877l2 0M283 889l5 0M291 892l1 0M299 897l-5 -6M288 875l-3 2M297 888l-1 0M377 942l-7 2M377 942l-1 7M370 944l4 5M376 949l-2 0M378 952l-2 -3M377 942l0 0M369 951l5 -2M369 945l-5 -4M369 945l1 -1M370 944l-1 -5M369 939l-5 1M364 941l0 -1M364 941l0 0M368 947l1 -2M370 944l0 0M370 937l-1 2M363 936l1 4M322 934l1 5M322 934l-3 2M319 936l4 3M323 939l0 0M322 933l0 1M318 936l1 0M259 828l2 4M259 828l0 0M259 828l-1 3M258 831l0 3M258 834l3 -2M261 832l0 0M261 826l-2 2M264 832l-3 0M261 840l-4 -5M262 838l-1 -6M257 835l1 -1M256 828l-4 5M256 828l0 0M256 828l0 3M256 831l-4 2M252 833l0 0M252 833l0 0M251 832l1 1M253 823l3 5M259 828l-3 0M258 831l-2 0M257 835l-5 -2M253 842l-1 -9M308 840l1 1M303 837l-4 2M299 839l5 6M309 841l-5 4M285 836l4 0M292 834l-2 2M289 836l1 0M298 840l-2 -2M298 840l-2 6M296 838l-5 4M296 846l-3 5M291 842l-2 7M293 851l-2 0M291 851l-1 0M290 851l-1 -2M299 839l-1 1M296 838l0 0M304 845l0 0M304 845l-8 1M290 836l1 6M289 836l-3 10M286 846l3 3M282 854l8 -3M291 858l0 -7M279 841l4 -1M279 841l2 5M285 846l-2 -6M285 846l-4 0M283 840l0 0M276 840l3 1M275 838l8 2M277 847l4 -1M283 837l0 3M286 846l-1 0M318 892l4 7M318 892l7 -2M325 890l2 7M327 897l-3 2M324 899l-2 0M322 902l0 -3M317 892l1 0M317 883l11 0M326 889l-1 1M333 896l-6 1M332 903l-8 -4M325 865l3 -2M325 865l-4 7M321 872l6 -4M327 868l3 -4M330 864l-2 -1M325 861l1 -1M325 861l0 4M326 860l2 3M324 874l-3 -2M321 872l0 0M330 868l-3 0M331 864l-1 0M326 860l0 -2M307 879l9 -7M307 879l2 -10M316 872l-7 -3M316 877l1 -5M316 872l1 0M321 872l-3 0M317 872l1 0M303 870l6 -1M309 869l0 0M299 863l4 -6M309 867l0 2M309 867l-5 -9M303 857l1 1M293 851l9 3M303 857l-1 -3M312 842l0 0M309 841l1 1M312 842l-2 0M325 861l-6 2M325 856l-6 0M319 863l0 -7M318 872l1 -8M319 863l0 1M304 845l0 3M308 848l2 -6M308 848l0 0M304 848l4 0M302 854l0 -1M304 848l-2 5M308 848l2 1M308 848l0 3M310 849l-2 2M302 853l5 -1M308 851l-1 1M319 851l-1 0M319 856l-2 -1M317 855l1 -4M317 844l0 5M317 849l1 2M309 867l2 -5M304 858l7 -1M311 857l0 5M319 864l-5 -4M311 862l3 -2M317 855l0 0M314 860l3 -5M312 842l1 5M310 849l0 0M310 849l3 -2M317 849l-4 -1M313 847l0 1M315 855l-3 0M315 855l-2 -4M313 851l-2 -1M312 855l-3 -3M309 852l2 -2M311 857l1 -2M317 855l-2 0M313 848l0 3M310 849l1 1M307 852l2 0" stroke="#da8ed0" stroke-width="1.24" fill="none"/><circle cx="173.3" cy="439.5" r="7.7" fill="#b46cb8" opacity="0.42"/><circle cx="121.4" cy="461.2" r="7.7" fill="#b46cb8" opacity="0.42"/><path d="M111.5,412.1 L119,412.1 C121,415.5 122.5,418.5 124.6,421.6 C127,425 129.5,428 132.1,430.6 C133.5,432.5 135,434 135.9,435.9 C135,437.5 134.5,439 134.4,441.1 C134.3,443 134.4,445 134.6,447.2 C135.2,450.5 136,453.5 136.6,456.2 C135.8,458.5 134.8,460.5 133.6,462.2 C132,465 130.5,468 129.1,471.3 C127.8,474.5 126.5,477.5 125.3,480.3 C124.5,481 123.8,481.5 123.1,481.8 C122.9,480.5 122.9,479.6 123.1,478.8 C123.5,476 124,473.5 124.6,471.3 C125.5,468 126.5,465 127.6,462.2 C129,460 130.5,458 132.1,456.2 C131.8,454 131.6,452 131.3,450.2 C130.6,448 130,446 129.1,444.1 C127.5,442 125.5,440 123.1,438.1 C120.5,436 118,434 115.5,432.1 C113.8,430 112.3,428 111.5,426 Z" fill="#f6f4f2"/><path d="M134.4,425.5 C141,424.2 149,423 156.2,422.3 C149,423.8 141,425.3 134.6,427 Z" fill="#f6f4f2"/><path d="M193.5,412.1 L197.7,412.1 L197.7,497.5 L194.2,497.5 C194.6,480 194.9,460 194.6,440 C194.3,428 194,420 193.5,412.1 Z" fill="#f6f4f2"/><path d="M175,468 C178,474 182,480 185,486 L183.5,487 C180.5,481 177.5,474 175,468 Z" fill="#f6f4f2"/><path d="M157,452 C160,451 163,451.5 164,453 C161,454.5 158,454 157,452 Z" fill="#f6f4f2"/><path d="M142,442 C143.5,440.5 145.5,441 145.5,443 C145,445 142.5,445 142,442 Z" fill="#f6f4f2"/></g><circle cx="173.3" cy="439.5" r="8.5" fill="none" stroke="#111" stroke-width="1.5" stroke-dasharray="1.3 1.3"/><circle cx="121.4" cy="461.2" r="8.5" fill="none" stroke="#111" stroke-width="1.5" stroke-dasharray="1.3 1.3"/></g><rect x="200.0" y="412.1" width="85.60000000000002" height="85.39999999999998" fill="url(#photoBg)"/><path d="M212.2,444.3 C214,440 217,437.5 220.2,436.2 C225,434.5 230,433.5 234.3,433.2 C236,431.5 238,430 239.3,429.2 C241,428.4 242.5,428 243.3,428.2 C244,430 244,432.5 244.3,434.2 C246,436 247.5,437.5 249.3,438.2 C253,439 257,439.5 260.4,440.3 C264,443 266,446.5 266.4,450.3 C266.5,455 265,459 263.4,462.4 C261,467 258,470 254.4,472.4 C250,475 245,477 240.3,478.4 C236,480 233,481 230.3,481.5 C226,480.5 223,478.5 220.2,476.4 C217,473 214.5,470 213.2,466.4 C212,462 211.8,458 212.2,454.3 C212,450 212,447 212.2,444.3 Z" fill="url(#lg2)"/><circle cx="242.9" cy="441.3" r="4.4" fill="#e8c8c0" fill-opacity="0.3" stroke="#f2eeee" stroke-width="0.8"/><circle cx="243.3" cy="457.9" r="4.4" fill="#e8c8c0" fill-opacity="0.3" stroke="#f2eeee" stroke-width="0.8"/><text transform="translate(16.4,455.6) rotate(-90)" font-size="14.5" text-anchor="middle" fill="#111">G3</text><rect x="23.1" y="500.5" width="86.1" height="85.29999999999995" fill="#707175"/><line x1="23.1" y1="515.4" x2="109.2" y2="515.4" stroke="#4e4e51" stroke-width="0.9"/><line x1="23.1" y1="525.9" x2="109.2" y2="525.9" stroke="#4e4e51" stroke-width="0.9"/><line x1="23.1" y1="560.4" x2="109.2" y2="560.4" stroke="#4e4e51" stroke-width="0.9"/><line x1="23.1" y1="570.4" x2="109.2" y2="570.4" stroke="#4e4e51" stroke-width="0.9"/><path d="M40.9,515.8 L50.099999999999994,515.8 L50.7,520.4 L38.9,520.8 L40.1,517.4 Z" fill="none" stroke="#3c3c3e" stroke-width="0.6"/><path d="M79.2,520.1 L90.0,520.4 L90.60000000000001,525.3000000000001 L83.8,524.3000000000001 L83.4,521.9 Z" fill="none" stroke="#3c3c3e" stroke-width="0.6"/><path d="M40.9,560.4 L50.099999999999994,560.4 L50.7,565.0 L38.9,565.4 L40.1,562.0 Z" fill="none" stroke="#3c3c3e" stroke-width="0.6"/><path d="M79.2,564.5 L90.0,564.8 L90.60000000000001,569.7 L83.8,568.7 L83.4,566.3 Z" fill="none" stroke="#3c3c3e" stroke-width="0.6"/><path d="M41,560 L45,559" stroke="#e05050" stroke-width="1"/><g clip-path="url(#clipH3)"><g filter="url(#blurH)"><rect x="111.5" y="500.5" width="86.19999999999999" height="85.29999999999995" fill="#f5e6f2"/><path transform="scale(0.5)" d="M246 1113l-2 2M246 1113l-1 -6M245 1107l-1 1M244 1108l-6 5M238 1113l6 2M236 1113l2 -7M236 1113l2 0M238 1106l6 2M397 997l1 4M398 1001l8 -1M328 1066l-3 2M328 1066l-7 -5M325 1068l-5 -2M320 1066l0 -4M321 1061l-1 1M323 1057l5 1M323 1057l-2 4M328 1058l3 5M328 1066l2 -1M331 1063l-1 2M406 1114l-9 2M401 1125l-4 -9M366 1095l4 -1M366 1095l3 -5M370 1094l2 -5M369 1090l3 -1M373 1089l-1 0M373 1089l2 1M370 1094l2 2M372 1096l3 -6M399 1164l4 -1M399 1164l-3 4M400 1170l-4 -2M397 1156l-2 0M397 1156l2 8M395 1156l-5 2M396 1168l-2 1M394 1169l-4 -11M382 1175l3 0M382 1175l2 -8M384 1167l1 8M389 1177l4 -6M397 1176l-4 -5M394 1169l-10 -2M394 1169l-1 2M384 1167l0 0M385 1175l4 2M394 1169l0 0M228 1063l-2 5M228 1063l-14 -3M226 1068l-3 1M223 1069l-7 -2M226 1068l2 3M223 1069l-1 8M229 1074l-1 -3M229 1074l-4 4M225 1078l-3 -1M231 999l-4 -4M231 999l0 8M222 1003l4 -7M222 1003l4 3M231 1007l-5 -1M240 997l-9 2M246 1001l-5 -2M246 1001l-1 7M241 999l-3 8M245 1008l-7 -1M305 1004l6 0M305 1004l-2 -2M309 997l-6 5M309 997l3 2M311 1004l1 -5M305 1004l1 8M306 1012l2 0M313 1005l-2 -1M313 1005l-2 6M311 1011l-3 1M331 1075l1 -3M331 1075l-7 -3M324 1072l1 -1M325 1071l7 0M332 1071l0 1M325 1068l0 3M330 1065l2 6M328 1058l3 -5M331 1053l6 4M331 1063l5 0M336 1063l1 -6M338 1065l-1 -1M338 1065l0 4M332 1072l3 0M336 1063l1 1M338 1069l-3 3M363 1072l0 -7M363 1072l-5 1M355 1070l3 3M355 1070l-1 -3M354 1067l9 -2M246 1106l-1 1M246 1106l0 0M238 1106l0 -3M238 1103l3 -5M246 1106l-5 -8M226 1118l-2 -10M226 1118l7 -2M233 1116l1 -1M234 1115l-4 -5M230 1110l-6 -2M225 1118l-3 0M225 1118l1 0M222 1118l-1 0M221 1118l2 -10M223 1108l1 0M236 1113l-2 2M238 1103l-5 1M233 1104l-3 6M220 1174l-6 -5M314 1061l-1 2M314 1061l6 1M320 1066l-2 2M318 1068l-5 -5M323 1073l-5 -4M323 1073l1 -1M318 1068l0 1M323 1073l0 2M323 1075l-9 0M314 1075l2 -5M318 1069l-2 1M325 1086l0 0M325 1086l2 -3M327 1083l0 -3M321 1087l4 -1M321 1087l0 -9M327 1080l-4 -4M323 1076l-2 2M331 1075l0 2M331 1077l-4 3M323 1075l0 1M313 1082l1 0M313 1082l1 -7M314 1082l7 -4M314 1075l0 0M378 1171l-4 4M378 1171l4 4M374 1175l5 5M382 1175l-3 5M382 1175l0 0M397 1156l0 0M400 1155l-3 1M402 1146l-3 2M400 1155l-1 -7M395 1156l-1 -3M397 1156l1 -8M394 1153l4 -5M399 1148l-1 0M398 1148l0 0M398 1148l0 0M276 1065l0 -6M276 1065l8 -4M284 1061l-8 -2M285 1056l0 4M285 1056l-3 -4M285 1060l-1 1M273 1056l9 -4M273 1056l3 3M232 1081l1 -4M232 1081l-5 3M227 1080l0 4M227 1080l5 -3M232 1077l1 0M227 1084l0 0M229 1074l3 3M225 1078l2 2M236 1071l-8 0M236 1071l-2 6M234 1077l-1 0M220 1077l1 4M220 1077l-2 0M207 1082l13 0M220 1082l1 -1M222 1077l-2 0M225 1084l2 0M225 1084l-4 -3M220 1082l-1 7M225 1084l-5 5M219 1089l1 0M255 1107l2 2M255 1107l-8 6M257 1109l-6 8M247 1113l4 4M246 1106l8 -2M246 1113l1 0M254 1104l1 3M244 1123l0 -1M244 1123l7 -5M244 1122l0 -7M251 1118l0 -1M222 1003l-7 1M226 1006l-5 6M221 1012l-6 -8M246 1001l5 -1M241 999l-1 -2M241 990l12 8M251 1000l2 -2M253 998l1 -2M231 1007l2 2M221 1012l0 3M221 1015l11 -2M233 1009l-1 4M238 1007l-3 1M233 1009l2 -1M205 1003l15 14M215 1023l5 -6M221 1015l0 1M220 1017l1 -1M397 1052l3 -3M397 1052l-4 -4M393 1048l6 -1M400 1049l-1 -2M389 1047l4 1M389 1047l0 9M396 1054l-7 2M396 1054l1 -2M314 1082l2 3M321 1087l-1 1M316 1085l4 3M316 1085l-7 7M320 1088l0 0M320 1088l-10 8M310 1096l-1 -1M309 1095l0 -3M281 1041l0 6M281 1041l-9 -4M280 1047l1 0M280 1047l-10 -3M272 1037l-2 7M282 1040l-1 1M282 1040l-1 -5M272 1037l-1 -2M271 1035l3 -4M281 1035l-7 -4M400 1099l-4 3M409 1101l-12 2M396 1102l1 1M426 1106l-28 0M398 1106l0 0M398 1106l-1 -3M373 1089l-3 -10M370 1079l5 -3M375 1090l3 1M378 1091l1 -1M379 1090l0 -3M379 1087l-4 -11M399 1086l-4 -1M399 1086l-1 -9M395 1085l0 -6M395 1079l3 -2M398 1077l0 0M400 1087l-1 -1M389 1088l0 0M389 1088l9 4M389 1088l6 -3M401 1090l-3 2M401 1079l-3 -2M398 1073l0 4M398 1073l-6 -3M389 1076l2 3M389 1076l1 -3M391 1079l4 0M390 1073l2 -3M398 1073l4 -3M320 997l-1 1M320 997l-1 -5M309 997l0 -2M319 998l-7 1M322 999l-2 -2M322 999l5 1M327 1000l4 -5M313 1005l2 0M319 998l-2 6M315 1005l2 -1M322 999l1 9M317 1004l6 4M326 1021l1 -2M326 1021l-5 -1M327 1019l-3 -7M324 1012l-2 0M321 1020l1 -8M311 1011l8 2M315 1005l5 8M319 1013l1 0M323 1008l1 3M324 1011l0 1M320 1013l2 -1M285 1056l3 -1M285 1060l1 3M286 1063l6 -2M288 1055l4 2M292 1061l0 -4M302 1077l0 -4M302 1077l8 5M302 1073l0 -1M310 1082l3 0M314 1075l-7 -3M307 1072l-5 0M290 1072l-1 -3M290 1072l5 2M289 1069l4 -2M293 1067l8 0M302 1073l-7 1M302 1072l-1 -5M323 1057l-1 -1M331 1053l1 -3M332 1050l-3 -2M322 1054l7 -6M322 1054l0 2M322 1056l0 0M324 1041l2 -2M324 1041l2 4M326 1039l8 1M332 1050l5 -3M326 1045l3 3M334 1040l3 7M348 1065l-2 1M348 1065l5 2M346 1066l0 7M354 1067l-1 0M354 1067l-4 6M350 1073l-4 0M355 1070l-2 5M354 1067l0 0M350 1073l3 2M338 1065l8 1M338 1069l6 6M346 1073l-2 2M221 1123l3 2M221 1123l1 -5M225 1118l1 4M224 1125l2 -3M212 1135l7 -11M212 1135l14 -7M219 1124l2 -1M224 1125l2 3M225 1136l-9 0M225 1136l2 -7M227 1129l-1 -1M230 1141l-3 -5M230 1141l4 -1M234 1140l-2 -7M227 1136l1 0M228 1136l4 -3M232 1133l0 0M225 1136l2 0M216 1136l10 9M226 1145l4 -4M226 1145l0 2M235 1150l-9 -3M235 1150l2 -5M237 1145l0 -4M237 1141l-3 -1M229 1131l3 2M229 1131l-1 5M217 1112l2 5M219 1117l-5 2M221 1118l-2 -1M217 1111l3 -6M220 1105l3 3M219 1124l-5 -5M238 1154l-1 7M238 1154l-1 0M237 1161l-1 -1M236 1160l-1 -3M235 1157l2 -3M238 1154l2 1M235 1150l1 3M240 1155l4 -7M244 1148l0 0M237 1145l7 3M237 1154l-1 -1M235 1172l-9 12M235 1172l0 1M237 1185l-2 -12M247 1178l-4 -3M243 1175l-3 2M235 1173l5 4M220 1174l1 1M219 1164l0 0M219 1164l7 3M226 1167l-5 8M221 1175l3 4M320 1088l0 8M310 1096l3 3M313 1099l7 -3M364 1081l3 8M364 1081l0 0M364 1081l-3 9M367 1089l-5 3M362 1092l-1 -2M370 1079l-4 0M366 1079l-2 2M369 1090l-2 -1M390 1158l-2 0M394 1153l-2 -3M392 1150l-6 5M388 1158l-2 -3M323 1155l-6 -3M323 1155l-2 9M317 1152l3 11M321 1164l-1 -1M244 1148l3 2M247 1150l3 -3M244 1148l3 -7M250 1147l-3 -6M251 1193l8 -19M249 1179l3 -6M259 1174l-7 -1M403 1133l-4 -2M402 1137l-3 -6M399 1131l0 0M402 1126l-3 5M398 1148l-4 -5M398 1148l-7 0M394 1143l-3 5M392 1150l-1 -2M386 1155l-3 -4M383 1151l4 -2M387 1149l3 -1M390 1148l1 0M391 1148l0 0M389 1088l-3 4M398 1092l-3 4M386 1092l1 1M387 1093l8 3M400 1099l-5 -2M395 1096l0 1M252 1062l2 1M252 1062l0 -2M254 1063l2 -3M256 1060l-4 0M245 1060l0 1M245 1060l4 -2M245 1061l5 3M250 1064l2 -2M249 1058l3 2M256 1060l2 -3M258 1057l-5 -2M249 1058l2 -4M251 1054l2 1M250 1064l1 5M254 1063l2 4M256 1067l-3 2M253 1069l-2 0M235 1065l3 -8M235 1065l0 0M235 1065l8 -2M238 1057l7 4M245 1061l-2 2M229 1063l6 2M229 1063l-1 0M236 1071l1 0M237 1071l-2 -6M237 1071l8 1M245 1072l0 0M245 1072l-2 -9M245 1061l0 0M245 1072l4 -1M249 1071l2 -2M232 1081l4 3M227 1084l1 1M228 1085l6 3M236 1084l-2 4M228 1085l-1 3M234 1088l0 3M234 1091l-6 0M228 1091l-1 -3M258 1099l2 0M258 1099l-3 3M255 1102l-1 2M257 1109l3 3M260 1112l5 -2M265 1110l0 -1M260 1099l5 10M260 1112l0 1M265 1110l5 1M270 1111l-2 5M260 1113l8 3M269 1082l-3 -5M269 1082l-6 1M263 1083l-1 -1M262 1082l3 -5M266 1077l-1 0M269 1082l1 0M270 1082l0 -5M270 1077l-1 -2M266 1077l3 -2M260 1012l4 -4M260 1012l5 6M264 1008l4 6M265 1018l3 -4M268 1014l0 0M251 1000l2 4M262 998l0 0M262 998l0 3M253 1004l9 -3M255 995l7 3M273 1002l-6 5M273 1002l0 -4M271 998l2 0M271 998l-7 9M267 1007l-3 0M264 1007l0 0M275 1007l-2 -5M275 1007l-2 2M273 1009l-2 0M271 1009l-4 -2M279 1008l-1 -10M279 1008l-4 -1M278 998l-2 -4M276 994l-3 4M262 998l9 0M262 1004l0 -3M262 1004l2 3M264 1008l0 -1M271 1009l-3 5M232 1013l0 1M221 1016l6 5M227 1021l3 -3M230 1018l2 -4M216 1024l12 -1M216 1024l5 7M221 1031l0 0M221 1031l6 -3M227 1028l1 -4M228 1023l0 1M227 1021l1 2M212 1038l9 -7M218 1040l5 -3M223 1035l-2 -4M223 1035l0 1M223 1036l0 1M223 1035l9 -3M232 1032l-5 -4M260 1012l-2 0M262 1004l-8 2M258 1012l-4 -6M245 1008l1 2M246 1010l3 0M253 1004l1 2M249 1010l5 -4M254 1006l0 0M401 1059l-3 -4M398 1055l4 -4M396 1054l2 1M388 1057l0 8M388 1057l1 0M389 1057l7 5M396 1062l-2 5M388 1065l4 4M394 1067l-2 2M381 1056l3 -14M381 1056l2 1M384 1042l2 -1M389 1047l-3 -6M383 1057l5 0M389 1056l0 1M399 1061l-3 1M401 1067l-7 0M392 1070l0 -1M386 1041l0 -1M386 1040l5 -1M399 1047l1 -3M400 1044l-9 -5M398 1035l2 0M398 1035l-2 -7M396 1028l1 0M397 1028l3 -1M395 1036l-4 3M395 1036l3 -1M398 1024l2 3M398 1024l-1 4M383 1057l-2 6M381 1063l0 0M388 1065l-3 2M381 1063l4 4M327 1019l5 -1M324 1011l4 -1M332 1018l-4 -8M327 1000l2 3M329 1003l-1 6M328 1010l0 -1M347 995l5 3M355 995l-3 3M265 1077l-2 -3M263 1074l4 -2M269 1075l-1 -3M267 1072l1 0M310 1082l-3 3M309 1092l-2 -3M307 1085l0 4M335 1106l-4 -2M335 1106l2 7M331 1104l0 11M337 1113l-6 2M384 1083l-3 -5M384 1083l4 1M388 1084l0 -1M388 1083l-2 -6M386 1077l-5 1M389 1088l-1 -4M386 1092l-7 -2M379 1087l5 -4M391 1079l-3 4M389 1076l-3 1M301 1001l0 -5M301 1001l2 1M296 1003l-3 -3M296 1003l5 -2M293 1000l0 -1M293 999l3 -9M306 1023l0 -4M306 1023l-7 0M306 1019l-1 -3M299 1023l-1 -4M298 1019l3 -2M305 1016l-4 1M281 1035l1 -1M282 1034l-3 -7M274 1031l1 -2M279 1027l-4 2M265 1021l1 3M265 1021l0 -1M266 1024l7 2M265 1020l2 0M267 1020l7 1M273 1026l1 -5M291 1053l-3 2M291 1053l2 -7M282 1052l0 -4M282 1048l10 -3M293 1046l-1 -1M282 1040l5 -3M282 1048l-1 -1M287 1037l5 6M292 1045l0 -2M317 1038l-2 -6M317 1038l4 -8M321 1030l-5 -1M315 1032l1 -3M321 1030l3 -1M324 1029l1 -3M325 1026l-5 -1M316 1029l0 -3M320 1025l-4 1M326 1021l0 4M321 1020l-2 1M326 1025l-1 1M320 1025l-1 -4M293 1067l3 -5M301 1067l0 0M301 1067l-2 -5M299 1062l-3 0M288 1068l1 1M288 1068l-1 -1M287 1067l8 -5M296 1062l-1 0M287 1067l-1 -4M292 1061l2 1M295 1062l-1 0M292 1057l1 0M294 1062l-1 -5M316 1070l-3 -4M307 1072l2 -4M309 1068l4 -2M313 1063l0 0M313 1066l0 -3M306 1063l-1 1M306 1063l3 1M305 1064l4 3M309 1064l0 3M301 1067l4 -3M309 1068l0 -1M313 1063l-4 1M335 1072l3 4M344 1075l0 0M344 1075l-6 1M331 1077l5 2M338 1076l-2 3M327 1083l10 0M336 1079l1 4M351 1086l2 3M351 1086l1 -3M352 1083l8 -2M354 1089l6 -8M354 1089l-1 0M360 1081l0 0M345 1078l-2 7M345 1078l6 2M343 1085l8 1M351 1080l1 3M364 1081l-4 0M361 1090l-7 -1M328 1091l-3 -5M328 1091l4 1M325 1086l12 3M332 1092l4 -2M337 1089l-1 1M337 1083l2 3M337 1089l2 -3M345 1078l-1 -3M343 1085l-2 1M339 1086l2 0M228 1129l6 -2M228 1129l-1 0M227 1129l3 -7M234 1127l3 -3M237 1124l-3 -4M234 1120l-4 2M229 1131l-1 -2M233 1133l-1 0M233 1133l1 -6M227 1129l0 0M226 1122l4 0M244 1122l-6 3M238 1125l-1 -1M233 1116l1 4M233 1133l6 -1M237 1141l1 -1M238 1140l1 -8M238 1125l2 6M240 1131l-1 1M230 1161l-2 -6M230 1161l-10 -1M228 1155l-5 -4M220 1160l0 -5M220 1155l0 -2M220 1153l3 -2M230 1162l0 -1M230 1162l5 -5M236 1153l-8 2M226 1147l-3 4M215 1159l5 -4M219 1164l1 -4M231 1169l-1 -2M231 1169l4 2M230 1167l0 -3M236 1171l-1 0M236 1171l5 -8M241 1163l-1 0M240 1163l-7 0M230 1164l3 -1M226 1167l4 0M224 1179l7 -10M235 1172l0 -1M230 1162l0 2M243 1171l-7 0M243 1171l0 4M242 1163l-1 0M242 1163l1 8M243 1171l0 0M242 1163l0 -1M237 1161l3 2M240 1155l3 2M242 1162l1 -5M236 1160l-3 3M327 1095l-1 2M327 1095l4 2M326 1097l6 5M331 1097l2 1M333 1098l-1 3M332 1101l0 1M328 1091l-1 4M332 1092l-1 5M336 1090l1 6M337 1096l-4 2M324 1098l2 4M324 1098l-3 -1M321 1097l-1 3M326 1102l-5 2M321 1104l-1 -4M329 1104l2 0M329 1104l-3 -2M331 1104l1 -2M326 1097l-2 1M320 1096l1 1M313 1099l0 0M313 1099l3 3M316 1102l4 -2M327 1106l-1 6M327 1106l-4 0M326 1112l-3 -2M323 1110l0 -4M316 1102l2 4M321 1104l-1 1M318 1106l2 -1M329 1104l-2 2M320 1105l3 1M348 1097l2 -2M348 1097l1 1M349 1098l8 2M350 1095l13 0M357 1100l6 -4M363 1095l0 1M353 1089l-3 6M341 1086l7 12M348 1098l0 -1M362 1092l1 3M366 1095l-2 2M364 1097l-1 -1M384 1167l0 0M388 1158l-2 1M386 1159l-2 8M315 1177l-5 -2M310 1175l-5 14M378 1168l-7 0M378 1168l0 3M371 1168l-2 1M374 1175l-2 0M369 1169l3 6M369 1177l3 -2M243 1171l5 -1M252 1173l0 -1M248 1170l4 2M242 1162l6 2M248 1170l0 -6M297 1128l6 -1M297 1128l5 4M302 1132l1 -5M371 1168l-2 -5M371 1168l1 -3M372 1165l-3 -2M259 1066l0 -7M259 1066l-3 1M258 1057l1 0M259 1059l0 -2M273 1056l-3 0M280 1047l-12 4M268 1051l2 5M270 1056l0 0M270 1044l-4 4M268 1051l-1 -3M266 1048l1 0M270 1056l-10 1M267 1048l-7 9M263 1061l-4 -2M263 1061l6 0M269 1061l1 -5M259 1057l0 0M259 1057l1 0M262 1082l-3 0M261 1074l-1 0M261 1074l2 0M260 1074l-1 8M229 1052l-5 3M229 1052l1 1M230 1053l1 5M224 1055l4 6M228 1061l3 -3M218 1056l4 -1M229 1063l-1 -2M222 1055l2 0M238 1057l-1 -2M237 1055l-6 3M246 1106l3 -8M241 1098l0 0M249 1098l-8 0M236 1084l1 0M235 1093l5 -5M235 1093l-1 -2M240 1088l-3 -4M235 1094l6 3M235 1094l0 -1M245 1089l-4 8M245 1089l0 -1M240 1088l5 0M233 1104l-3 -5M235 1094l-5 4M241 1098l0 -1M230 1099l0 -1M220 1105l-1 -1M230 1099l-11 5M219 1104l0 0M220 1090l1 8M220 1090l1 0M221 1090l5 3M221 1098l5 -3M226 1093l0 2M220 1089l0 1M219 1104l2 -6M227 1088l-6 2M228 1091l-2 2M230 1098l-4 -3M264 1099l1 0M264 1099l1 -9M265 1099l6 -10M265 1090l6 -1M258 1099l-1 -8M257 1091l7 -2M264 1089l1 1M260 1099l4 0M272 1095l-1 2M272 1095l7 -1M271 1097l5 2M279 1094l1 2M280 1096l-2 3M276 1099l2 0M271 1097l-2 1M276 1099l-4 4M269 1098l3 5M273 1009l0 4M268 1014l4 1M273 1013l-1 2M279 1008l3 1M280 1014l-1 1M280 1014l2 -3M282 1011l0 -2M273 1013l6 2M262 998l1 -2M291 997l2 2M284 1007l-2 2M284 1007l0 -2M278 998l2 1M284 1005l-4 -6M258 1012l-1 1M257 1013l-1 0M249 1010l2 3M256 1013l-5 0M265 1021l-5 1M265 1020l0 -2M257 1013l-1 8M260 1022l-4 -1M232 1039l-9 -3M232 1039l3 -2M232 1032l1 0M233 1032l2 5M231 1024l3 2M231 1024l1 -2M234 1026l2 -4M232 1022l2 -2M234 1020l2 2M228 1024l3 0M235 1028l-2 4M235 1028l-1 -2M230 1018l2 4M234 1016l0 4M234 1016l0 -1M234 1015l-2 -1M234 1016l7 5M241 1021l-5 1M241 1021l1 0M235 1028l6 -1M241 1027l1 -2M242 1021l0 4M252 1032l-4 -1M252 1032l2 -2M248 1031l-2 -5M254 1030l-1 -7M246 1026l7 -3M256 1013l-6 6M256 1021l-3 2M250 1019l3 4M381 1056l-3 -1M384 1042l-4 1M380 1043l-4 6M378 1055l-2 -6M381 1063l-10 1M371 1064l-4 -4M378 1055l-11 5M386 1072l-2 -3M386 1072l-7 5M384 1069l-6 2M378 1071l-3 3M379 1077l-4 -1M375 1074l0 2M390 1073l-4 -1M385 1067l-1 2M381 1078l-2 -1M381 1063l-3 8M371 1064l4 10M375 1076l0 0M366 1079l-3 -7M363 1065l3 -5M367 1060l-1 0M381 998l8 -19M381 998l-4 -1M326 1039l1 -4M334 1040l3 -4M327 1035l8 -4M337 1036l-2 -5M339 997l0 3M339 997l-3 -1M339 1000l-4 2M334 996l0 5M334 1001l1 1M343 1002l-4 -2M343 1002l3 -5M346 997l-7 0M343 1004l0 -2M343 1004l-7 0M336 1004l-1 -2M329 1003l5 -2M336 1004l-2 6M334 1010l-6 -1M272 1076l2 -6M272 1076l3 2M275 1078l-1 -8M280 1071l8 -3M280 1071l-2 -1M276 1065l-2 3M278 1070l-4 -2M270 1077l2 -1M274 1068l-6 4M274 1068l0 1M274 1070l0 -1M269 1063l5 5M269 1063l0 -2M274 1068l0 1M264 1065l-2 2M264 1065l4 -1M268 1064l-3 5M262 1067l3 2M260 1067l-1 -1M260 1067l2 0M263 1061l1 4M269 1063l-1 1M267 1072l-2 -3M260 1067l1 7M272 1095l0 -6M279 1094l-1 -3M278 1091l-6 -2M270 1082l2 1M264 1089l-1 -6M271 1089l1 0M272 1083l0 6M265 1099l0 0M265 1099l4 -1M272 1089l0 0M327 1140l0 -1M327 1140l3 -1M327 1139l0 -10M327 1129l6 1M330 1139l5 -6M333 1130l2 3M332 1123l3 1M332 1123l-1 -5M331 1118l8 3M335 1124l4 -3M327 1129l-1 -2M326 1127l0 0M326 1127l6 -4M335 1126l-2 4M335 1126l0 -2M326 1113l4 2M326 1113l-7 2M319 1115l7 4M330 1115l-4 4M326 1112l0 1M331 1104l0 0M331 1115l-1 0M330 1115l0 0M316 1116l1 3M316 1116l3 -1M323 1124l3 -5M323 1124l-2 -1M321 1123l-4 -4M330 1115l1 3M323 1124l2 2M325 1126l1 1M251 1039l1 -7M251 1039l6 0M257 1039l1 0M254 1030l1 1M258 1039l-3 -8M260 1022l-1 9M253 1023l0 0M259 1031l-4 0M266 1024l-2 8M259 1031l5 1M271 1035l-6 -1M273 1026l2 3M264 1032l1 2M293 1012l1 -5M293 1012l5 1M298 1013l4 -1M302 1012l-7 -7M295 1005l-1 2M284 1007l10 0M282 1011l6 3M288 1014l5 -2M293 1012l0 0M298 1019l-4 -2M301 1017l-3 -4M294 1017l-1 -5M305 1016l1 -3M306 1013l-4 -1M296 1003l-1 2M306 1012l0 1M289 1025l-6 -4M289 1025l-9 1M283 1021l-2 3M281 1024l-1 2M280 1026l0 0M282 1034l3 -3M285 1031l-5 -5M279 1027l1 -1M305 1035l7 2M305 1035l0 -4M312 1037l-2 -6M305 1031l2 -2M307 1029l3 2M299 1029l-3 4M299 1029l6 2M303 1038l2 -3M303 1038l-6 -4M297 1034l-1 -1M306 1023l2 3M297 1025l1 3M297 1025l1 0M298 1025l1 -2M299 1029l-1 -1M308 1026l-1 3M317 1042l0 -1M317 1042l5 11M323 1051l-1 2M323 1051l-4 -10M319 1041l-1 0M318 1041l-1 0M322 1054l0 -1M326 1045l-3 6M324 1041l-5 0M317 1038l1 3M327 1035l-3 -6M315 1032l-5 -1M312 1037l5 4M322 1056l-10 -1M322 1056l-4 -4M318 1052l-6 1M312 1053l0 2M314 1061l-3 -5M307 1058l-1 5M307 1058l2 -2M309 1056l2 0M311 1056l1 -1M292 1019l0 0M292 1019l-2 2M292 1019l-5 -3M290 1021l-3 -2M287 1019l0 -3M298 1025l-6 -6M294 1017l-2 2M288 1014l-1 2M280 1014l3 5M283 1019l4 0M319 1013l-1 3M319 1021l-1 -2M318 1016l0 3M302 1058l-3 4M302 1058l-2 -3M299 1062l-3 -5M296 1057l2 -4M300 1055l-2 -2M307 1058l-5 0M299 1062l0 0M293 1057l3 0M291 1053l7 0M298 1053l0 0M353 1075l0 2M353 1075l4 -1M353 1077l4 1M357 1074l0 4M353 1075l0 0M351 1080l2 -3M358 1073l-1 1M360 1081l-3 -3M342 1106l3 -1M342 1106l-3 7M344 1113l-3 2M344 1113l1 -8M345 1105l0 0M339 1113l2 2M335 1106l3 -1M337 1113l2 0M338 1105l4 1M350 1110l-5 -5M350 1110l0 0M350 1110l-6 3M350 1110l4 -5M354 1105l-5 -7M348 1098l-1 0M347 1098l-2 7M338 1096l6 2M338 1096l-1 5M344 1098l-5 4M337 1101l2 1M337 1096l1 0M347 1098l-3 0M332 1101l5 0M338 1105l1 -3M291 1166l-4 7M291 1166l2 0M293 1168l0 -2M293 1168l-5 7M287 1173l1 2M295 1175l-6 2M295 1175l0 -3M295 1172l-2 -4M288 1175l1 2M295 1175l2 2M262 1177l-2 -3M260 1174l4 -6M272 1179l0 -4M264 1168l1 0M272 1175l-7 -7M366 1101l-3 3M366 1101l-2 -4M357 1100l2 5M363 1104l-4 1M354 1105l2 1M356 1106l3 -1M339 1121l3 -1M341 1115l2 3M342 1120l1 -2M330 1139l8 2M335 1133l1 0M336 1133l2 8M338 1141l0 0M378 1168l0 0M371 1168l0 0M372 1165l1 0M373 1165l5 3M384 1167l-5 0M378 1168l1 -1M303 1175l0 -4M303 1175l-1 1M300 1176l-1 -4M303 1171l-3 0M300 1171l-1 1M310 1175l-1 0M309 1175l-6 0M295 1172l4 0M297 1166l3 5M297 1166l8 1M305 1167l-2 4M297 1166l-3 -1M294 1165l-1 1M309 1175l1 -4M305 1167l0 0M305 1167l1 -1M310 1171l-4 -5M294 1165l0 -2M305 1167l-6 -6M294 1163l5 -2M322 1164l1 4M322 1164l-1 0M320 1163l-6 -1M313 1170l1 -8M313 1170l1 0M323 1168l-9 2M313 1170l-3 1M314 1170l2 6M331 1170l-6 10M331 1170l-8 -2M323 1168l-3 8M323 1168l0 0M259 1174l1 0M340 1166l-3 -3M340 1166l-7 5M337 1163l-5 6M332 1169l0 1M333 1171l-1 -1M335 1173l0 3M335 1173l-2 -2M331 1170l1 0M322 1164l4 -3M332 1169l-1 -7M331 1162l-5 -1M323 1155l4 -1M327 1154l0 4M326 1161l1 -3M327 1140l-3 9M327 1140l3 5M324 1149l4 3M328 1152l2 -7M317 1152l-1 -2M316 1150l8 -1M327 1154l1 -1M328 1152l0 1M327 1140l0 0M338 1141l3 5M341 1146l-4 3M337 1149l-7 -4M369 1162l0 1M369 1162l-1 0M369 1169l0 0M369 1169l-1 -7M363 1176l-2 -3M369 1169l-6 0M361 1173l2 -4M291 1117l-4 1M291 1117l1 -3M292 1114l-2 -1M290 1113l-4 5M286 1118l1 0M290 1108l8 0M290 1108l0 5M298 1108l0 0M290 1113l0 0M296 1113l2 -5M296 1113l-4 1M316 1116l0 -1M323 1110l-5 0M316 1115l2 -5M318 1106l-1 1M318 1110l-1 -3M287 1119l0 -1M287 1119l9 2M291 1117l5 3M296 1120l0 1M296 1113l1 5M296 1120l1 -2M295 1126l1 -2M295 1126l-3 2M287 1119l3 9M292 1128l-2 0M296 1124l0 -3M306 1112l2 2M306 1112l-3 0M303 1112l-2 5M307 1116l1 -2M307 1116l-5 2M302 1118l-1 -1M298 1108l5 4M297 1118l4 -1M296 1124l8 -1M304 1123l-2 -5M298 1108l0 -1M307 1105l-1 7M307 1105l0 0M298 1107l4 -2M307 1105l-5 0M309 1095l-2 1M307 1089l-6 1M301 1090l0 1M307 1096l-3 0M301 1091l3 5M307 1105l0 -9M302 1105l1 -8M304 1096l-1 1M251 1118l2 1M260 1113l0 4M253 1119l7 -2M244 1123l6 5M250 1128l3 -8M253 1119l0 1M268 1117l0 -1M268 1117l-8 0M260 1117l0 0M268 1117l0 1M260 1117l0 0M260 1117l7 4M267 1121l1 -3M266 1147l1 -8M266 1147l4 2M272 1149l-2 0M272 1149l5 -4M267 1139l11 4M277 1145l1 -2M252 1172l2 -6M254 1166l-2 -4M248 1164l3 -2M252 1162l-1 0M243 1157l2 -1M251 1162l-6 -6M247 1150l2 4M245 1156l4 -2M250 1147l3 0M254 1148l-1 -1M254 1148l2 2M256 1150l-6 4M249 1154l1 0M254 1166l9 -1M264 1168l-1 -3M263 1165l0 0M321 1134l-4 -2M321 1134l5 5M325 1140l1 -1M325 1140l-10 -4M315 1136l0 -2M315 1134l2 -2M317 1132l0 0M325 1126l-8 6M326 1127l-5 7M327 1139l-1 0M316 1150l0 0M313 1145l3 5M313 1145l12 -5M313 1145l0 0M313 1145l0 0M313 1145l2 -9M321 1123l-5 6M316 1129l1 3M317 1119l-4 3M316 1115l-5 -2M311 1113l-3 1M307 1116l0 4M307 1120l6 2M304 1123l0 0M307 1120l-3 3M316 1129l-4 -3M313 1122l-1 4M380 1150l0 0M380 1150l-3 9M380 1150l-9 -1M371 1149l-1 7M370 1156l3 3M373 1159l2 0M375 1159l1 0M377 1159l-1 0M383 1151l-3 -1M386 1159l-9 0M369 1162l4 -3M373 1165l2 -6M379 1167l-3 -8M395 1098l-5 2M395 1098l-1 4M390 1100l4 3M394 1102l0 1M387 1093l-1 3M395 1097l0 1M386 1096l1 3M387 1099l3 1M396 1102l-2 0M392 1105l1 0M392 1105l-6 -3M393 1105l1 -2M386 1102l1 -3M398 1106l-5 -1M251 1039l-5 6M246 1045l1 1M257 1039l1 5M258 1044l-11 2M251 1054l-1 -4M253 1055l6 -6M259 1049l-9 1M259 1057l0 -8M259 1049l0 0M242 1048l3 -3M242 1048l3 12M245 1045l1 0M247 1046l3 4M255 1072l-2 5M255 1072l2 1M257 1073l-3 7M253 1077l1 3M253 1069l2 3M249 1071l4 6M260 1074l-3 -1M259 1082l-5 1M253 1082l1 1M253 1082l1 -2M232 1039l-1 3M223 1037l2 6M231 1042l-2 1M225 1043l4 0M219 1045l2 1M225 1043l-4 3M222 1055l0 -6M221 1046l1 3M242 1048l-4 2M237 1055l0 -1M238 1050l-1 4M230 1053l3 0M237 1054l-4 -1M229 1051l-3 -3M229 1051l1 -1M230 1050l3 -2M233 1048l-6 -1M226 1048l1 -1M229 1052l0 -1M222 1049l4 -1M233 1053l-3 -3M234 1048l-1 0M234 1048l4 2M231 1042l3 6M229 1043l-2 4M257 1091l-2 -3M254 1083l0 3M255 1088l-1 -2M243 1084l-5 -1M243 1084l4 -5M245 1074l2 5M245 1074l-7 6M238 1080l0 3M245 1088l-2 -4M237 1084l1 -1M253 1082l-6 -3M245 1089l1 0M246 1089l8 -3M245 1072l0 2M234 1077l4 3M267 1104l0 0M267 1104l7 6M267 1104l5 0M274 1110l-1 -5M273 1105l-1 -1M265 1109l2 -5M265 1099l2 5M274 1110l0 0M274 1110l-4 1M272 1103l0 1M278 1099l0 0M278 1099l-5 6M272 1017l3 3M272 1017l0 -2M272 1015l5 2M275 1020l1 -1M276 1019l1 -2M267 1020l5 -3M274 1021l1 -1M272 1015l0 0M279 1015l-2 2M281 1024l-5 -5M283 1019l0 2M287 1001l-1 -6M287 1001l-1 1M286 1002l-1 -2M285 1000l0 -5M293 1000l-6 1M284 1005l2 -3M280 999l5 1M247 1032l-2 12M247 1032l-5 0M242 1032l-4 5M245 1044l-7 -7M248 1031l-1 1M245 1045l0 -1M241 1027l1 5M246 1026l-4 -1M235 1037l3 0M249 1017l0 2M249 1017l-4 -5M249 1019l-6 1M243 1020l-1 -5M242 1015l0 -1M242 1014l3 -2M245 1012l0 0M251 1013l0 2M251 1015l-2 2M250 1019l-1 0M251 1015l-6 -3M242 1021l1 -1M234 1015l8 0M235 1008l7 6M246 1010l-1 2M386 1040l-1 -4M380 1043l-6 -3M374 1040l-1 -6M385 1036l-2 -2M373 1034l1 0M383 1034l-9 0M388 995l-2 5M381 998l2 2M386 1000l-3 0M374 1040l-1 1M376 1049l-1 0M373 1041l-2 4M375 1049l-4 -4M348 1065l0 -5M353 1067l3 -6M356 1061l-8 -1M348 1060l0 0M337 1064l9 -8M348 1060l-2 -4M337 1057l7 -5M344 1052l0 0M344 1052l2 3M346 1056l0 -1M352 998l3 9M355 1007l3 2M360 1007l-2 2M360 1007l4 -6M364 1001l0 -4M326 1025l5 1M335 1031l0 -2M331 1026l4 3M332 1018l3 1M331 1026l4 -7M334 1010l4 3M335 1019l2 -1M338 1013l-1 5M343 1004l2 6M338 1013l7 -3M355 1007l-10 3M345 1010l0 0M307 1085l-5 0M301 1090l0 -3M301 1087l1 -2M302 1077l-1 3M302 1085l-1 -5M295 1074l-1 7M294 1081l5 0M301 1080l-2 1M294 1081l-4 3M290 1084l0 0M290 1084l4 2M299 1081l-2 5M294 1086l3 0M301 1087l-4 0M297 1086l0 1M281 1096l-1 0M281 1096l5 -2M286 1094l-2 -3M284 1091l-2 -4M278 1091l2 -3M282 1087l-2 1M272 1083l1 0M280 1088l-7 -5M293 1046l6 -3M293 1046l6 4M299 1043l1 3M300 1046l0 2M299 1050l1 -2M293 1046l0 0M292 1043l3 -3M299 1041l0 2M299 1041l-3 -1M296 1040l-1 0M298 1053l1 -2M299 1051l0 -1M291 1035l3 -2M291 1035l-2 0M294 1033l-1 -4M289 1035l-1 -4M288 1031l2 -6M293 1029l-2 -4M291 1025l-1 0M290 1025l0 0M296 1040l1 -6M295 1040l-4 -5M296 1033l-2 0M287 1037l2 -2M298 1028l-5 1M285 1031l3 0M289 1025l1 0M297 1025l-6 0M290 1021l0 4M299 1051l3 0M300 1055l6 -2M302 1051l4 2M309 1056l-2 -2M306 1053l1 1M315 1021l-2 -4M315 1021l-2 4M312 1025l1 0M312 1025l0 -6M312 1019l0 -2M312 1017l1 0M318 1016l-5 1M318 1019l-3 2M316 1026l-3 -1M308 1026l4 -1M306 1019l6 0M308 1012l4 5M238 1140l6 0M240 1131l3 0M243 1131l1 9M250 1128l0 0M250 1128l-2 3M248 1131l0 0M243 1131l5 0M293 1152l-2 4M293 1152l-5 -2M291 1156l-5 0M286 1156l2 -6M279 1184l0 -13M284 1178l-3 -7M279 1171l2 0M281 1171l0 0M272 1175l5 -4M277 1171l2 0M287 1173l-3 -3M284 1170l-3 1M291 1166l0 0M284 1170l4 -4M291 1166l-3 0M277 1171l0 -1M265 1168l1 -1M277 1170l-11 -3M388 1117l-11 1M388 1117l-4 -6M377 1118l0 0M377 1118l5 -8M384 1111l-2 -1M373 1107l2 2M373 1107l-1 -5M375 1109l6 -2M381 1105l0 2M381 1105l-4 -4M373 1101l3 -1M373 1101l-1 1M376 1100l1 1M376 1118l-1 -9M376 1118l-4 -1M370 1110l2 7M370 1110l3 -3M366 1101l6 1M363 1104l1 5M370 1110l-6 -1M377 1118l-1 0M382 1110l-1 -3M385 1103l-4 2M385 1103l3 6M388 1109l-4 2M386 1096l-9 5M386 1102l-1 1M372 1096l1 5M378 1091l-2 9M364 1109l0 1M364 1110l0 0M372 1117l-2 0M370 1117l-6 -7M335 1126l6 3M342 1120l3 6M341 1129l4 -3M387 1149l-1 -7M390 1148l-3 -6M387 1142l-1 0M388 1117l1 0M377 1118l1 4M389 1117l-4 6M385 1123l-7 -1M389 1117l5 1M389 1117l0 -8M394 1118l3 -2M394 1110l-2 -2M394 1110l3 6M397 1116l0 0M392 1108l-3 1M389 1117l0 0M392 1122l0 0M392 1122l-7 2M392 1122l2 -4M385 1124l0 -1M388 1109l1 0M397 1125l0 -9M397 1125l-2 4M395 1129l-3 -7M398 1106l-4 4M392 1105l0 3M397 1116l0 0M401 1125l-4 0M309 1141l4 4M309 1141l0 -5M315 1134l-5 -1M310 1133l-1 3M304 1138l2 2M304 1138l-2 -3M303 1134l0 0M303 1134l-1 1M309 1141l-3 -1M309 1136l-6 -2M293 1152l2 -2M291 1156l2 2M295 1150l1 0M293 1158l7 -4M296 1150l4 4M347 1161l-4 2M347 1161l-5 -4M343 1163l-5 -2M342 1157l-3 0M339 1157l-1 4M347 1152l4 1M347 1152l-5 5M351 1153l-3 8M348 1161l-1 0M338 1161l-1 2M338 1161l0 0M342 1166l1 -3M342 1166l-2 0M331 1159l1 2M331 1159l2 -6M333 1153l3 0M332 1161l0 0M332 1161l5 -7M337 1154l-1 -1M331 1162l1 -1M327 1158l4 1M328 1153l5 0M337 1149l-1 4M338 1161l-6 0M339 1157l-2 -3M347 1152l-5 -6M341 1146l1 0M351 1153l2 -1M353 1152l2 8M348 1161l1 2M349 1163l5 -1M354 1162l1 -2M355 1173l1 -6M355 1173l0 0M355 1173l-6 -5M356 1167l-7 0M349 1167l0 1M361 1173l-6 0M363 1169l-1 -3M358 1165l4 1M358 1165l-2 2M349 1163l0 4M358 1165l-4 -3M355 1173l-1 2M354 1175l4 11M344 1170l2 0M344 1170l-6 3M346 1170l1 7M338 1173l7 4M342 1166l2 4M349 1168l-3 2M335 1173l3 0M354 1175l-7 2M314 1106l-3 2M314 1106l-2 -4M311 1108l-3 -3M312 1102l-4 3M311 1113l0 -5M317 1107l-3 -1M313 1099l-1 3M307 1105l1 0M292 1128l2 5M290 1128l-3 1M287 1129l-4 5M283 1134l6 3M289 1137l5 -4M295 1126l2 2M302 1132l1 2M302 1135l-6 2M294 1133l2 4M295 1150l-4 -4M288 1150l0 -4M291 1146l-3 0M286 1156l0 0M286 1156l-7 -13M279 1143l7 2M288 1146l-2 -1M271 1119l1 7M271 1119l5 -4M276 1115l-3 11M272 1126l1 0M252 1135l-1 -1M252 1135l4 -4M256 1131l-5 3M260 1117l0 1M267 1121l0 2M260 1118l5 6M267 1123l-2 1M261 1135l4 -5M261 1135l-3 -5M265 1130l-1 -2M258 1130l0 -2M264 1128l-2 -2M258 1128l1 -2M262 1126l-3 0M259 1126l0 0M250 1128l8 0M248 1131l3 3M256 1131l2 -1M253 1120l6 6M260 1118l-1 8M265 1124l-3 2M368 1147l-6 -6M368 1147l-5 4M359 1141l3 0M359 1141l-3 6M363 1151l-1 0M362 1151l-2 0M360 1151l-4 -1M356 1147l0 3M368 1156l2 0M368 1156l-5 -5M371 1149l-2 -2M369 1147l-1 0M348 1141l0 -3M348 1141l8 6M352 1134l-4 4M352 1134l4 0M356 1134l3 7M368 1156l-4 3M364 1159l-2 -8M348 1141l-6 5M353 1152l3 -2M260 1045l1 2M260 1045l2 -8M261 1047l3 0M264 1047l0 -11M264 1036l-2 1M258 1044l2 1M259 1049l2 -2M258 1039l4 -2M266 1048l-2 -1M265 1034l-1 2M252 1092l-3 0M252 1092l-1 6M249 1092l0 6M251 1098l-2 0M246 1089l3 3M255 1088l-3 4M255 1102l-4 -4M249 1098l0 0M398 1001l-2 2M401 1012l-5 -9M405 1024l-7 -5M398 1019l2 -6M391 996l2 7M396 1003l-3 0M386 1000l6 3M393 1003l-1 0M398 1024l-1 -2M396 1028l-2 -1M394 1027l3 -5M395 1036l-2 -9M394 1027l-1 0M398 1019l0 1M397 1022l1 -2M385 1036l7 -9M393 1027l-1 0M389 1018l1 2M389 1018l-5 -4M382 1014l2 0M382 1014l1 10M390 1020l-1 2M383 1024l6 -2M400 1013l-7 1M393 1014l-4 4M398 1020l-8 0M392 1027l-3 -5M381 1026l2 8M381 1026l2 -2M367 1046l1 0M367 1046l-7 8M368 1046l2 6M370 1052l-5 7M365 1059l-3 -3M362 1056l-1 -1M361 1055l-1 -1M375 1049l-5 3M371 1045l-3 1M366 1060l-1 -1M356 1061l6 -5M348 1060l13 -5M344 1052l10 -6M354 1046l0 1M346 1055l11 -3M354 1047l3 5M360 1054l0 -1M360 1053l-3 -1M373 1041l-2 -1M367 1046l-1 -3M371 1040l-5 3M373 1034l-5 -2M368 1032l-1 1M367 1033l-1 2M371 1040l-5 -5M351 1044l-1 -3M351 1044l-8 6M350 1041l-8 8M343 1050l-1 -1M344 1052l-1 -2M354 1046l-3 -2M337 1047l3 0M340 1047l2 2M337 1036l1 0M340 1047l0 -1M340 1046l0 -7M340 1039l-2 -3M346 1024l-8 -5M346 1024l-7 3M339 1027l-2 -8M338 1019l-1 0M335 1029l4 -1M339 1028l0 -1M337 1018l0 1M347 1019l-9 0M347 1019l-2 -9M294 1086l1 5M297 1087l0 3M295 1091l0 0M295 1091l2 -1M301 1091l-2 1M297 1090l2 2M290 1084l0 3M290 1087l-1 6M295 1091l-3 3M292 1094l-3 -1M290 1087l-6 4M286 1094l0 1M289 1093l-3 2M280 1071l1 6M290 1072l-2 4M288 1076l-7 1M290 1084l0 0M288 1076l2 8M300 1046l3 -2M300 1048l4 -2M304 1046l-1 -2M299 1041l3 -1M303 1044l-1 -4M303 1038l0 1M302 1040l1 -1M247 1140l-1 0M247 1140l6 -3M252 1142l5 -2M252 1142l-5 -2M247 1140l-1 0M253 1137l6 1M259 1138l-2 2M248 1131l-1 9M244 1140l2 0M252 1135l1 2M254 1148l3 -8M253 1147l-1 -5M247 1141l0 -1M260 1138l1 -1M260 1138l-1 0M261 1137l0 -2M279 1143l-1 0M279 1143l0 0M277 1145l2 11M286 1156l0 0M286 1156l-7 0M294 1163l-1 -5M291 1166l-6 -8M286 1156l-1 2M288 1166l-6 -3M285 1158l-3 5M281 1171l-1 -7M280 1164l2 -1M356 1106l1 3M364 1110l-2 2M362 1112l-5 -3M350 1110l1 2M343 1118l6 -1M349 1117l2 -5M357 1109l-1 1M356 1110l-3 3M351 1112l2 1M336 1133l5 -2M336 1133l4 5M341 1131l2 5M340 1138l3 -2M336 1133l0 0M341 1129l0 2M338 1141l2 -3M345 1126l2 0M347 1126l5 8M348 1138l-5 -2M394 1131l-1 0M394 1131l2 1M393 1131l-4 4M396 1132l1 7M389 1135l2 5M397 1139l-1 2M391 1140l3 2M396 1141l-2 1M399 1131l-3 1M395 1129l-1 2M401 1140l-4 -1M402 1146l-6 -5M394 1143l0 -1M387 1142l4 -2M392 1123l-4 5M392 1123l-6 4M388 1128l-1 0M386 1127l1 1M392 1122l0 1M393 1131l-5 -3M385 1124l1 3M386 1135l2 1M386 1135l-6 6M388 1136l-3 6M385 1142l-4 0M380 1141l1 1M386 1142l-1 0M389 1135l-1 1M380 1150l1 -8M380 1141l-9 0M380 1141l0 0M371 1141l-2 6M310 1133l0 0M303 1134l3 -2M306 1132l4 1M312 1126l0 0M310 1133l2 -7M360 1158l4 3M360 1158l-3 2M357 1160l5 5M362 1165l2 -3M364 1161l0 1M364 1159l0 2M360 1151l0 7M355 1160l2 0M362 1166l0 -1M368 1162l-4 0M289 1137l0 1M296 1137l0 0M296 1137l-5 1M289 1138l2 0M296 1150l1 -4M291 1146l3 -2M294 1144l3 2M304 1138l-4 5M303 1143l3 -3M303 1143l-3 1M300 1144l0 -1M274 1110l4 2M282 1107l-4 -8M282 1107l-1 3M281 1110l-2 2M278 1112l1 0M268 1118l3 1M276 1115l2 -2M278 1112l0 1M281 1110l9 3M286 1118l-2 -1M279 1112l5 5M273 1126l1 0M278 1113l1 10M274 1126l5 -3M284 1117l-2 7M279 1123l3 1M287 1129l-4 -4M283 1125l-1 -1M271 1126l-2 4M271 1126l-1 -1M270 1125l-4 2M266 1127l0 3M266 1130l3 0M272 1126l-1 0M267 1123l3 2M264 1128l2 -1M265 1130l1 0M261 1137l5 1M266 1138l2 -3M268 1135l1 -5M260 1162l-1 -5M260 1162l-7 -2M259 1157l-2 -2M257 1155l-4 4M253 1160l0 -1M266 1156l-1 -1M266 1156l0 3M266 1159l-3 6M263 1165l-3 -3M265 1155l-4 0M261 1155l-2 2M252 1162l1 -2M256 1150l0 0M250 1154l3 5M256 1150l1 5M265 1153l0 0M265 1153l-2 -6M265 1153l-6 -2M261 1147l2 0M261 1147l-3 3M258 1150l1 1M271 1154l-5 2M271 1154l1 -5M270 1149l-5 4M265 1155l0 -2M266 1147l-3 0M261 1155l-2 -4M260 1138l1 9M266 1138l1 1M256 1150l2 0M370 1026l1 3M370 1026l6 2M371 1029l4 0M376 1028l-1 1M368 1032l3 -3M368 1032l-2 -7M366 1025l4 0M370 1025l0 1M368 1032l0 0M374 1034l1 -5M381 1026l-2 -1M379 1025l-3 3M365 1024l1 1M365 1024l2 -8M367 1016l3 0M370 1025l0 0M370 1016l1 1M371 1017l-1 8M379 1025l-1 -1M378 1024l-8 1M376 1008l-3 2M376 1008l-3 -5M373 1010l-6 -3M367 1007l4 -4M373 1003l-1 0M371 1003l1 0M377 997l-4 6M381 1005l2 -5M381 1005l-5 3M376 1008l0 0M360 1007l7 0M358 1009l2 3M360 1012l0 0M360 1012l7 4M370 1016l3 -6M364 1001l7 2M367 993l5 10M390 1009l1 -3M390 1009l-5 4M391 1006l-7 2M385 1013l-1 -5M393 1014l-3 -5M392 1003l-1 3M384 1014l1 -1M381 1005l3 3M364 1037l1 6M364 1037l-7 0M357 1037l1 5M358 1042l5 2M363 1044l2 -1M366 1035l-2 2M366 1043l-1 0M354 1047l4 -5M360 1053l3 -9M347 1019l1 2M346 1024l2 0M348 1024l0 -3M360 1012l-7 7M353 1019l-5 2M367 1033l-1 0M357 1037l0 0M366 1033l-7 -1M357 1037l2 -5M366 1033l-3 -5M363 1028l-4 3M359 1032l0 -1M296 1092l-1 -1M296 1092l0 1M292 1094l1 1M293 1095l3 -2M303 1097l-3 0M299 1092l-1 0M300 1097l-2 -5M296 1092l2 0M296 1093l0 1M296 1094l2 0M298 1094l0 -2M298 1092l0 0M294 1096l5 1M294 1096l1 6M296 1102l4 -4M296 1102l-1 0M300 1098l-1 -1M294 1096l2 -2M294 1096l0 0M298 1094l1 3M298 1107l-2 -5M300 1097l0 1M290 1108l-2 -1M295 1102l-2 -1M293 1101l-5 6M282 1107l2 -1M288 1107l-4 -1M281 1096l4 7M284 1106l1 -3M286 1095l1 3M287 1098l-1 4M285 1103l1 -1M282 1087l0 0M290 1084l-1 0M282 1087l7 -3M308 1046l-2 1M308 1046l8 -4M313 1051l-7 -4M313 1051l4 -8M306 1047l0 0M316 1042l1 0M306 1047l0 0M317 1043l0 -1M304 1046l2 1M303 1039l1 0M304 1039l4 7M304 1039l12 3M312 1053l1 -2M307 1054l-1 -7M318 1052l-1 -9M302 1051l4 -4M317 1042l0 0M280 1163l-3 -6M280 1163l-6 2M274 1165l-1 -1M273 1164l0 -5M277 1157l-3 1M274 1158l-1 1M279 1156l-2 1M280 1164l0 -1M277 1170l-3 -5M266 1167l7 -3M266 1159l7 0M271 1154l3 4M364 1140l-2 -7M364 1140l5 -5M362 1133l7 1M369 1135l0 -1M356 1134l2 -2M362 1141l2 -1M358 1132l4 1M371 1141l-2 -6M378 1128l-5 5M378 1128l5 3M383 1132l0 -1M383 1132l-4 6M379 1138l-6 -5M377 1124l1 4M377 1124l-8 3M370 1134l-1 -6M370 1134l3 -1M369 1127l0 1M378 1122l-1 2M387 1128l-4 3M386 1135l-3 -3M380 1141l-1 -3M370 1134l-1 0M306 1132l1 -5M306 1132l-2 -5M307 1127l-2 -2M304 1127l1 -2M306 1132l0 0M312 1126l-5 1M303 1127l1 0M304 1123l1 2M302 1154l0 0M302 1154l1 2M302 1154l2 -2M304 1152l9 2M303 1156l6 5M309 1161l1 -1M313 1154l-3 6M300 1154l2 0M302 1147l0 7M302 1147l-2 -2M297 1146l3 -1M299 1161l4 -5M316 1150l-3 4M313 1145l-4 2M309 1147l-5 5M306 1166l3 -5M314 1162l-4 -2M304 1144l3 3M304 1144l-1 2M303 1146l4 1M303 1143l1 1M309 1147l-2 0M302 1147l1 -1M300 1145l0 -1M294 1143l2 -3M294 1143l-3 -2M291 1140l0 1M291 1140l5 -1M296 1139l0 1M294 1144l0 -1M300 1143l-4 -3M286 1145l3 -3M289 1142l2 -1M289 1142l0 -4M291 1138l0 2M296 1137l0 2M276 1128l-2 -1M276 1128l5 8M274 1127l-2 6M272 1133l8 5M280 1138l1 -2M274 1126l0 1M283 1125l-7 3M283 1134l-2 2M268 1135l4 -2M279 1143l1 -5M377 1022l-5 -4M377 1022l4 -8M372 1018l9 -4M381 1014l0 0M371 1017l1 1M378 1024l-1 -2M382 1014l-1 0M376 1008l5 6M340 1046l6 -7M350 1041l-1 -1M349 1040l-3 -1M342 1031l1 3M342 1031l-3 -3M338 1036l5 -2M343 1034l0 0M340 1039l5 0M343 1034l2 5M346 1039l-1 0M363 1028l0 -3M359 1031l-1 -2M358 1029l5 -4M360 1012l0 10M365 1024l-1 1M360 1022l4 3M364 1025l-1 0M293 1095l0 0M293 1095l-1 6M293 1095l-3 4M290 1099l2 2M292 1101l0 0M294 1096l-1 -1M293 1095l0 0M293 1101l-1 0M287 1098l3 1M286 1102l6 -1M281 1086l-1 -7M281 1086l-6 -5M275 1081l2 -2M280 1079l0 0M280 1079l-3 0M277 1079l0 0M282 1087l-1 -1M289 1084l-9 -5M273 1083l2 -2M275 1078l2 1M281 1077l-1 2M278 1070l-1 9M347 1126l2 -1M349 1117l3 2M352 1119l-3 6M349 1125l0 0M347 1032l4 5M347 1032l1 -5M353 1028l0 8M353 1028l-4 -2M353 1036l-2 1M348 1027l1 -1M349 1040l2 -3M343 1034l4 -2M342 1031l6 -4M357 1037l-4 -1M348 1024l1 2M354 1027l2 0M354 1027l1 -6M356 1027l3 -4M355 1021l4 2M358 1029l-2 -2M353 1028l1 -1M353 1019l2 2M360 1022l-1 1M349 1125l6 1M349 1125l7 -3M355 1126l1 -4M358 1132l1 -2M355 1126l4 4M369 1128l-10 1M359 1130l0 -1M352 1119l5 0M356 1122l1 -3M353 1113l5 6M358 1119l-1 0M361 1126l-3 -7M361 1126l6 -2M367 1124l0 -5M358 1119l2 -1M367 1119l-1 0M366 1119l-6 -1M360 1118l0 0M359 1129l2 -3M358 1119l0 0M369 1127l-2 -3M370 1117l-3 2M356 1110l4 8M364 1110l2 9M362 1112l-2 6" stroke="#d588cd" stroke-width="1.36" fill="none"/><circle cx="141.9" cy="515.7" r="7.7" fill="#b46cb8" opacity="0.42"/><circle cx="185.2" cy="511" r="7.7" fill="#b46cb8" opacity="0.42"/><circle cx="160" cy="539.8" r="7.7" fill="#b46cb8" opacity="0.42"/><circle cx="168.6" cy="551.1" r="7.7" fill="#b46cb8" opacity="0.42"/><circle cx="134" cy="555" r="7.7" fill="#b46cb8" opacity="0.42"/><circle cx="181.7" cy="576.3" r="7.7" fill="#b46cb8" opacity="0.42"/><path d="M111.5,500.5 L111.5,500.7 C112.5,504 113.5,508 114.3,511.7 C115,517 115.5,522 115.9,527.5 C116.8,532 117.8,537 119,541.7 C119.6,544 120.2,546 120.6,548 C119.6,550 118.5,552 117.4,554.3 C116.3,557 115.2,559.5 114.3,562.1 C113.3,566 112.5,570.5 112,574.7 C111.7,578.5 111.5,582 111.5,585.8 Z" fill="#f6f4f2"/><path d="M111.5,500.5 L111.5,585.8 L111.2,585.8 L111.2,500.5 Z" fill="#f6f4f2"/></g><circle cx="141.9" cy="515.7" r="8.5" fill="none" stroke="#111" stroke-width="1.5" stroke-dasharray="1.3 1.3"/><circle cx="185.2" cy="511" r="8.5" fill="none" stroke="#111" stroke-width="1.5" stroke-dasharray="1.3 1.3"/><circle cx="160" cy="539.8" r="8.5" fill="none" stroke="#111" stroke-width="1.5" stroke-dasharray="1.3 1.3"/><circle cx="168.6" cy="551.1" r="8.5" fill="none" stroke="#111" stroke-width="1.5" stroke-dasharray="1.3 1.3"/><circle cx="134" cy="555" r="8.5" fill="none" stroke="#111" stroke-width="1.5" stroke-dasharray="1.3 1.3"/><circle cx="181.7" cy="576.3" r="8.5" fill="none" stroke="#111" stroke-width="1.5" stroke-dasharray="1.3 1.3"/></g><rect x="200.0" y="500.5" width="85.60000000000002" height="85.29999999999995" fill="url(#photoBg)"/><path d="M225.1,525.1 C228,524.3 230,524.2 232.7,524.4 C237,524.6 242,524.8 246.2,525.1 C250,525.8 254,526.4 258.3,527.4 C262,529 266,530.5 268.9,532.7 C272,535.5 274.5,538.5 275.6,541.7 C276,545 275.8,548 274.9,550.8 C273,553 271,554.5 268.9,555.3 C265,556.2 261.5,556.3 258.3,556 C255,555.3 252,554.8 249.3,553.8 C247,550 245,546 241.7,543.2 C238,541 235,540 232.7,538.7 C230.5,536.5 229,534.5 228.2,532.7 C226,530 225,527.5 225.1,525.1 Z M211.6,541.7 C214.5,541.5 217.5,542.2 220.6,543.2 C223,544 225.5,545 228.2,546.2 C231,548 234,550 237.2,552.3 C240,554 243,556 246.2,558.3 C247,560 247,562 246.2,564.3 C244.5,566 242.5,567.8 240.2,568.9 C236.5,570.5 233,571.5 229.7,571.9 C226.5,570.8 224,569.3 222.1,567.4 C219.5,564.5 217.5,561.5 216.1,558.3 C214,555 212.5,552 211.6,549.3 C211,546.5 211,544 211.6,541.7 Z" fill="url(#lg3)"/><path d="M227.5,537 C233,539.5 238.5,541.5 242.5,544 C245.5,547 248,550.5 249.8,554 C249,556.5 247.5,558 246,558.8 C243,556 240,554 236.8,552 C233,549.5 229.5,547.5 226.5,546 C226.5,543 227,540 227.5,537 Z" fill="url(#lg3)"/><circle cx="228.2" cy="527.4" r="4.4" fill="#e8c8c0" fill-opacity="0.3" stroke="#f2eeee" stroke-width="0.8"/><circle cx="239.5" cy="528.2" r="4.4" fill="#e8c8c0" fill-opacity="0.3" stroke="#f2eeee" stroke-width="0.8"/><circle cx="238" cy="538.7" r="4.4" fill="#e8c8c0" fill-opacity="0.3" stroke="#f2eeee" stroke-width="0.8"/><circle cx="264.8" cy="534.9" r="4.4" fill="#e8c8c0" fill-opacity="0.3" stroke="#f2eeee" stroke-width="0.8"/><circle cx="216.8" cy="545.5" r="4.4" fill="#e8c8c0" fill-opacity="0.3" stroke="#f2eeee" stroke-width="0.8"/><circle cx="230.4" cy="547.8" r="4.4" fill="#e8c8c0" fill-opacity="0.3" stroke="#f2eeee" stroke-width="0.8"/><circle cx="242.5" cy="552.3" r="4.4" fill="#e8c8c0" fill-opacity="0.3" stroke="#f2eeee" stroke-width="0.8"/><circle cx="236.4" cy="556" r="4.4" fill="#e8c8c0" fill-opacity="0.3" stroke="#f2eeee" stroke-width="0.8"/><circle cx="240.2" cy="561.3" r="4.4" fill="#e8c8c0" fill-opacity="0.3" stroke="#f2eeee" stroke-width="0.8"/><text transform="translate(16.4,543.9) rotate(-90)" font-size="14.5" text-anchor="middle" fill="#111">G4</text><text x="302.0" y="229.3" font-size="24" text-anchor="start" font-weight="bold" fill="#000" >d</text><rect x="321.4" y="253.90" width="164.10000000000002" height="84.53" fill="#f0f6e9"/><path d="M321.4,366.6 L321.4,235.4 L485.5,235.4 L485.5,366.6 L321.4,366.6" fill="none" stroke="#7a7a7a" stroke-width="1"/><line x1="341.4" y1="366.6" x2="464.4" y2="366.6" stroke="#1e1e1e" stroke-width="1.6"/><line x1="318.79999999999995" y1="366.60" x2="321.4" y2="366.60" stroke="#7a7a7a" stroke-width="1"/><text x="317.59999999999997" y="369.60" font-size="8.6" text-anchor="end" font-weight="normal" fill="#222" >0.0</text><line x1="318.79999999999995" y1="338.43" x2="321.4" y2="338.43" stroke="#7a7a7a" stroke-width="1"/><text x="317.59999999999997" y="341.43" font-size="8.6" text-anchor="end" font-weight="normal" fill="#222" >7.5</text><line x1="318.79999999999995" y1="310.25" x2="321.4" y2="310.25" stroke="#7a7a7a" stroke-width="1"/><text x="317.59999999999997" y="313.25" font-size="8.6" text-anchor="end" font-weight="normal" fill="#222" >15.0</text><line x1="318.79999999999995" y1="282.07" x2="321.4" y2="282.07" stroke="#7a7a7a" stroke-width="1"/><text x="317.59999999999997" y="285.07" font-size="8.6" text-anchor="end" font-weight="normal" fill="#222" >22.5</text><line x1="318.79999999999995" y1="253.90" x2="321.4" y2="253.90" stroke="#7a7a7a" stroke-width="1"/><text x="317.59999999999997" y="256.90" font-size="8.6" text-anchor="end" font-weight="normal" fill="#222" >30.0</text><line x1="341.4" y1="366.6" x2="341.4" y2="369.20000000000005" stroke="#7a7a7a" stroke-width="1"/><text x="341.4" y="379.6" font-size="10.9" text-anchor="middle" font-weight="normal" fill="#222" >G1</text><rect x="327.7" y="356.71" width="27.4" height="3.9" fill="#1f9a69"/><g fill="#ffffff" fill-opacity="0.45" stroke="#1f9a69" stroke-width="0.9"><circle cx="340.87" cy="363.36" r="1.35"/><circle cx="342.07" cy="361.44" r="1.35"/><circle cx="346.15" cy="363.59" r="1.35"/><circle cx="341.02" cy="362.92" r="1.35"/><circle cx="341.49" cy="358.30" r="1.35"/><circle cx="342.38" cy="363.68" r="1.35"/><circle cx="337.87" cy="356.93" r="1.35"/><circle cx="341.53" cy="362.10" r="1.35"/><circle cx="342.85" cy="357.49" r="1.35"/><circle cx="344.68" cy="363.42" r="1.35"/><circle cx="336.85" cy="362.32" r="1.35"/><circle cx="339.20" cy="363.89" r="1.35"/><circle cx="337.31" cy="352.77" r="1.35"/><circle cx="344.87" cy="358.86" r="1.35"/><circle cx="343.57" cy="361.48" r="1.35"/><circle cx="336.27" cy="361.54" r="1.35"/><circle cx="346.22" cy="352.58" r="1.35"/><circle cx="346.05" cy="352.18" r="1.35"/><circle cx="343.12" cy="358.60" r="1.35"/><circle cx="342.69" cy="361.77" r="1.35"/><circle cx="337.56" cy="362.99" r="1.35"/><circle cx="335.97" cy="364.94" r="1.35"/><circle cx="341.72" cy="361.37" r="1.35"/><circle cx="336.47" cy="360.46" r="1.35"/><circle cx="337.93" cy="362.97" r="1.35"/><circle cx="338.51" cy="362.32" r="1.35"/><circle cx="336.14" cy="360.32" r="1.35"/><circle cx="341.04" cy="352.38" r="1.35"/><circle cx="340.73" cy="361.10" r="1.35"/><circle cx="345.24" cy="356.29" r="1.35"/><circle cx="341.61" cy="360.62" r="1.35"/><circle cx="342.97" cy="359.73" r="1.35"/><circle cx="341.40" cy="362.70" r="1.35"/><circle cx="343.22" cy="364.49" r="1.35"/><circle cx="340.92" cy="360.54" r="1.35"/><circle cx="338.92" cy="363.42" r="1.35"/><circle cx="346.97" cy="361.92" r="1.35"/><circle cx="346.95" cy="358.10" r="1.35"/><circle cx="345.21" cy="361.37" r="1.35"/><circle cx="343.73" cy="356.11" r="1.35"/><circle cx="339.33" cy="359.21" r="1.35"/><circle cx="338.37" cy="363.45" r="1.35"/><circle cx="339.04" cy="362.08" r="1.35"/><circle cx="337.10" cy="354.09" r="1.35"/><circle cx="344.38" cy="364.92" r="1.35"/><circle cx="340.28" cy="355.47" r="1.35"/><circle cx="344.87" cy="350.15" r="1.35"/><circle cx="340.13" cy="362.87" r="1.35"/><circle cx="346.53" cy="364.49" r="1.35"/><circle cx="345.29" cy="359.14" r="1.35"/><circle cx="335.81" cy="361.55" r="1.35"/><circle cx="338.15" cy="364.82" r="1.35"/><circle cx="345.50" cy="354.28" r="1.35"/><circle cx="341.06" cy="359.07" r="1.35"/><circle cx="346.78" cy="360.26" r="1.35"/><circle cx="340.37" cy="347.07" r="1.35"/><circle cx="337.13" cy="345.56" r="1.35"/><circle cx="342.44" cy="344.06" r="1.35"/><circle cx="343.63" cy="342.56" r="1.35"/><circle cx="339.56" cy="340.30" r="1.35"/><circle cx="338.92" cy="327.91" r="1.35"/><circle cx="340.40" cy="325.65" r="1.35"/><circle cx="344.18" cy="323.40" r="1.35"/></g><line x1="382.4" y1="366.6" x2="382.4" y2="369.20000000000005" stroke="#7a7a7a" stroke-width="1"/><text x="382.4" y="379.6" font-size="10.9" text-anchor="middle" font-weight="normal" fill="#222" >G2</text><rect x="368.7" y="356.71" width="27.4" height="3.9" fill="#1f9a69"/><g fill="#ffffff" fill-opacity="0.45" stroke="#1f9a69" stroke-width="0.9"><circle cx="384.98" cy="354.63" r="1.35"/><circle cx="378.58" cy="349.05" r="1.35"/><circle cx="379.56" cy="361.20" r="1.35"/><circle cx="377.93" cy="363.94" r="1.35"/><circle cx="378.00" cy="350.64" r="1.35"/><circle cx="385.73" cy="358.35" r="1.35"/><circle cx="378.79" cy="358.39" r="1.35"/><circle cx="383.06" cy="360.18" r="1.35"/><circle cx="381.87" cy="351.03" r="1.35"/><circle cx="379.31" cy="354.38" r="1.35"/><circle cx="385.00" cy="359.30" r="1.35"/><circle cx="378.71" cy="350.76" r="1.35"/><circle cx="383.55" cy="342.39" r="1.35"/><circle cx="378.57" cy="348.86" r="1.35"/><circle cx="381.51" cy="362.59" r="1.35"/><circle cx="379.53" cy="349.02" r="1.35"/><circle cx="379.82" cy="358.77" r="1.35"/><circle cx="386.17" cy="343.87" r="1.35"/><circle cx="385.80" cy="361.26" r="1.35"/><circle cx="380.21" cy="356.99" r="1.35"/><circle cx="386.25" cy="352.67" r="1.35"/><circle cx="379.51" cy="354.27" r="1.35"/><circle cx="381.34" cy="352.87" r="1.35"/><circle cx="386.37" cy="363.51" r="1.35"/><circle cx="383.99" cy="362.52" r="1.35"/><circle cx="377.92" cy="360.39" r="1.35"/><circle cx="387.29" cy="347.32" r="1.35"/><circle cx="379.19" cy="358.31" r="1.35"/><circle cx="379.69" cy="359.44" r="1.35"/><circle cx="385.45" cy="359.11" r="1.35"/><circle cx="380.69" cy="347.61" r="1.35"/><circle cx="380.36" cy="350.84" r="1.35"/><circle cx="378.13" cy="354.52" r="1.35"/><circle cx="377.81" cy="359.32" r="1.35"/><circle cx="383.06" cy="343.04" r="1.35"/><circle cx="379.52" cy="358.14" r="1.35"/><circle cx="383.53" cy="355.79" r="1.35"/><circle cx="381.12" cy="344.87" r="1.35"/><circle cx="381.88" cy="363.21" r="1.35"/><circle cx="386.99" cy="353.80" r="1.35"/><circle cx="382.24" cy="350.51" r="1.35"/><circle cx="383.15" cy="347.14" r="1.35"/><circle cx="386.51" cy="359.06" r="1.35"/><circle cx="378.85" cy="363.59" r="1.35"/><circle cx="378.53" cy="361.62" r="1.35"/><circle cx="386.97" cy="357.96" r="1.35"/><circle cx="385.96" cy="363.93" r="1.35"/><circle cx="379.89" cy="352.37" r="1.35"/><circle cx="378.93" cy="357.83" r="1.35"/><circle cx="385.08" cy="360.61" r="1.35"/><circle cx="386.80" cy="353.55" r="1.35"/><circle cx="379.00" cy="364.98" r="1.35"/><circle cx="387.44" cy="355.36" r="1.35"/><circle cx="386.22" cy="354.62" r="1.35"/><circle cx="383.44" cy="348.77" r="1.35"/><circle cx="381.52" cy="360.27" r="1.35"/><circle cx="378.44" cy="349.73" r="1.35"/><circle cx="377.23" cy="363.77" r="1.35"/><circle cx="387.58" cy="363.61" r="1.35"/><circle cx="379.47" cy="361.93" r="1.35"/><circle cx="384.45" cy="349.45" r="1.35"/><circle cx="379.97" cy="353.71" r="1.35"/><circle cx="385.64" cy="351.08" r="1.35"/><circle cx="383.36" cy="350.99" r="1.35"/><circle cx="380.09" cy="356.42" r="1.35"/><circle cx="378.76" cy="358.17" r="1.35"/><circle cx="384.60" cy="352.56" r="1.35"/><circle cx="377.57" cy="355.60" r="1.35"/><circle cx="379.36" cy="361.39" r="1.35"/><circle cx="383.06" cy="363.68" r="1.35"/><circle cx="386.35" cy="363.57" r="1.35"/><circle cx="383.68" cy="358.80" r="1.35"/><circle cx="379.94" cy="363.30" r="1.35"/><circle cx="387.07" cy="362.16" r="1.35"/><circle cx="379.08" cy="358.83" r="1.35"/><circle cx="376.99" cy="365.28" r="1.35"/><circle cx="379.81" cy="356.68" r="1.35"/><circle cx="381.79" cy="358.91" r="1.35"/><circle cx="378.88" cy="342.63" r="1.35"/><circle cx="378.77" cy="361.62" r="1.35"/><circle cx="380.93" cy="360.47" r="1.35"/><circle cx="383.21" cy="361.09" r="1.35"/><circle cx="378.27" cy="365.14" r="1.35"/><circle cx="381.02" cy="354.87" r="1.35"/><circle cx="386.78" cy="361.49" r="1.35"/><circle cx="387.78" cy="360.94" r="1.35"/><circle cx="383.97" cy="344.58" r="1.35"/><circle cx="384.31" cy="352.62" r="1.35"/><circle cx="383.35" cy="362.54" r="1.35"/><circle cx="378.37" cy="360.80" r="1.35"/><circle cx="377.19" cy="362.60" r="1.35"/><circle cx="377.00" cy="360.43" r="1.35"/><circle cx="386.99" cy="357.90" r="1.35"/><circle cx="384.65" cy="362.11" r="1.35"/><circle cx="387.58" cy="359.40" r="1.35"/><circle cx="377.04" cy="361.28" r="1.35"/><circle cx="383.93" cy="359.04" r="1.35"/><circle cx="382.20" cy="364.16" r="1.35"/><circle cx="384.98" cy="362.74" r="1.35"/><circle cx="380.37" cy="364.58" r="1.35"/><circle cx="387.99" cy="359.80" r="1.35"/><circle cx="378.15" cy="353.92" r="1.35"/><circle cx="382.86" cy="352.12" r="1.35"/><circle cx="385.05" cy="364.53" r="1.35"/><circle cx="386.40" cy="354.54" r="1.35"/><circle cx="385.06" cy="355.64" r="1.35"/><circle cx="384.44" cy="348.48" r="1.35"/><circle cx="385.33" cy="346.11" r="1.35"/><circle cx="387.05" cy="361.30" r="1.35"/><circle cx="380.74" cy="361.44" r="1.35"/><circle cx="384.47" cy="358.26" r="1.35"/><circle cx="386.41" cy="352.98" r="1.35"/><circle cx="386.11" cy="353.02" r="1.35"/><circle cx="381.57" cy="348.97" r="1.35"/><circle cx="385.65" cy="357.59" r="1.35"/><circle cx="386.03" cy="348.47" r="1.35"/><circle cx="383.22" cy="363.30" r="1.35"/><circle cx="383.65" cy="351.82" r="1.35"/><circle cx="381.08" cy="363.60" r="1.35"/><circle cx="383.33" cy="363.13" r="1.35"/><circle cx="383.62" cy="356.30" r="1.35"/><circle cx="377.70" cy="363.69" r="1.35"/><circle cx="383.96" cy="364.29" r="1.35"/><circle cx="387.33" cy="348.01" r="1.35"/><circle cx="386.20" cy="353.47" r="1.35"/><circle cx="384.23" cy="337.30" r="1.35"/><circle cx="381.51" cy="335.42" r="1.35"/><circle cx="384.28" cy="333.17" r="1.35"/><circle cx="382.89" cy="331.29" r="1.35"/><circle cx="382.04" cy="329.03" r="1.35"/><circle cx="384.43" cy="327.91" r="1.35"/><circle cx="379.90" cy="324.53" r="1.35"/><circle cx="383.90" cy="323.02" r="1.35"/><circle cx="379.58" cy="321.52" r="1.35"/><circle cx="383.01" cy="320.39" r="1.35"/><circle cx="382.29" cy="318.51" r="1.35"/><circle cx="380.78" cy="316.26" r="1.35"/><circle cx="383.59" cy="313.26" r="1.35"/><circle cx="382.38" cy="311.00" r="1.35"/><circle cx="383.09" cy="309.50" r="1.35"/><circle cx="384.92" cy="303.86" r="1.35"/><circle cx="380.93" cy="330.16" r="1.35"/><circle cx="379.47" cy="325.28" r="1.35"/><circle cx="381.21" cy="319.27" r="1.35"/><circle cx="383.47" cy="317.76" r="1.35"/><circle cx="380.62" cy="314.01" r="1.35"/></g><line x1="423.4" y1="366.6" x2="423.4" y2="369.20000000000005" stroke="#7a7a7a" stroke-width="1"/><text x="423.4" y="379.6" font-size="10.9" text-anchor="middle" font-weight="normal" fill="#222" >G3</text><rect x="409.7" y="358.21" width="27.4" height="3.9" fill="#1f9a69"/><g fill="#ffffff" fill-opacity="0.45" stroke="#1f9a69" stroke-width="0.9"><circle cx="419.70" cy="363.63" r="1.35"/><circle cx="427.94" cy="358.82" r="1.35"/><circle cx="425.19" cy="360.13" r="1.35"/><circle cx="422.75" cy="363.79" r="1.35"/><circle cx="427.79" cy="364.54" r="1.35"/><circle cx="421.46" cy="361.31" r="1.35"/><circle cx="425.26" cy="364.03" r="1.35"/><circle cx="420.02" cy="361.69" r="1.35"/><circle cx="422.63" cy="356.68" r="1.35"/><circle cx="426.83" cy="356.78" r="1.35"/><circle cx="428.04" cy="361.82" r="1.35"/><circle cx="427.66" cy="359.86" r="1.35"/><circle cx="422.11" cy="359.50" r="1.35"/><circle cx="424.33" cy="357.00" r="1.35"/><circle cx="421.34" cy="358.15" r="1.35"/><circle cx="419.33" cy="361.08" r="1.35"/><circle cx="423.36" cy="356.98" r="1.35"/><circle cx="427.18" cy="360.00" r="1.35"/><circle cx="427.31" cy="365.28" r="1.35"/><circle cx="425.77" cy="358.86" r="1.35"/><circle cx="428.44" cy="360.97" r="1.35"/><circle cx="420.90" cy="356.33" r="1.35"/><circle cx="419.69" cy="360.27" r="1.35"/><circle cx="422.85" cy="356.49" r="1.35"/><circle cx="420.88" cy="359.72" r="1.35"/><circle cx="420.20" cy="364.28" r="1.35"/><circle cx="422.54" cy="354.17" r="1.35"/><circle cx="424.81" cy="357.36" r="1.35"/><circle cx="423.33" cy="364.74" r="1.35"/><circle cx="421.33" cy="361.89" r="1.35"/><circle cx="427.20" cy="363.03" r="1.35"/><circle cx="428.80" cy="362.98" r="1.35"/><circle cx="422.87" cy="356.84" r="1.35"/><circle cx="418.64" cy="359.54" r="1.35"/><circle cx="418.15" cy="358.88" r="1.35"/><circle cx="427.58" cy="356.90" r="1.35"/><circle cx="418.26" cy="357.10" r="1.35"/><circle cx="425.74" cy="364.27" r="1.35"/><circle cx="424.19" cy="361.09" r="1.35"/><circle cx="421.26" cy="359.55" r="1.35"/><circle cx="426.66" cy="364.64" r="1.35"/><circle cx="418.01" cy="364.59" r="1.35"/><circle cx="419.32" cy="357.26" r="1.35"/><circle cx="422.89" cy="363.80" r="1.35"/><circle cx="418.08" cy="363.10" r="1.35"/><circle cx="426.70" cy="354.84" r="1.35"/><circle cx="420.46" cy="360.67" r="1.35"/><circle cx="419.38" cy="363.50" r="1.35"/><circle cx="418.87" cy="352.32" r="1.35"/><circle cx="424.69" cy="350.82" r="1.35"/><circle cx="422.97" cy="339.18" r="1.35"/><circle cx="424.18" cy="329.03" r="1.35"/><circle cx="424.33" cy="316.64" r="1.35"/></g><line x1="464.4" y1="366.6" x2="464.4" y2="369.20000000000005" stroke="#7a7a7a" stroke-width="1"/><text x="464.4" y="379.6" font-size="10.9" text-anchor="middle" font-weight="normal" fill="#222" >G4</text><rect x="450.7" y="356.71" width="27.4" height="3.9" fill="#1f9a69"/><g fill="#ffffff" fill-opacity="0.45" stroke="#1f9a69" stroke-width="0.9"><circle cx="467.84" cy="357.94" r="1.35"/><circle cx="469.53" cy="365.17" r="1.35"/><circle cx="466.24" cy="355.28" r="1.35"/><circle cx="461.03" cy="364.34" r="1.35"/><circle cx="464.15" cy="349.34" r="1.35"/><circle cx="460.80" cy="364.55" r="1.35"/><circle cx="459.51" cy="352.78" r="1.35"/><circle cx="464.12" cy="347.36" r="1.35"/><circle cx="466.54" cy="345.93" r="1.35"/><circle cx="460.81" cy="357.21" r="1.35"/><circle cx="462.12" cy="354.71" r="1.35"/><circle cx="463.17" cy="342.73" r="1.35"/><circle cx="466.37" cy="352.26" r="1.35"/><circle cx="464.56" cy="341.69" r="1.35"/><circle cx="465.54" cy="352.43" r="1.35"/><circle cx="466.96" cy="350.48" r="1.35"/><circle cx="463.21" cy="365.13" r="1.35"/><circle cx="467.67" cy="362.97" r="1.35"/><circle cx="468.95" cy="364.94" r="1.35"/><circle cx="459.78" cy="358.17" r="1.35"/><circle cx="469.25" cy="362.48" r="1.35"/><circle cx="466.18" cy="343.75" r="1.35"/><circle cx="460.25" cy="364.75" r="1.35"/><circle cx="463.88" cy="358.90" r="1.35"/><circle cx="465.66" cy="353.26" r="1.35"/><circle cx="468.99" cy="362.91" r="1.35"/><circle cx="463.17" cy="350.14" r="1.35"/><circle cx="465.17" cy="358.61" r="1.35"/><circle cx="468.19" cy="352.38" r="1.35"/><circle cx="467.37" cy="345.50" r="1.35"/><circle cx="469.38" cy="358.10" r="1.35"/><circle cx="464.04" cy="353.17" r="1.35"/><circle cx="466.09" cy="355.76" r="1.35"/><circle cx="461.09" cy="365.19" r="1.35"/><circle cx="466.89" cy="355.61" r="1.35"/><circle cx="467.97" cy="363.29" r="1.35"/><circle cx="465.82" cy="351.11" r="1.35"/><circle cx="466.58" cy="346.48" r="1.35"/><circle cx="461.19" cy="357.60" r="1.35"/><circle cx="468.40" cy="354.19" r="1.35"/><circle cx="469.78" cy="358.49" r="1.35"/><circle cx="469.17" cy="354.44" r="1.35"/><circle cx="464.81" cy="356.02" r="1.35"/><circle cx="467.31" cy="346.87" r="1.35"/><circle cx="462.39" cy="363.88" r="1.35"/><circle cx="468.50" cy="351.10" r="1.35"/><circle cx="468.38" cy="360.91" r="1.35"/><circle cx="462.70" cy="361.34" r="1.35"/><circle cx="459.73" cy="357.57" r="1.35"/><circle cx="463.93" cy="341.94" r="1.35"/><circle cx="464.96" cy="356.57" r="1.35"/><circle cx="467.40" cy="361.97" r="1.35"/><circle cx="464.30" cy="338.48" r="1.35"/><circle cx="459.68" cy="354.77" r="1.35"/><circle cx="467.86" cy="361.79" r="1.35"/><circle cx="459.52" cy="359.77" r="1.35"/><circle cx="467.76" cy="355.91" r="1.35"/><circle cx="460.74" cy="356.30" r="1.35"/><circle cx="462.55" cy="357.28" r="1.35"/><circle cx="467.62" cy="361.36" r="1.35"/><circle cx="460.81" cy="349.25" r="1.35"/><circle cx="460.47" cy="357.35" r="1.35"/><circle cx="464.59" cy="359.86" r="1.35"/><circle cx="466.19" cy="340.23" r="1.35"/><circle cx="467.80" cy="354.51" r="1.35"/><circle cx="466.29" cy="349.54" r="1.35"/><circle cx="469.39" cy="361.72" r="1.35"/><circle cx="464.32" cy="359.64" r="1.35"/><circle cx="467.99" cy="341.96" r="1.35"/><circle cx="460.26" cy="344.15" r="1.35"/><circle cx="461.28" cy="359.65" r="1.35"/><circle cx="464.67" cy="354.13" r="1.35"/><circle cx="462.05" cy="357.00" r="1.35"/><circle cx="466.23" cy="342.61" r="1.35"/><circle cx="465.96" cy="363.84" r="1.35"/><circle cx="464.66" cy="358.54" r="1.35"/><circle cx="467.84" cy="354.44" r="1.35"/><circle cx="465.00" cy="354.40" r="1.35"/><circle cx="462.29" cy="364.21" r="1.35"/><circle cx="463.07" cy="361.77" r="1.35"/><circle cx="468.27" cy="355.36" r="1.35"/><circle cx="468.89" cy="364.87" r="1.35"/><circle cx="461.13" cy="362.94" r="1.35"/><circle cx="467.91" cy="353.07" r="1.35"/><circle cx="469.65" cy="360.97" r="1.35"/><circle cx="464.64" cy="354.57" r="1.35"/><circle cx="465.22" cy="364.06" r="1.35"/><circle cx="461.41" cy="355.03" r="1.35"/><circle cx="464.76" cy="355.17" r="1.35"/><circle cx="464.43" cy="351.58" r="1.35"/><circle cx="465.58" cy="357.62" r="1.35"/><circle cx="459.11" cy="357.81" r="1.35"/><circle cx="469.66" cy="359.51" r="1.35"/><circle cx="464.56" cy="345.04" r="1.35"/><circle cx="463.29" cy="360.14" r="1.35"/><circle cx="467.77" cy="364.47" r="1.35"/><circle cx="465.10" cy="359.00" r="1.35"/><circle cx="464.33" cy="341.91" r="1.35"/><circle cx="466.31" cy="352.86" r="1.35"/><circle cx="459.54" cy="361.38" r="1.35"/><circle cx="464.71" cy="338.05" r="1.35"/><circle cx="463.71" cy="336.55" r="1.35"/><circle cx="468.05" cy="335.04" r="1.35"/><circle cx="467.79" cy="333.17" r="1.35"/><circle cx="463.02" cy="331.29" r="1.35"/><circle cx="464.24" cy="329.41" r="1.35"/><circle cx="462.16" cy="327.91" r="1.35"/><circle cx="464.00" cy="326.40" r="1.35"/><circle cx="466.29" cy="324.15" r="1.35"/><circle cx="466.80" cy="322.27" r="1.35"/><circle cx="464.26" cy="320.02" r="1.35"/><circle cx="463.30" cy="318.14" r="1.35"/><circle cx="462.55" cy="314.76" r="1.35"/><circle cx="465.11" cy="303.49" r="1.35"/><circle cx="467.80" cy="334.29" r="1.35"/><circle cx="462.18" cy="332.41" r="1.35"/><circle cx="466.08" cy="328.66" r="1.35"/><circle cx="461.54" cy="325.28" r="1.35"/><circle cx="462.56" cy="330.54" r="1.35"/><circle cx="462.22" cy="335.80" r="1.35"/></g><line x1="342.4" y1="250.4" x2="464.9" y2="250.4" stroke="#1e1e1e" stroke-width="1.6"/><text x="403.65" y="247.6" font-size="11.5" text-anchor="middle" font-weight="normal" fill="#222" >P&lt;0.0001</text><line x1="382.7" y1="265.5" x2="464.9" y2="265.5" stroke="#1e1e1e" stroke-width="1.6"/><text x="423.79999999999995" y="262.6" font-size="11.5" text-anchor="middle" font-weight="normal" fill="#222" >P=0.58797</text><line x1="423.2" y1="280.6" x2="464.9" y2="280.6" stroke="#1e1e1e" stroke-width="1.6"/><text x="444.04999999999995" y="278.0" font-size="11.5" text-anchor="middle" font-weight="normal" fill="#222" >P&lt;0.0001</text><text transform="translate(296.1,301.0) rotate(-90)" font-size="11" text-anchor="middle" fill="#222">FITC (arbitrary unit)</text><text x="491.8" y="229.3" font-size="24" text-anchor="start" font-weight="bold" fill="#000" >e</text><rect x="520.5" y="253.90" width="163.70000000000005" height="84.53" fill="#e0bdbd"/><path d="M520.5,366.6 L520.5,235.4 L684.2,235.4 L684.2,366.6 L520.5,366.6" fill="none" stroke="#7a7a7a" stroke-width="1"/><line x1="520.5" y1="366.6" x2="684.2" y2="366.6" stroke="#8a8a8a" stroke-width="1.4"/><line x1="517.9" y1="366.60" x2="520.5" y2="366.60" stroke="#7a7a7a" stroke-width="1"/><text x="516.7" y="369.60" font-size="8.6" text-anchor="end" font-weight="normal" fill="#222" >0.0</text><line x1="517.9" y1="338.43" x2="520.5" y2="338.43" stroke="#7a7a7a" stroke-width="1"/><text x="516.7" y="341.43" font-size="8.6" text-anchor="end" font-weight="normal" fill="#222" >7.5</text><line x1="517.9" y1="310.25" x2="520.5" y2="310.25" stroke="#7a7a7a" stroke-width="1"/><text x="516.7" y="313.25" font-size="8.6" text-anchor="end" font-weight="normal" fill="#222" >15.0</text><line x1="517.9" y1="282.07" x2="520.5" y2="282.07" stroke="#7a7a7a" stroke-width="1"/><text x="516.7" y="285.07" font-size="8.6" text-anchor="end" font-weight="normal" fill="#222" >22.5</text><line x1="517.9" y1="253.90" x2="520.5" y2="253.90" stroke="#7a7a7a" stroke-width="1"/><text x="516.7" y="256.90" font-size="8.6" text-anchor="end" font-weight="normal" fill="#222" >30.0</text><line x1="541.5" y1="366.6" x2="541.5" y2="369.20000000000005" stroke="#7a7a7a" stroke-width="1"/><text x="541.5" y="379.6" font-size="10.9" text-anchor="middle" font-weight="normal" fill="#222" >G1</text><rect x="527.8" y="357.46" width="27.4" height="3.9" fill="#b30c16"/><g fill="#ffffff" fill-opacity="0.45" stroke="#c3161f" stroke-width="0.9"><circle cx="538.80" cy="358.92" r="1.35"/><circle cx="543.57" cy="363.78" r="1.35"/><circle cx="543.56" cy="356.54" r="1.35"/><circle cx="544.99" cy="354.91" r="1.35"/><circle cx="537.98" cy="357.30" r="1.35"/><circle cx="538.48" cy="364.96" r="1.35"/><circle cx="537.55" cy="363.06" r="1.35"/><circle cx="538.42" cy="363.63" r="1.35"/><circle cx="544.12" cy="356.46" r="1.35"/><circle cx="537.36" cy="362.15" r="1.35"/><circle cx="541.85" cy="358.90" r="1.35"/><circle cx="538.30" cy="363.61" r="1.35"/><circle cx="539.20" cy="363.15" r="1.35"/><circle cx="540.73" cy="358.18" r="1.35"/><circle cx="545.28" cy="364.67" r="1.35"/><circle cx="542.71" cy="361.38" r="1.35"/><circle cx="536.06" cy="365.04" r="1.35"/><circle cx="538.99" cy="362.02" r="1.35"/><circle cx="537.97" cy="349.95" r="1.35"/><circle cx="545.66" cy="364.68" r="1.35"/><circle cx="544.97" cy="355.45" r="1.35"/><circle cx="544.93" cy="359.01" r="1.35"/><circle cx="545.16" cy="356.95" r="1.35"/><circle cx="544.24" cy="357.81" r="1.35"/><circle cx="546.53" cy="360.78" r="1.35"/><circle cx="544.79" cy="361.94" r="1.35"/><circle cx="538.78" cy="360.30" r="1.35"/><circle cx="545.42" cy="355.62" r="1.35"/><circle cx="541.35" cy="362.73" r="1.35"/><circle cx="544.36" cy="363.92" r="1.35"/><circle cx="542.22" cy="364.80" r="1.35"/><circle cx="540.71" cy="360.67" r="1.35"/><circle cx="539.98" cy="362.89" r="1.35"/><circle cx="540.80" cy="353.21" r="1.35"/><circle cx="539.41" cy="360.88" r="1.35"/><circle cx="537.67" cy="351.89" r="1.35"/><circle cx="545.08" cy="363.64" r="1.35"/><circle cx="544.84" cy="363.72" r="1.35"/><circle cx="546.94" cy="359.59" r="1.35"/><circle cx="543.64" cy="359.86" r="1.35"/><circle cx="542.11" cy="358.25" r="1.35"/><circle cx="544.28" cy="364.24" r="1.35"/><circle cx="537.41" cy="362.54" r="1.35"/><circle cx="543.48" cy="363.46" r="1.35"/><circle cx="540.87" cy="362.46" r="1.35"/><circle cx="537.88" cy="363.32" r="1.35"/><circle cx="538.53" cy="352.64" r="1.35"/><circle cx="541.75" cy="358.47" r="1.35"/><circle cx="538.74" cy="365.03" r="1.35"/><circle cx="541.05" cy="364.45" r="1.35"/><circle cx="542.68" cy="357.99" r="1.35"/><circle cx="540.33" cy="361.07" r="1.35"/><circle cx="537.36" cy="362.45" r="1.35"/><circle cx="541.40" cy="364.97" r="1.35"/><circle cx="538.85" cy="350.06" r="1.35"/><circle cx="538.86" cy="352.32" r="1.35"/><circle cx="538.44" cy="350.45" r="1.35"/><circle cx="540.16" cy="348.57" r="1.35"/><circle cx="538.09" cy="341.05" r="1.35"/><circle cx="542.71" cy="339.18" r="1.35"/><circle cx="545.13" cy="338.05" r="1.35"/><circle cx="540.62" cy="336.55" r="1.35"/><circle cx="543.25" cy="335.04" r="1.35"/><circle cx="544.96" cy="333.17" r="1.35"/><circle cx="538.76" cy="331.29" r="1.35"/><circle cx="539.35" cy="329.78" r="1.35"/><circle cx="543.34" cy="328.66" r="1.35"/><circle cx="543.53" cy="327.16" r="1.35"/><circle cx="542.33" cy="329.03" r="1.35"/><circle cx="539.46" cy="312.13" r="1.35"/><circle cx="540.98" cy="300.86" r="1.35"/><circle cx="543.71" cy="297.85" r="1.35"/><circle cx="543.82" cy="289.96" r="1.35"/></g><line x1="582.4" y1="366.6" x2="582.4" y2="369.20000000000005" stroke="#7a7a7a" stroke-width="1"/><text x="582.4" y="379.6" font-size="10.9" text-anchor="middle" font-weight="normal" fill="#222" >G2</text><rect x="568.6999999999999" y="357.46" width="27.4" height="3.9" fill="#b30c16"/><g fill="#ffffff" fill-opacity="0.45" stroke="#c3161f" stroke-width="0.9"><circle cx="585.80" cy="364.83" r="1.35"/><circle cx="579.07" cy="356.66" r="1.35"/><circle cx="586.36" cy="360.55" r="1.35"/><circle cx="581.00" cy="362.50" r="1.35"/><circle cx="584.82" cy="361.97" r="1.35"/><circle cx="578.33" cy="360.01" r="1.35"/><circle cx="587.68" cy="362.40" r="1.35"/><circle cx="583.44" cy="346.20" r="1.35"/><circle cx="584.63" cy="349.72" r="1.35"/><circle cx="579.52" cy="353.57" r="1.35"/><circle cx="583.71" cy="361.14" r="1.35"/><circle cx="583.31" cy="360.93" r="1.35"/><circle cx="583.42" cy="361.84" r="1.35"/><circle cx="580.82" cy="361.64" r="1.35"/><circle cx="584.95" cy="360.32" r="1.35"/><circle cx="580.62" cy="365.22" r="1.35"/><circle cx="580.11" cy="358.66" r="1.35"/><circle cx="578.64" cy="364.17" r="1.35"/><circle cx="584.24" cy="351.91" r="1.35"/><circle cx="578.06" cy="356.30" r="1.35"/><circle cx="579.33" cy="362.79" r="1.35"/><circle cx="577.57" cy="359.30" r="1.35"/><circle cx="583.84" cy="353.69" r="1.35"/><circle cx="583.03" cy="364.64" r="1.35"/><circle cx="582.89" cy="361.17" r="1.35"/><circle cx="577.79" cy="354.10" r="1.35"/><circle cx="581.80" cy="349.30" r="1.35"/><circle cx="580.64" cy="356.04" r="1.35"/><circle cx="577.84" cy="359.89" r="1.35"/><circle cx="577.43" cy="348.82" r="1.35"/><circle cx="587.98" cy="363.61" r="1.35"/><circle cx="578.16" cy="364.44" r="1.35"/><circle cx="580.18" cy="362.62" r="1.35"/><circle cx="579.81" cy="356.98" r="1.35"/><circle cx="583.49" cy="359.10" r="1.35"/><circle cx="577.67" cy="362.54" r="1.35"/><circle cx="582.06" cy="357.16" r="1.35"/><circle cx="580.91" cy="362.30" r="1.35"/><circle cx="585.75" cy="353.61" r="1.35"/><circle cx="576.86" cy="358.00" r="1.35"/><circle cx="580.75" cy="351.65" r="1.35"/><circle cx="582.37" cy="354.97" r="1.35"/><circle cx="587.10" cy="348.49" r="1.35"/><circle cx="582.59" cy="362.58" r="1.35"/><circle cx="582.11" cy="361.23" r="1.35"/><circle cx="584.10" cy="354.57" r="1.35"/><circle cx="580.12" cy="363.43" r="1.35"/><circle cx="577.16" cy="358.14" r="1.35"/><circle cx="582.42" cy="364.49" r="1.35"/><circle cx="586.50" cy="355.04" r="1.35"/><circle cx="585.07" cy="362.28" r="1.35"/><circle cx="579.69" cy="357.62" r="1.35"/><circle cx="584.46" cy="359.78" r="1.35"/><circle cx="586.31" cy="359.31" r="1.35"/><circle cx="579.70" cy="358.05" r="1.35"/><circle cx="583.39" cy="362.32" r="1.35"/><circle cx="580.78" cy="360.09" r="1.35"/><circle cx="579.54" cy="361.10" r="1.35"/><circle cx="580.02" cy="358.99" r="1.35"/><circle cx="579.08" cy="357.00" r="1.35"/><circle cx="580.91" cy="354.26" r="1.35"/><circle cx="577.78" cy="344.38" r="1.35"/><circle cx="581.38" cy="351.99" r="1.35"/><circle cx="577.77" cy="364.13" r="1.35"/><circle cx="585.29" cy="361.83" r="1.35"/><circle cx="583.52" cy="365.03" r="1.35"/><circle cx="576.85" cy="362.79" r="1.35"/><circle cx="585.47" cy="355.92" r="1.35"/><circle cx="579.30" cy="345.84" r="1.35"/><circle cx="582.21" cy="348.87" r="1.35"/><circle cx="583.01" cy="362.00" r="1.35"/><circle cx="580.53" cy="361.03" r="1.35"/><circle cx="580.04" cy="360.37" r="1.35"/><circle cx="581.67" cy="363.27" r="1.35"/><circle cx="578.77" cy="354.64" r="1.35"/><circle cx="586.47" cy="358.84" r="1.35"/><circle cx="578.05" cy="364.09" r="1.35"/><circle cx="586.02" cy="361.89" r="1.35"/><circle cx="579.58" cy="350.75" r="1.35"/><circle cx="580.20" cy="360.70" r="1.35"/><circle cx="581.15" cy="364.43" r="1.35"/><circle cx="577.17" cy="355.72" r="1.35"/><circle cx="578.24" cy="360.77" r="1.35"/><circle cx="580.84" cy="361.42" r="1.35"/><circle cx="581.75" cy="361.67" r="1.35"/><circle cx="586.16" cy="348.89" r="1.35"/><circle cx="587.89" cy="356.96" r="1.35"/><circle cx="577.29" cy="357.49" r="1.35"/><circle cx="582.79" cy="362.79" r="1.35"/><circle cx="578.25" cy="363.49" r="1.35"/><circle cx="585.80" cy="359.36" r="1.35"/><circle cx="580.41" cy="364.20" r="1.35"/><circle cx="586.80" cy="362.47" r="1.35"/><circle cx="582.91" cy="362.30" r="1.35"/><circle cx="578.21" cy="363.98" r="1.35"/><circle cx="576.86" cy="358.48" r="1.35"/><circle cx="579.58" cy="359.23" r="1.35"/><circle cx="586.52" cy="364.79" r="1.35"/><circle cx="578.90" cy="353.24" r="1.35"/><circle cx="582.16" cy="361.93" r="1.35"/><circle cx="580.96" cy="360.69" r="1.35"/><circle cx="580.66" cy="361.40" r="1.35"/><circle cx="585.78" cy="362.63" r="1.35"/><circle cx="579.19" cy="360.15" r="1.35"/><circle cx="584.85" cy="359.74" r="1.35"/><circle cx="584.27" cy="355.90" r="1.35"/><circle cx="587.28" cy="357.42" r="1.35"/><circle cx="582.60" cy="353.29" r="1.35"/><circle cx="587.11" cy="363.50" r="1.35"/><circle cx="581.73" cy="362.25" r="1.35"/><circle cx="582.99" cy="340.30" r="1.35"/><circle cx="583.36" cy="338.43" r="1.35"/><circle cx="585.12" cy="336.55" r="1.35"/><circle cx="585.58" cy="335.04" r="1.35"/><circle cx="579.32" cy="333.54" r="1.35"/><circle cx="580.22" cy="332.04" r="1.35"/><circle cx="582.60" cy="330.54" r="1.35"/><circle cx="584.27" cy="329.03" r="1.35"/><circle cx="582.60" cy="327.53" r="1.35"/><circle cx="581.20" cy="325.65" r="1.35"/><circle cx="585.17" cy="324.15" r="1.35"/><circle cx="581.19" cy="321.52" r="1.35"/><circle cx="579.92" cy="319.27" r="1.35"/><circle cx="579.71" cy="316.26" r="1.35"/><circle cx="579.58" cy="313.26" r="1.35"/><circle cx="583.76" cy="310.63" r="1.35"/><circle cx="580.04" cy="307.62" r="1.35"/><circle cx="583.70" cy="305.37" r="1.35"/><circle cx="584.60" cy="303.11" r="1.35"/><circle cx="585.40" cy="301.61" r="1.35"/><circle cx="584.25" cy="298.23" r="1.35"/><circle cx="581.95" cy="295.22" r="1.35"/><circle cx="583.13" cy="294.10" r="1.35"/><circle cx="584.40" cy="292.97" r="1.35"/><circle cx="583.70" cy="279.07" r="1.35"/><circle cx="581.14" cy="332.79" r="1.35"/><circle cx="583.97" cy="329.41" r="1.35"/><circle cx="580.06" cy="323.40" r="1.35"/><circle cx="581.25" cy="310.25" r="1.35"/><circle cx="587.36" cy="345.94" r="1.35"/><circle cx="582.17" cy="344.06" r="1.35"/><circle cx="580.54" cy="342.18" r="1.35"/><circle cx="585.25" cy="347.07" r="1.35"/><circle cx="581.90" cy="348.57" r="1.35"/></g><line x1="623.3" y1="366.6" x2="623.3" y2="369.20000000000005" stroke="#7a7a7a" stroke-width="1"/><text x="623.3" y="379.6" font-size="10.9" text-anchor="middle" font-weight="normal" fill="#222" >G3</text><rect x="609.5999999999999" y="359.34" width="27.4" height="3.9" fill="#b30c16"/><g fill="#ffffff" fill-opacity="0.45" stroke="#c3161f" stroke-width="0.9"><circle cx="617.74" cy="364.39" r="1.35"/><circle cx="618.03" cy="361.77" r="1.35"/><circle cx="620.60" cy="360.88" r="1.35"/><circle cx="621.42" cy="363.03" r="1.35"/><circle cx="628.20" cy="358.40" r="1.35"/><circle cx="620.47" cy="364.90" r="1.35"/><circle cx="627.22" cy="363.22" r="1.35"/><circle cx="627.26" cy="363.74" r="1.35"/><circle cx="622.36" cy="360.58" r="1.35"/><circle cx="628.82" cy="358.88" r="1.35"/><circle cx="626.23" cy="364.89" r="1.35"/><circle cx="623.12" cy="359.49" r="1.35"/><circle cx="620.63" cy="363.28" r="1.35"/><circle cx="622.86" cy="358.81" r="1.35"/><circle cx="627.80" cy="358.66" r="1.35"/><circle cx="623.71" cy="364.29" r="1.35"/><circle cx="619.87" cy="356.95" r="1.35"/><circle cx="621.91" cy="364.48" r="1.35"/><circle cx="623.03" cy="359.02" r="1.35"/><circle cx="619.84" cy="364.42" r="1.35"/><circle cx="624.12" cy="364.43" r="1.35"/><circle cx="618.08" cy="360.19" r="1.35"/><circle cx="626.90" cy="361.73" r="1.35"/><circle cx="619.70" cy="363.27" r="1.35"/><circle cx="618.85" cy="361.14" r="1.35"/><circle cx="624.30" cy="362.64" r="1.35"/><circle cx="621.14" cy="364.06" r="1.35"/><circle cx="627.61" cy="363.07" r="1.35"/><circle cx="623.27" cy="363.49" r="1.35"/><circle cx="623.54" cy="361.41" r="1.35"/><circle cx="627.05" cy="363.61" r="1.35"/><circle cx="620.10" cy="359.80" r="1.35"/><circle cx="626.05" cy="364.25" r="1.35"/><circle cx="624.97" cy="357.60" r="1.35"/><circle cx="622.50" cy="364.02" r="1.35"/><circle cx="628.44" cy="361.32" r="1.35"/><circle cx="617.95" cy="358.47" r="1.35"/><circle cx="627.36" cy="364.68" r="1.35"/><circle cx="619.31" cy="358.66" r="1.35"/><circle cx="627.11" cy="356.79" r="1.35"/><circle cx="620.53" cy="334.67" r="1.35"/><circle cx="619.73" cy="333.54" r="1.35"/><circle cx="623.30" cy="321.90" r="1.35"/></g><line x1="664.1" y1="366.6" x2="664.1" y2="369.20000000000005" stroke="#7a7a7a" stroke-width="1"/><text x="664.1" y="379.6" font-size="10.9" text-anchor="middle" font-weight="normal" fill="#222" >G4</text><rect x="650.4" y="357.46" width="27.4" height="3.9" fill="#b30c16"/><g fill="#ffffff" fill-opacity="0.45" stroke="#c3161f" stroke-width="0.9"><circle cx="668.87" cy="363.58" r="1.35"/><circle cx="661.38" cy="357.63" r="1.35"/><circle cx="663.95" cy="359.25" r="1.35"/><circle cx="665.31" cy="363.14" r="1.35"/><circle cx="661.54" cy="347.11" r="1.35"/><circle cx="664.44" cy="362.64" r="1.35"/><circle cx="658.61" cy="358.33" r="1.35"/><circle cx="663.53" cy="361.20" r="1.35"/><circle cx="667.01" cy="361.88" r="1.35"/><circle cx="662.50" cy="354.38" r="1.35"/><circle cx="661.30" cy="353.26" r="1.35"/><circle cx="659.61" cy="352.86" r="1.35"/><circle cx="666.11" cy="352.77" r="1.35"/><circle cx="663.28" cy="362.69" r="1.35"/><circle cx="668.24" cy="355.10" r="1.35"/><circle cx="666.51" cy="354.37" r="1.35"/><circle cx="659.62" cy="364.58" r="1.35"/><circle cx="668.74" cy="357.22" r="1.35"/><circle cx="668.94" cy="358.35" r="1.35"/><circle cx="667.65" cy="364.51" r="1.35"/><circle cx="666.75" cy="341.85" r="1.35"/><circle cx="666.13" cy="355.88" r="1.35"/><circle cx="666.57" cy="360.42" r="1.35"/><circle cx="665.97" cy="364.60" r="1.35"/><circle cx="665.12" cy="364.16" r="1.35"/><circle cx="661.38" cy="361.83" r="1.35"/><circle cx="660.00" cy="365.13" r="1.35"/><circle cx="666.36" cy="344.74" r="1.35"/><circle cx="665.18" cy="359.42" r="1.35"/><circle cx="659.13" cy="360.72" r="1.35"/><circle cx="665.69" cy="357.41" r="1.35"/><circle cx="665.33" cy="362.25" r="1.35"/><circle cx="664.23" cy="359.43" r="1.35"/><circle cx="666.85" cy="347.33" r="1.35"/><circle cx="667.86" cy="347.02" r="1.35"/><circle cx="662.77" cy="362.46" r="1.35"/><circle cx="667.25" cy="345.47" r="1.35"/><circle cx="664.09" cy="351.22" r="1.35"/><circle cx="664.82" cy="348.40" r="1.35"/><circle cx="663.24" cy="348.74" r="1.35"/><circle cx="668.95" cy="360.70" r="1.35"/><circle cx="663.48" cy="364.34" r="1.35"/><circle cx="669.17" cy="362.02" r="1.35"/><circle cx="662.29" cy="358.06" r="1.35"/><circle cx="666.03" cy="355.58" r="1.35"/><circle cx="668.72" cy="357.84" r="1.35"/><circle cx="665.94" cy="353.82" r="1.35"/><circle cx="662.85" cy="348.85" r="1.35"/><circle cx="659.37" cy="359.48" r="1.35"/><circle cx="663.86" cy="361.02" r="1.35"/><circle cx="663.14" cy="363.35" r="1.35"/><circle cx="667.24" cy="353.74" r="1.35"/><circle cx="666.94" cy="354.80" r="1.35"/><circle cx="669.55" cy="356.56" r="1.35"/><circle cx="663.51" cy="359.01" r="1.35"/><circle cx="663.10" cy="362.80" r="1.35"/><circle cx="664.82" cy="357.67" r="1.35"/><circle cx="666.90" cy="359.91" r="1.35"/><circle cx="659.40" cy="358.98" r="1.35"/><circle cx="661.25" cy="353.71" r="1.35"/><circle cx="660.13" cy="359.04" r="1.35"/><circle cx="662.35" cy="349.92" r="1.35"/><circle cx="661.86" cy="362.18" r="1.35"/><circle cx="669.34" cy="360.47" r="1.35"/><circle cx="660.83" cy="358.55" r="1.35"/><circle cx="668.96" cy="358.52" r="1.35"/><circle cx="662.05" cy="351.70" r="1.35"/><circle cx="660.78" cy="360.60" r="1.35"/><circle cx="669.41" cy="363.70" r="1.35"/><circle cx="660.81" cy="343.53" r="1.35"/><circle cx="659.76" cy="364.54" r="1.35"/><circle cx="659.94" cy="358.08" r="1.35"/><circle cx="659.25" cy="356.11" r="1.35"/><circle cx="662.83" cy="362.81" r="1.35"/><circle cx="661.22" cy="352.04" r="1.35"/><circle cx="660.28" cy="363.69" r="1.35"/><circle cx="659.26" cy="344.52" r="1.35"/><circle cx="666.32" cy="361.40" r="1.35"/><circle cx="659.05" cy="356.39" r="1.35"/><circle cx="661.41" cy="347.46" r="1.35"/><circle cx="664.83" cy="360.50" r="1.35"/><circle cx="668.40" cy="364.86" r="1.35"/><circle cx="665.89" cy="363.51" r="1.35"/><circle cx="666.44" cy="356.86" r="1.35"/><circle cx="666.35" cy="361.33" r="1.35"/><circle cx="667.43" cy="364.44" r="1.35"/><circle cx="666.92" cy="341.64" r="1.35"/><circle cx="660.24" cy="363.68" r="1.35"/><circle cx="659.11" cy="359.51" r="1.35"/><circle cx="665.45" cy="363.73" r="1.35"/><circle cx="664.31" cy="362.84" r="1.35"/><circle cx="664.33" cy="361.24" r="1.35"/><circle cx="666.92" cy="349.85" r="1.35"/><circle cx="660.45" cy="359.04" r="1.35"/><circle cx="666.41" cy="356.78" r="1.35"/><circle cx="663.28" cy="355.74" r="1.35"/><circle cx="663.22" cy="357.23" r="1.35"/><circle cx="661.55" cy="354.62" r="1.35"/><circle cx="661.92" cy="353.22" r="1.35"/><circle cx="664.98" cy="360.01" r="1.35"/><circle cx="664.70" cy="358.82" r="1.35"/><circle cx="668.66" cy="360.84" r="1.35"/><circle cx="661.64" cy="355.91" r="1.35"/><circle cx="666.52" cy="359.32" r="1.35"/><circle cx="660.07" cy="352.09" r="1.35"/><circle cx="665.80" cy="356.02" r="1.35"/><circle cx="660.71" cy="355.22" r="1.35"/><circle cx="667.68" cy="349.34" r="1.35"/><circle cx="669.31" cy="364.34" r="1.35"/><circle cx="661.64" cy="353.37" r="1.35"/><circle cx="666.57" cy="338.43" r="1.35"/><circle cx="661.86" cy="336.55" r="1.35"/><circle cx="662.54" cy="334.67" r="1.35"/><circle cx="661.72" cy="332.79" r="1.35"/><circle cx="663.75" cy="331.29" r="1.35"/><circle cx="661.73" cy="329.78" r="1.35"/><circle cx="665.33" cy="327.91" r="1.35"/><circle cx="664.55" cy="326.03" r="1.35"/><circle cx="663.62" cy="324.53" r="1.35"/><circle cx="665.36" cy="322.65" r="1.35"/><circle cx="662.50" cy="319.64" r="1.35"/><circle cx="663.09" cy="317.76" r="1.35"/><circle cx="663.28" cy="316.26" r="1.35"/><circle cx="661.11" cy="311.00" r="1.35"/><circle cx="666.42" cy="309.50" r="1.35"/><circle cx="661.63" cy="308.00" r="1.35"/><circle cx="661.71" cy="306.49" r="1.35"/><circle cx="665.89" cy="305.37" r="1.35"/><circle cx="666.01" cy="287.71" r="1.35"/><circle cx="663.79" cy="329.03" r="1.35"/><circle cx="663.63" cy="325.28" r="1.35"/><circle cx="661.21" cy="342.18" r="1.35"/><circle cx="660.11" cy="340.30" r="1.35"/><circle cx="664.26" cy="344.06" r="1.35"/><circle cx="661.54" cy="345.56" r="1.35"/></g><line x1="542.5" y1="250.4" x2="664.6" y2="250.4" stroke="#1e1e1e" stroke-width="1.6"/><text x="603.55" y="247.6" font-size="11.5" text-anchor="middle" font-weight="normal" fill="#222" >P&lt;0.0001</text><line x1="582.6999999999999" y1="265.5" x2="664.6" y2="265.5" stroke="#1e1e1e" stroke-width="1.6"/><text x="623.65" y="262.6" font-size="11.5" text-anchor="middle" font-weight="normal" fill="#222" >P=0.60835</text><line x1="623.0999999999999" y1="280.6" x2="664.6" y2="280.6" stroke="#1e1e1e" stroke-width="1.6"/><text x="643.8499999999999" y="278.0" font-size="11.5" text-anchor="middle" font-weight="normal" fill="#222" >P&lt;0.0001</text><text transform="translate(495.5,301.0) rotate(-90)" font-size="11" text-anchor="middle" fill="#222">Cy3 (arbitrary unit)</text><text x="303.5" y="413.6" font-size="24" text-anchor="start" font-weight="bold" fill="#000" >f</text><rect x="321.2" y="422.1" width="164.60000000000002" height="131.79999999999995" fill="none" stroke="#7a7a7a" stroke-width="1"/><line x1="318.59999999999997" y1="553.90" x2="321.2" y2="553.90" stroke="#7a7a7a" stroke-width="1"/><text x="317.4" y="556.90" font-size="8.6" text-anchor="end" font-weight="normal" fill="#222" >0</text><line x1="318.59999999999997" y1="509.97" x2="321.2" y2="509.97" stroke="#7a7a7a" stroke-width="1"/><text x="317.4" y="512.97" font-size="8.6" text-anchor="end" font-weight="normal" fill="#222" >10</text><line x1="318.59999999999997" y1="466.03" x2="321.2" y2="466.03" stroke="#7a7a7a" stroke-width="1"/><text x="317.4" y="469.03" font-size="8.6" text-anchor="end" font-weight="normal" fill="#222" >20</text><line x1="318.59999999999997" y1="422.10" x2="321.2" y2="422.10" stroke="#7a7a7a" stroke-width="1"/><text x="317.4" y="425.10" font-size="8.6" text-anchor="end" font-weight="normal" fill="#222" >30</text><line x1="341.9" y1="553.9" x2="341.9" y2="556.5" stroke="#7a7a7a" stroke-width="1"/><text x="341.9" y="567.2" font-size="10.9" text-anchor="middle" font-weight="normal" fill="#222" >G1</text><path d="M333.90,520.95 L333.90,514.80 M330.90,514.80 L336.90,514.80" stroke="#1f9a69" stroke-width="1.3" fill="none"/><rect x="327.90" y="520.95" width="12.00" height="32.95" fill="#abd9c6" stroke="#1f9a69" stroke-width="1.5"/><circle cx="333.90" cy="514.80" r="1.5" fill="#fff" stroke="#1f9a69" stroke-width="0.9"/><circle cx="330.90" cy="527.10" r="1.5" fill="#fff" stroke="#1f9a69" stroke-width="0.9"/><circle cx="336.40" cy="521.83" r="1.5" fill="#fff" stroke="#1f9a69" stroke-width="0.9"/><path d="M350.20,497.67 L350.20,487.56 M347.20,487.56 L353.20,487.56" stroke="#c02229" stroke-width="1.3" fill="none"/><rect x="344.20" y="497.67" width="12.00" height="56.23" fill="#e0a8a8" stroke="#c02229" stroke-width="1.5"/><circle cx="350.20" cy="488.00" r="1.5" fill="#fff" stroke="#c02229" stroke-width="0.9"/><circle cx="350.20" cy="495.91" r="1.5" fill="#fff" stroke="#c02229" stroke-width="0.9"/><circle cx="350.20" cy="509.09" r="1.5" fill="#fff" stroke="#c02229" stroke-width="0.9"/><line x1="382.6" y1="553.9" x2="382.6" y2="556.5" stroke="#7a7a7a" stroke-width="1"/><text x="382.6" y="567.2" font-size="10.9" text-anchor="middle" font-weight="normal" fill="#222" >G2</text><path d="M374.60,518.31 L374.60,517.44 M371.60,517.44 L377.60,517.44" stroke="#1f9a69" stroke-width="1.3" fill="none"/><rect x="368.60" y="518.31" width="12.00" height="35.59" fill="#abd9c6" stroke="#1f9a69" stroke-width="1.5"/><circle cx="371.60" cy="519.63" r="1.5" fill="#fff" stroke="#1f9a69" stroke-width="0.9"/><circle cx="374.60" cy="517.87" r="1.5" fill="#fff" stroke="#1f9a69" stroke-width="0.9"/><circle cx="377.60" cy="519.63" r="1.5" fill="#fff" stroke="#1f9a69" stroke-width="0.9"/><path d="M390.90,505.57 L390.90,503.38 M387.90,503.38 L393.90,503.38" stroke="#c02229" stroke-width="1.3" fill="none"/><rect x="384.90" y="505.57" width="12.00" height="48.33" fill="#e0a8a8" stroke="#c02229" stroke-width="1.5"/><circle cx="387.90" cy="505.13" r="1.5" fill="#fff" stroke="#c02229" stroke-width="0.9"/><circle cx="390.90" cy="503.82" r="1.5" fill="#fff" stroke="#c02229" stroke-width="0.9"/><circle cx="393.90" cy="505.57" r="1.5" fill="#fff" stroke="#c02229" stroke-width="0.9"/><line x1="423.3" y1="553.9" x2="423.3" y2="556.5" stroke="#7a7a7a" stroke-width="1"/><text x="423.3" y="567.2" font-size="10.9" text-anchor="middle" font-weight="normal" fill="#222" >G3</text><path d="M415.30,514.80 L415.30,513.48 M412.30,513.48 L418.30,513.48" stroke="#1f9a69" stroke-width="1.3" fill="none"/><rect x="409.30" y="514.80" width="12.00" height="39.10" fill="#abd9c6" stroke="#1f9a69" stroke-width="1.5"/><circle cx="412.30" cy="515.68" r="1.5" fill="#fff" stroke="#1f9a69" stroke-width="0.9"/><circle cx="415.30" cy="514.36" r="1.5" fill="#fff" stroke="#1f9a69" stroke-width="0.9"/><circle cx="418.30" cy="515.24" r="1.5" fill="#fff" stroke="#1f9a69" stroke-width="0.9"/><path d="M431.60,507.77 L431.60,500.30 M428.60,500.30 L434.60,500.30" stroke="#c02229" stroke-width="1.3" fill="none"/><rect x="425.60" y="507.77" width="12.00" height="46.13" fill="#e0a8a8" stroke="#c02229" stroke-width="1.5"/><circle cx="428.60" cy="512.16" r="1.5" fill="#fff" stroke="#c02229" stroke-width="0.9"/><circle cx="431.60" cy="500.74" r="1.5" fill="#fff" stroke="#c02229" stroke-width="0.9"/><circle cx="434.60" cy="510.41" r="1.5" fill="#fff" stroke="#c02229" stroke-width="0.9"/><line x1="464.0" y1="553.9" x2="464.0" y2="556.5" stroke="#7a7a7a" stroke-width="1"/><text x="464.0" y="567.2" font-size="10.9" text-anchor="middle" font-weight="normal" fill="#222" >G4</text><path d="M456.00,524.03 L456.00,522.71 M453.00,522.71 L459.00,522.71" stroke="#1f9a69" stroke-width="1.3" fill="none"/><rect x="450.00" y="524.03" width="12.00" height="29.87" fill="#abd9c6" stroke="#1f9a69" stroke-width="1.5"/><circle cx="453.00" cy="523.59" r="1.5" fill="#fff" stroke="#1f9a69" stroke-width="0.9"/><circle cx="456.00" cy="522.71" r="1.5" fill="#fff" stroke="#1f9a69" stroke-width="0.9"/><circle cx="459.00" cy="523.59" r="1.5" fill="#fff" stroke="#1f9a69" stroke-width="0.9"/><path d="M472.30,510.41 L472.30,509.53 M469.30,509.53 L475.30,509.53" stroke="#c02229" stroke-width="1.3" fill="none"/><rect x="466.30" y="510.41" width="12.00" height="43.49" fill="#e0a8a8" stroke="#c02229" stroke-width="1.5"/><circle cx="470.30" cy="510.41" r="1.5" fill="#fff" stroke="#c02229" stroke-width="0.9"/><circle cx="474.30" cy="510.41" r="1.5" fill="#fff" stroke="#c02229" stroke-width="0.9"/><rect x="428.2" y="429.4" width="19.2" height="8.5" fill="#abd9c6" stroke="#1f9a69" stroke-width="1.5"/><rect x="428.2" y="441.3" width="19.2" height="8.5" fill="#e0a8a8" stroke="#c02229" stroke-width="1.5"/><text x="449.9" y="437.0" font-size="9.1" text-anchor="start" font-weight="normal" fill="#222" >FITC</text><text x="449.9" y="448.9" font-size="9.1" text-anchor="start" font-weight="normal" fill="#222" >Cy3</text><text transform="translate(303.2,488.0) rotate(-90)" font-size="11" text-anchor="middle" fill="#222">FL (arbitrary units)</text><text x="492.0" y="413.6" font-size="24" text-anchor="start" font-weight="bold" fill="#000" >g</text><rect x="520.2" y="422.1" width="164.0999999999999" height="131.79999999999995" fill="none" stroke="#7a7a7a" stroke-width="1"/><line x1="517.6" y1="553.90" x2="520.2" y2="553.90" stroke="#7a7a7a" stroke-width="1"/><text x="516.4000000000001" y="556.90" font-size="8.6" text-anchor="end" font-weight="normal" fill="#222" >0</text><line x1="517.6" y1="488.00" x2="520.2" y2="488.00" stroke="#7a7a7a" stroke-width="1"/><text x="516.4000000000001" y="491.00" font-size="8.6" text-anchor="end" font-weight="normal" fill="#222" >30</text><line x1="517.6" y1="422.10" x2="520.2" y2="422.10" stroke="#7a7a7a" stroke-width="1"/><text x="516.4000000000001" y="425.10" font-size="8.6" text-anchor="end" font-weight="normal" fill="#222" >60</text><line x1="541.3" y1="553.9" x2="541.3" y2="556.5" stroke="#7a7a7a" stroke-width="1"/><text x="541.3" y="567.2" font-size="10.9" text-anchor="middle" font-weight="normal" fill="#222" >G1</text><path d="M533.30,532.15 L533.30,526.88 M530.30,526.88 L536.30,526.88" stroke="#1f9a69" stroke-width="1.3" fill="none"/><rect x="527.30" y="532.15" width="12.00" height="21.75" fill="#abd9c6" stroke="#1f9a69" stroke-width="1.5"/><circle cx="533.30" cy="527.98" r="1.5" fill="#fff" stroke="#1f9a69" stroke-width="0.9"/><circle cx="531.30" cy="533.91" r="1.5" fill="#fff" stroke="#1f9a69" stroke-width="0.9"/><circle cx="535.30" cy="535.67" r="1.5" fill="#fff" stroke="#1f9a69" stroke-width="0.9"/><path d="M549.60,521.61 L549.60,510.63 M546.60,510.63 L552.60,510.63" stroke="#c02229" stroke-width="1.3" fill="none"/><rect x="543.60" y="521.61" width="12.00" height="32.29" fill="#e0a8a8" stroke="#c02229" stroke-width="1.5"/><circle cx="547.60" cy="516.56" r="1.5" fill="#fff" stroke="#c02229" stroke-width="0.9"/><circle cx="551.60" cy="513.70" r="1.5" fill="#fff" stroke="#c02229" stroke-width="0.9"/><circle cx="549.60" cy="533.91" r="1.5" fill="#fff" stroke="#c02229" stroke-width="0.9"/><line x1="582.3" y1="553.9" x2="582.3" y2="556.5" stroke="#7a7a7a" stroke-width="1"/><text x="582.3" y="567.2" font-size="10.9" text-anchor="middle" font-weight="normal" fill="#222" >G2</text><path d="M574.30,481.41 L574.30,466.91 M571.30,466.91 L577.30,466.91" stroke="#1f9a69" stroke-width="1.3" fill="none"/><rect x="568.30" y="481.41" width="12.00" height="72.49" fill="#abd9c6" stroke="#1f9a69" stroke-width="1.5"/><circle cx="572.30" cy="479.43" r="1.5" fill="#fff" stroke="#1f9a69" stroke-width="0.9"/><circle cx="576.30" cy="468.01" r="1.5" fill="#fff" stroke="#1f9a69" stroke-width="0.9"/><circle cx="574.30" cy="496.79" r="1.5" fill="#fff" stroke="#1f9a69" stroke-width="0.9"/><path d="M590.60,466.91 L590.60,448.24 M587.60,448.24 L593.60,448.24" stroke="#c02229" stroke-width="1.3" fill="none"/><rect x="584.60" y="466.91" width="12.00" height="86.99" fill="#e0a8a8" stroke="#c02229" stroke-width="1.5"/><circle cx="588.60" cy="465.59" r="1.5" fill="#fff" stroke="#c02229" stroke-width="0.9"/><circle cx="592.60" cy="448.24" r="1.5" fill="#fff" stroke="#c02229" stroke-width="0.9"/><circle cx="590.60" cy="485.80" r="1.5" fill="#fff" stroke="#c02229" stroke-width="0.9"/><line x1="623.3" y1="553.9" x2="623.3" y2="556.5" stroke="#7a7a7a" stroke-width="1"/><text x="623.3" y="567.2" font-size="10.9" text-anchor="middle" font-weight="normal" fill="#222" >G3</text><path d="M615.30,542.48 L615.30,537.21 M612.30,537.21 L618.30,537.21" stroke="#1f9a69" stroke-width="1.3" fill="none"/><rect x="609.30" y="542.48" width="12.00" height="11.42" fill="#abd9c6" stroke="#1f9a69" stroke-width="1.5"/><circle cx="613.30" cy="540.72" r="1.5" fill="#fff" stroke="#1f9a69" stroke-width="0.9"/><circle cx="617.30" cy="539.62" r="1.5" fill="#fff" stroke="#1f9a69" stroke-width="0.9"/><circle cx="614.30" cy="546.65" r="1.5" fill="#fff" stroke="#1f9a69" stroke-width="0.9"/><path d="M631.60,539.62 L631.60,534.13 M628.60,534.13 L634.60,534.13" stroke="#c02229" stroke-width="1.3" fill="none"/><rect x="625.60" y="539.62" width="12.00" height="14.28" fill="#e0a8a8" stroke="#c02229" stroke-width="1.5"/><circle cx="629.60" cy="536.33" r="1.5" fill="#fff" stroke="#c02229" stroke-width="0.9"/><circle cx="633.60" cy="536.33" r="1.5" fill="#fff" stroke="#c02229" stroke-width="0.9"/><circle cx="631.60" cy="545.11" r="1.5" fill="#fff" stroke="#c02229" stroke-width="0.9"/><line x1="664.3" y1="553.9" x2="664.3" y2="556.5" stroke="#7a7a7a" stroke-width="1"/><text x="664.3" y="567.2" font-size="10.9" text-anchor="middle" font-weight="normal" fill="#222" >G4</text><path d="M656.30,496.13 L656.30,491.95 M653.30,491.95 L659.30,491.95" stroke="#1f9a69" stroke-width="1.3" fill="none"/><rect x="650.30" y="496.13" width="12.00" height="57.77" fill="#abd9c6" stroke="#1f9a69" stroke-width="1.5"/><circle cx="654.30" cy="494.59" r="1.5" fill="#fff" stroke="#1f9a69" stroke-width="0.9"/><circle cx="658.30" cy="492.39" r="1.5" fill="#fff" stroke="#1f9a69" stroke-width="0.9"/><circle cx="656.30" cy="501.18" r="1.5" fill="#fff" stroke="#1f9a69" stroke-width="0.9"/><path d="M672.60,459.22 L672.60,442.75 M669.60,442.75 L675.60,442.75" stroke="#c02229" stroke-width="1.3" fill="none"/><rect x="666.60" y="459.22" width="12.00" height="94.68" fill="#e0a8a8" stroke="#c02229" stroke-width="1.5"/><circle cx="670.60" cy="450.66" r="1.5" fill="#fff" stroke="#c02229" stroke-width="0.9"/><circle cx="674.60" cy="448.46" r="1.5" fill="#fff" stroke="#c02229" stroke-width="0.9"/><circle cx="672.60" cy="479.21" r="1.5" fill="#fff" stroke="#c02229" stroke-width="0.9"/><rect x="627.7" y="429.4" width="19.2" height="8.5" fill="#abd9c6" stroke="#1f9a69" stroke-width="1.5"/><rect x="627.7" y="441.3" width="19.2" height="8.5" fill="#e0a8a8" stroke="#c02229" stroke-width="1.5"/><text x="649.4" y="437.0" font-size="9.1" text-anchor="start" font-weight="normal" fill="#222" >FITC</text><text x="649.4" y="448.9" font-size="9.1" text-anchor="start" font-weight="normal" fill="#222" >Cy3</text><text transform="translate(503.2,488.0) rotate(-90)" font-size="11" text-anchor="middle" fill="#222">Count (#)</text>
</svg>
</body></html>
